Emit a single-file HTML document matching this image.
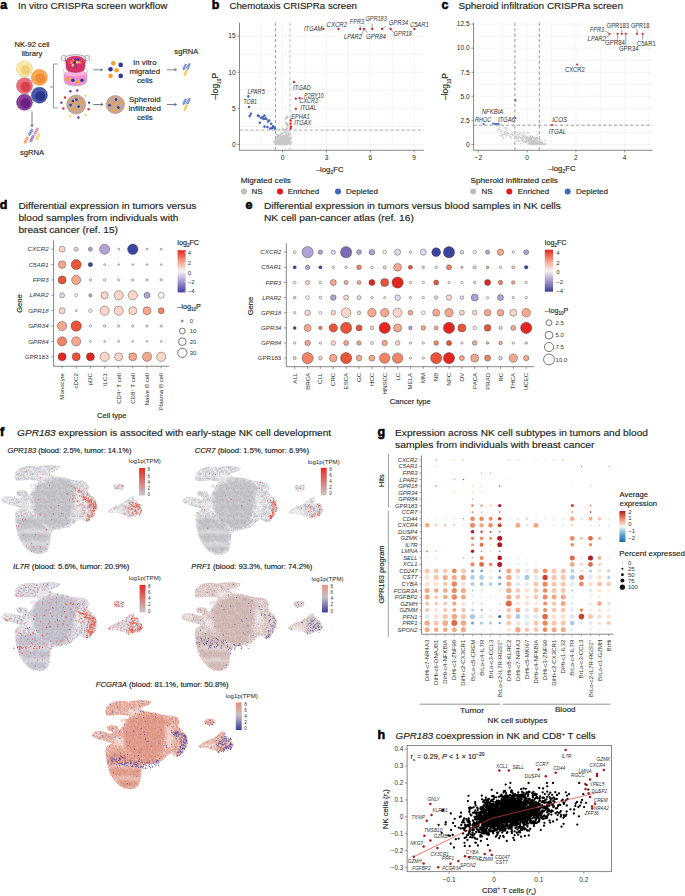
<!DOCTYPE html>
<html><head><meta charset="utf-8"><title>Figure</title>
<style>html,body{margin:0;padding:0;background:#fff;}svg{display:block;}</style>
</head><body>
<svg width="685" height="896" viewBox="0 0 685 896" font-family='"Liberation Sans", sans-serif' fill="#231f20"><text x="0.3" y="9.4" font-size="12.5" font-weight="bold" fill="#000" stroke="#000" stroke-width="0.55">a</text>
<text x="18.1" y="9.4" font-size="9" stroke="#231f20" stroke-width="0.15" textLength="149.4" lengthAdjust="spacingAndGlyphs">In vitro CRISPRa screen workflow</text>
<text x="32" y="46.6" font-size="7.6" text-anchor="middle" stroke="#231f20" stroke-width="0.15">NK-92 cell</text>
<text x="32" y="56.3" font-size="7.6" text-anchor="middle" stroke="#231f20" stroke-width="0.15">library</text>
<circle cx="24.5" cy="68.9" r="8" fill="#fbeaa6" stroke="#d8c070" stroke-width="0.5"/>
<circle cx="25.4" cy="69.9" r="4.96" fill="#f3d07e"/>
<circle cx="39.4" cy="77.4" r="8" fill="#f8a850" stroke="#d88a40" stroke-width="0.5"/>
<circle cx="40.3" cy="78.4" r="4.96" fill="#f08a34"/>
<circle cx="24.5" cy="85.8" r="8" fill="#ee6f78" stroke="#c05060" stroke-width="0.5"/>
<circle cx="25.4" cy="86.8" r="4.96" fill="#d8404e"/>
<circle cx="39.4" cy="95.2" r="8" fill="#4a58a8" stroke="#303a80" stroke-width="0.5"/>
<circle cx="40.3" cy="96.2" r="4.96" fill="#2c3688"/>
<circle cx="24.5" cy="102.3" r="8" fill="#8e3e9c" stroke="#6a3080" stroke-width="0.5"/>
<circle cx="25.4" cy="103.3" r="4.96" fill="#6a2180"/>
<line x1="32" y1="111.5" x2="32" y2="126.6" stroke="#4a5a70" stroke-width="0.8"/>
<path d="M30.8 124.5L32 126.6L33.2 124.5" stroke="#4a5a70" stroke-width="0.8" fill="none"/>
<path d="M29.1 135.2L29.9 135.1L30.6 134.8L31 134.4L30.9 133.7L30.6 132.9L30.2 132.1L30 131.3L30 130.7L30.4 130.3L31.1 130.1L32 129.9L32.8 129.7" stroke="#5a7cc8" stroke-width="0.9" fill="none" stroke-linecap="round"/>
<path d="M29.1 135.2L28.7 134.4L28.5 133.7L28.7 133.2L29.2 132.8L30 132.6L31 132.5L31.8 132.3L32.3 131.9L32.4 131.4L32.2 130.7L31.8 129.8L31.5 129" stroke="#5a7cc8" stroke-width="0.9" fill="none" stroke-linecap="round"/>
<path d="M30.6 134.8L28.5 133.7M30.9 133.7L29.2 132.8M30 130.7L32.3 131.9M31.1 130.1L32.2 130.7" stroke="#5a7cc8" stroke-width="0.7"/>
<path d="M34.6 134.1L35.4 134L36.1 133.7L36.5 133.3L36.4 132.6L36.1 131.8L35.7 131L35.5 130.2L35.5 129.6L35.9 129.2L36.6 129L37.5 128.8L38.3 128.6" stroke="#e070a0" stroke-width="0.9" fill="none" stroke-linecap="round"/>
<path d="M34.6 134.1L34.2 133.3L34 132.6L34.2 132.1L34.7 131.7L35.5 131.5L36.5 131.4L37.3 131.2L37.8 130.8L37.9 130.3L37.7 129.6L37.3 128.7L37 127.9" stroke="#e070a0" stroke-width="0.9" fill="none" stroke-linecap="round"/>
<path d="M36.1 133.7L34 132.6M36.4 132.6L34.7 131.7M35.5 129.6L37.8 130.8M36.6 129L37.7 129.6" stroke="#e070a0" stroke-width="0.7"/>
<path d="M30.5 141.4L31.3 141.3L32 141L32.4 140.6L32.3 139.9L32 139.1L31.6 138.3L31.4 137.5L31.4 136.9L31.8 136.5L32.5 136.3L33.4 136.1L34.2 135.9" stroke="#9a5cc0" stroke-width="0.9" fill="none" stroke-linecap="round"/>
<path d="M30.5 141.4L30.1 140.6L29.9 139.9L30.1 139.4L30.6 139L31.4 138.8L32.4 138.7L33.2 138.5L33.7 138.1L33.8 137.6L33.6 136.9L33.2 136L32.9 135.2" stroke="#9a5cc0" stroke-width="0.9" fill="none" stroke-linecap="round"/>
<path d="M32 141L29.9 139.9M32.3 139.9L30.6 139M31.4 136.9L33.7 138.1M32.5 136.3L33.6 136.9" stroke="#9a5cc0" stroke-width="0.7"/>
<path d="M24.7 142.9L25.5 142.8L26.2 142.5L26.6 142.1L26.5 141.4L26.2 140.6L25.8 139.8L25.6 139L25.6 138.4L26 138L26.7 137.8L27.6 137.6L28.4 137.4" stroke="#f09040" stroke-width="0.9" fill="none" stroke-linecap="round"/>
<path d="M24.7 142.9L24.3 142.1L24.1 141.4L24.3 140.9L24.8 140.5L25.6 140.3L26.6 140.2L27.4 140L27.9 139.6L28 139.1L27.8 138.4L27.4 137.5L27.1 136.7" stroke="#f09040" stroke-width="0.9" fill="none" stroke-linecap="round"/>
<path d="M26.2 142.5L24.1 141.4M26.5 141.4L24.8 140.5M25.6 138.4L27.9 139.6M26.7 137.8L27.8 138.4" stroke="#f09040" stroke-width="0.7"/>
<path d="M36.4 139.6L37.2 139.5L37.9 139.2L38.3 138.8L38.2 138.1L37.9 137.3L37.5 136.5L37.3 135.7L37.3 135.1L37.7 134.7L38.4 134.5L39.3 134.3L40.1 134.1" stroke="#f5cc50" stroke-width="0.9" fill="none" stroke-linecap="round"/>
<path d="M36.4 139.6L36 138.8L35.8 138.1L36 137.6L36.5 137.2L37.3 137L38.3 136.9L39.1 136.7L39.6 136.3L39.7 135.8L39.5 135.1L39.1 134.2L38.8 133.4" stroke="#f5cc50" stroke-width="0.9" fill="none" stroke-linecap="round"/>
<path d="M37.9 139.2L35.8 138.1M38.2 138.1L36.5 137.2M37.3 135.1L39.6 136.3M38.4 134.5L39.5 135.1" stroke="#f5cc50" stroke-width="0.7"/>
<text x="32" y="155" font-size="7.6" text-anchor="middle" stroke="#231f20" stroke-width="0.15">sgRNA</text>
<path d="M57.8 64H53.4V108H57.8M50 87H53.4" stroke="#6a6a6a" stroke-width="0.7" fill="none"/>
<path d="M64.0 73.2V80.6Q64.3 86.0 75.5 86.1Q86.7 86.0 87.0 80.6V73.2Z" fill="#f590cc" stroke="#8fbcbc" stroke-width="0.5"/>
<ellipse cx="75.5" cy="73.4" rx="11.5" ry="2.6" fill="#f8b4de"/>
<circle cx="67.6" cy="79.3" r="1.8" fill="#f5a030"/>
<circle cx="72.9" cy="80.2" r="1.8" fill="#2c3a98"/>
<circle cx="77.6" cy="81.8" r="1.8" fill="#f5a030"/>
<circle cx="82" cy="80.2" r="1.8" fill="#2c3a98"/>
<path d="M63.4 73.0V69.6Q63.6 66.4 75.5 66.2Q87.4 66.4 87.6 69.6V73.0" fill="none" stroke="#9cc8c8" stroke-width="0.55"/>
<path d="M65.8 55.6Q62.0 55.0 61.2 56.6Q61.0 57.6 62.4 58.0Q60.8 58.6 61.4 60.0Q62.4 61.2 65.8 61.0Z" fill="#f4f4f4" stroke="#6a6a6a" stroke-width="0.45"/>
<path d="M85.2 55.6Q89.0 55.0 89.8 56.6Q90.0 57.6 88.6 58.0Q90.2 58.6 89.6 60.0Q88.6 61.2 85.2 61.0Z" fill="#f4f4f4" stroke="#6a6a6a" stroke-width="0.45"/>
<path d="M65.2 58.4L66.4 68.6Q67.0 72.4 75.5 72.5Q84.0 72.4 84.6 68.6L85.8 58.4Z" fill="#d43268" stroke="#a82a50" stroke-width="0.4"/>
<ellipse cx="75.5" cy="58.3" rx="10.6" ry="3.7" fill="#e8e8e8" stroke="#6a6a6a" stroke-width="0.5"/>
<ellipse cx="75.5" cy="60.6" rx="9.2" ry="4.6" fill="#dc3a70"/>
<path d="M66.4 66.4Q75.5 69.6 84.6 66.4" stroke="#b82a58" stroke-width="0.5" fill="none"/>
<circle cx="75.5" cy="59.3" r="1.25" fill="#7a2a98"/>
<circle cx="78.1" cy="59.6" r="1.25" fill="#2c3a98"/>
<circle cx="71.4" cy="62.6" r="1.25" fill="#f5a030"/>
<circle cx="74.6" cy="62.3" r="1.25" fill="#2c3a98"/>
<circle cx="77.3" cy="62.2" r="1.25" fill="#fbe080"/>
<circle cx="79.6" cy="62.6" r="1.25" fill="#f5a030"/>
<circle cx="72.9" cy="65.2" r="1.25" fill="#fbe080"/>
<circle cx="75.5" cy="65.5" r="1.25" fill="#7a2a98"/>
<circle cx="73" cy="60.3" r="1.25" fill="#f07040"/>
<circle cx="76.2" cy="104.5" r="9.5" fill="#c8a690" stroke="#a08070" stroke-width="0.5"/>
<circle cx="76.5" cy="99.6" r="1.3" fill="#2c3a98"/>
<circle cx="81.3" cy="102" r="1.3" fill="#f5a030"/>
<circle cx="74.7" cy="103.1" r="1.3" fill="#f5a030"/>
<circle cx="70.6" cy="105.1" r="1.3" fill="#2c3a98"/>
<circle cx="78.7" cy="106.5" r="1.3" fill="#2c3a98"/>
<circle cx="74.9" cy="109.4" r="1.3" fill="#f5a030"/>
<circle cx="72.9" cy="101" r="1.3" fill="#2c3a98"/>
<circle cx="70.4" cy="91.3" r="1.2" fill="#7a2a98"/>
<circle cx="77.3" cy="90.5" r="1.2" fill="#7a2a98"/>
<circle cx="65" cy="97.5" r="1.2" fill="#e83040"/>
<circle cx="61.4" cy="102.6" r="1.2" fill="#7a2a98"/>
<circle cx="85.5" cy="95.6" r="1.2" fill="#f8d070"/>
<circle cx="89.1" cy="102.6" r="1.2" fill="#2c3a98"/>
<circle cx="63.4" cy="108.5" r="1.2" fill="#e83040"/>
<circle cx="88.6" cy="109.3" r="1.2" fill="#e83040"/>
<circle cx="70.1" cy="116.2" r="1.2" fill="#f8d070"/>
<circle cx="78.4" cy="117.5" r="1.2" fill="#7a2a98"/>
<circle cx="85.5" cy="115" r="1.2" fill="#f8d070"/>
<line x1="93.2" y1="69.8" x2="102.6" y2="69.8" stroke="#5a6b80" stroke-width="0.8"/>
<path d="M100.5 71L102.6 69.8L100.5 68.6" stroke="#5a6b80" stroke-width="0.8" fill="none"/>
<line x1="93.2" y1="104.5" x2="103" y2="104.5" stroke="#4a5a70" stroke-width="0.8"/>
<path d="M100.9 105.7L103 104.5L100.9 103.3" stroke="#4a5a70" stroke-width="0.8" fill="none"/>
<circle cx="113.3" cy="63.3" r="2.3" fill="#f5a030"/>
<circle cx="120.7" cy="64.9" r="2.3" fill="#2c3a98"/>
<circle cx="110.5" cy="69.3" r="2.3" fill="#2c3a98"/>
<circle cx="116.6" cy="70.3" r="2.3" fill="#f5a030"/>
<circle cx="110.5" cy="75.9" r="2.3" fill="#f5a030"/>
<circle cx="120.7" cy="75.9" r="2.3" fill="#2c3a98"/>
<circle cx="115.4" cy="104.5" r="9.1" fill="#c8a690" stroke="#a08070" stroke-width="0.5"/>
<circle cx="116" cy="99.6" r="1.3" fill="#2c3a98"/>
<circle cx="120.6" cy="102.4" r="1.3" fill="#f5a030"/>
<circle cx="113.9" cy="104" r="1.3" fill="#f5a030"/>
<circle cx="109.6" cy="105.3" r="1.3" fill="#2c3a98"/>
<circle cx="118.4" cy="107.6" r="1.3" fill="#2c3a98"/>
<circle cx="113.8" cy="110.2" r="1.3" fill="#f5a030"/>
<text x="144.8" y="64.5" font-size="7.9" text-anchor="middle" stroke="#231f20" stroke-width="0.15">In vitro</text>
<text x="144.8" y="73.8" font-size="7.9" text-anchor="middle" stroke="#231f20" stroke-width="0.15">migrated</text>
<text x="144.8" y="83" font-size="7.9" text-anchor="middle" stroke="#231f20" stroke-width="0.15">cells</text>
<text x="144.8" y="101.7" font-size="7.9" text-anchor="middle" stroke="#231f20" stroke-width="0.15">Spheroid</text>
<text x="144.8" y="110.8" font-size="7.9" text-anchor="middle" stroke="#231f20" stroke-width="0.15">infiltrated</text>
<text x="144.8" y="119.9" font-size="7.9" text-anchor="middle" stroke="#231f20" stroke-width="0.15">cells</text>
<line x1="167" y1="69.8" x2="176.4" y2="69.8" stroke="#5a6b80" stroke-width="0.8"/>
<path d="M174.3 71L176.4 69.8L174.3 68.6" stroke="#5a6b80" stroke-width="0.8" fill="none"/>
<line x1="167" y1="104.5" x2="176.4" y2="104.5" stroke="#4a5a70" stroke-width="0.8"/>
<path d="M174.3 105.7L176.4 104.5L174.3 103.3" stroke="#4a5a70" stroke-width="0.8" fill="none"/>
<text x="186.4" y="54" font-size="7.6" text-anchor="middle" stroke="#231f20" stroke-width="0.15">sgRNA</text>
<path d="M183.4 69.6L184.1 69.4L184.7 69.2L185 68.8L184.9 68.2L184.7 67.6L184.3 66.9L184 66.2L184 65.7L184.3 65.3L184.9 65L185.7 64.8L186.4 64.6" stroke="#5a7cc8" stroke-width="0.9" fill="none" stroke-linecap="round"/>
<path d="M183.4 69.6L183 68.9L182.9 68.3L183 67.9L183.5 67.5L184.1 67.3L184.9 67.1L185.6 66.9L186 66.6L186.1 66.1L185.9 65.5L185.6 64.8L185.2 64.1" stroke="#5a7cc8" stroke-width="0.9" fill="none" stroke-linecap="round"/>
<path d="M184.7 69.2L182.9 68.3M184.9 68.2L183.5 67.5M184 65.7L186 66.6M184.9 65L185.9 65.5" stroke="#5a7cc8" stroke-width="0.7"/>
<path d="M187.2 69L187.9 68.8L188.5 68.6L188.8 68.2L188.7 67.6L188.5 67L188.1 66.3L187.8 65.6L187.8 65.1L188.1 64.7L188.7 64.4L189.5 64.2L190.2 64" stroke="#5a7cc8" stroke-width="0.9" fill="none" stroke-linecap="round"/>
<path d="M187.2 69L186.8 68.3L186.7 67.7L186.8 67.3L187.3 66.9L187.9 66.7L188.7 66.5L189.4 66.3L189.8 66L189.9 65.5L189.7 64.9L189.4 64.2L189 63.5" stroke="#5a7cc8" stroke-width="0.9" fill="none" stroke-linecap="round"/>
<path d="M188.5 68.6L186.7 67.7M188.7 67.6L187.3 66.9M187.8 65.1L189.8 66M188.7 64.4L189.7 64.9" stroke="#5a7cc8" stroke-width="0.7"/>
<path d="M184.4 75.4L185.1 75.2L185.7 75L186 74.6L185.9 74L185.7 73.4L185.3 72.7L185 72L185 71.5L185.3 71.1L185.9 70.8L186.7 70.6L187.4 70.4" stroke="#f5c040" stroke-width="0.9" fill="none" stroke-linecap="round"/>
<path d="M184.4 75.4L184 74.7L183.9 74.1L184 73.7L184.5 73.3L185.1 73.1L185.9 72.9L186.6 72.7L187 72.4L187.1 71.9L186.9 71.3L186.6 70.6L186.2 69.9" stroke="#f5c040" stroke-width="0.9" fill="none" stroke-linecap="round"/>
<path d="M185.7 75L183.9 74.1M185.9 74L184.5 73.3M185 71.5L187 72.4M185.9 70.8L186.9 71.3" stroke="#f5c040" stroke-width="0.7"/>
<path d="M183.4 104.3L184.1 104.1L184.7 103.9L185 103.5L184.9 102.9L184.7 102.3L184.3 101.6L184 100.9L184 100.4L184.3 100L184.9 99.7L185.7 99.5L186.4 99.3" stroke="#5a7cc8" stroke-width="0.9" fill="none" stroke-linecap="round"/>
<path d="M183.4 104.3L183 103.6L182.9 103L183 102.6L183.5 102.2L184.1 102L184.9 101.8L185.6 101.6L186 101.3L186.1 100.8L185.9 100.2L185.6 99.5L185.2 98.8" stroke="#5a7cc8" stroke-width="0.9" fill="none" stroke-linecap="round"/>
<path d="M184.7 103.9L182.9 103M184.9 102.9L183.5 102.2M184 100.4L186 101.3M184.9 99.7L185.9 100.2" stroke="#5a7cc8" stroke-width="0.7"/>
<path d="M187.2 103.7L187.9 103.5L188.5 103.3L188.8 102.9L188.7 102.3L188.5 101.7L188.1 101L187.8 100.3L187.8 99.8L188.1 99.4L188.7 99.1L189.5 98.9L190.2 98.7" stroke="#5a7cc8" stroke-width="0.9" fill="none" stroke-linecap="round"/>
<path d="M187.2 103.7L186.8 103L186.7 102.4L186.8 102L187.3 101.6L187.9 101.4L188.7 101.2L189.4 101L189.8 100.7L189.9 100.2L189.7 99.6L189.4 98.9L189 98.2" stroke="#5a7cc8" stroke-width="0.9" fill="none" stroke-linecap="round"/>
<path d="M188.5 103.3L186.7 102.4M188.7 102.3L187.3 101.6M187.8 99.8L189.8 100.7M188.7 99.1L189.7 99.6" stroke="#5a7cc8" stroke-width="0.7"/>
<path d="M184.4 110.1L185.1 109.9L185.7 109.7L186 109.3L185.9 108.7L185.7 108.1L185.3 107.4L185 106.7L185 106.2L185.3 105.8L185.9 105.5L186.7 105.3L187.4 105.1" stroke="#f5c040" stroke-width="0.9" fill="none" stroke-linecap="round"/>
<path d="M184.4 110.1L184 109.4L183.9 108.8L184 108.4L184.5 108L185.1 107.8L185.9 107.6L186.6 107.4L187 107.1L187.1 106.6L186.9 106L186.6 105.3L186.2 104.6" stroke="#f5c040" stroke-width="0.9" fill="none" stroke-linecap="round"/>
<path d="M185.7 109.7L183.9 108.8M185.9 108.7L184.5 108M185 106.2L187 107.1M185.9 105.5L186.9 106" stroke="#f5c040" stroke-width="0.7"/>
<text x="211.8" y="9.4" font-size="12.5" font-weight="bold" fill="#000" stroke="#000" stroke-width="0.55">b</text>
<text x="229.4" y="9.4" font-size="9" stroke="#231f20" stroke-width="0.15" textLength="127.6" lengthAdjust="spacingAndGlyphs">Chemotaxis CRISPRa screen</text>
<line x1="260.8" y1="22.8" x2="260.8" y2="150.3" stroke="#ebebeb" stroke-width="0.5"/>
<line x1="282.7" y1="22.8" x2="282.7" y2="150.3" stroke="#ebebeb" stroke-width="0.5"/>
<line x1="304.6" y1="22.8" x2="304.6" y2="150.3" stroke="#ebebeb" stroke-width="0.5"/>
<line x1="326.5" y1="22.8" x2="326.5" y2="150.3" stroke="#ebebeb" stroke-width="0.5"/>
<line x1="348.4" y1="22.8" x2="348.4" y2="150.3" stroke="#ebebeb" stroke-width="0.5"/>
<line x1="370.3" y1="22.8" x2="370.3" y2="150.3" stroke="#ebebeb" stroke-width="0.5"/>
<line x1="392.2" y1="22.8" x2="392.2" y2="150.3" stroke="#ebebeb" stroke-width="0.5"/>
<line x1="414.1" y1="22.8" x2="414.1" y2="150.3" stroke="#ebebeb" stroke-width="0.5"/>
<line x1="239.5" y1="144.5" x2="424" y2="144.5" stroke="#ebebeb" stroke-width="0.5"/>
<line x1="239.5" y1="126.5" x2="424" y2="126.5" stroke="#ebebeb" stroke-width="0.5"/>
<line x1="239.5" y1="108.4" x2="424" y2="108.4" stroke="#ebebeb" stroke-width="0.5"/>
<line x1="239.5" y1="90.3" x2="424" y2="90.3" stroke="#ebebeb" stroke-width="0.5"/>
<line x1="239.5" y1="72.3" x2="424" y2="72.3" stroke="#ebebeb" stroke-width="0.5"/>
<line x1="239.5" y1="54.2" x2="424" y2="54.2" stroke="#ebebeb" stroke-width="0.5"/>
<line x1="239.5" y1="36.2" x2="424" y2="36.2" stroke="#ebebeb" stroke-width="0.5"/>
<line x1="239.5" y1="22.8" x2="239.5" y2="150.3" stroke="#555" stroke-width="0.7"/>
<line x1="239.5" y1="150.3" x2="424" y2="150.3" stroke="#555" stroke-width="0.7"/>
<line x1="237.3" y1="144.5" x2="239.5" y2="144.5" stroke="#555" stroke-width="0.6"/>
<text x="235.6" y="146.7" font-size="6.6" text-anchor="end">0</text>
<line x1="237.3" y1="108.4" x2="239.5" y2="108.4" stroke="#555" stroke-width="0.6"/>
<text x="235.6" y="110.6" font-size="6.6" text-anchor="end">5</text>
<line x1="237.3" y1="72.3" x2="239.5" y2="72.3" stroke="#555" stroke-width="0.6"/>
<text x="235.6" y="74.5" font-size="6.6" text-anchor="end">10</text>
<line x1="237.3" y1="36.2" x2="239.5" y2="36.2" stroke="#555" stroke-width="0.6"/>
<text x="235.6" y="38.4" font-size="6.6" text-anchor="end">15</text>
<line x1="282.7" y1="150.3" x2="282.7" y2="152.5" stroke="#555" stroke-width="0.6"/>
<text x="282.7" y="159.8" font-size="6.6" text-anchor="middle">0</text>
<line x1="326.5" y1="150.3" x2="326.5" y2="152.5" stroke="#555" stroke-width="0.6"/>
<text x="326.5" y="159.8" font-size="6.6" text-anchor="middle">3</text>
<line x1="370.3" y1="150.3" x2="370.3" y2="152.5" stroke="#555" stroke-width="0.6"/>
<text x="370.3" y="159.8" font-size="6.6" text-anchor="middle">6</text>
<line x1="414.1" y1="150.3" x2="414.1" y2="152.5" stroke="#555" stroke-width="0.6"/>
<text x="414.1" y="159.8" font-size="6.6" text-anchor="middle">9</text>
<line x1="275.4" y1="22.8" x2="275.4" y2="150.3" stroke="#555" stroke-width="0.6" stroke-dasharray="3.2,2.2"/>
<line x1="290" y1="22.8" x2="290" y2="150.3" stroke="#999" stroke-width="0.6" stroke-dasharray="3.2,2.2"/>
<line x1="239.5" y1="130.1" x2="424" y2="130.1" stroke="#777" stroke-width="0.6" stroke-dasharray="3.2,2.2"/>
<path d="M282.5 141.5h0M282.6 142.7h0M280 143.3h0M287.5 142.1h0M287.2 143.1h0M284.9 143.4h0M277.3 139.6h0M285.3 141.6h0M277.3 134.4h0M280.2 141.8h0M284.5 144.2h0M285.3 140.8h0M284.6 142.2h0M281 134.6h0M285.5 137.6h0M281.2 140.2h0M282.2 143.9h0M285.7 143.1h0M281.8 139h0M281.5 137.4h0M280.5 143.1h0M285 135.9h0M283.6 137h0M276.1 142.6h0M283 139.8h0M285.2 144.1h0M278.1 139.7h0M285.9 139h0M288.7 142.4h0M283.9 137h0M285.7 141h0M281.8 137.2h0M279.9 141.4h0M288.1 132.8h0M278.1 143.1h0M288.7 141.2h0M276.5 130h0M284.7 140.2h0M279.3 138.9h0M287.5 143.6h0M284.3 142h0M289.2 140.9h0M285.3 141.3h0M277.7 137.1h0M286.9 141.4h0M276.2 140.8h0M286.5 134h0M282.8 138.6h0M278.6 135.2h0M285.4 143.6h0M284.6 140.7h0M283.9 137.9h0M281 142.1h0M287.2 144.3h0M280.2 139h0M288.8 141.9h0M278.4 143.7h0M282.9 142.8h0M288.6 138.6h0M288 137.2h0M280.6 140.9h0M287.5 139.5h0M284.7 143.7h0M284 141.2h0M282.8 142.9h0M285.5 144.5h0M286.2 141.2h0M290.8 142.6h0M281.9 142.3h0M283.4 139.2h0M282.2 142.3h0M290.1 129.7h0M279.3 143.1h0M284.9 143.1h0M281.9 140.7h0M284.5 141.5h0M291.2 142.4h0M281.4 143.9h0M282.6 144.1h0M273.9 141.7h0M287.1 137.8h0M283.2 139h0M286.6 135.9h0M277.2 142.5h0M282.2 140.9h0M287.4 129h0M287.4 136.1h0M285.9 135.9h0M284.1 137.6h0M282.9 143.4h0M286.3 143.7h0M283.1 135.6h0M287.3 142.8h0M291.2 137.9h0M286.8 143h0M283.9 140.4h0M284.2 140.8h0M277.9 135.8h0M285.7 138.9h0M279.7 136h0M288.1 140.2h0M288.8 139.1h0M283.4 137.9h0M286.2 135.3h0M280.2 135.5h0M287 143.5h0M276.2 136.4h0M283.1 141h0M284.9 142.1h0M288.9 138.6h0M287.6 135.9h0M288.7 143.5h0M280.7 138.6h0M283.9 143.8h0M288.6 143h0M275 142.3h0M276.7 139.8h0M284.6 141h0M283.4 139.7h0M283.7 136.8h0M283.2 138.5h0M288.9 135.2h0M281 139.4h0M276.6 138.2h0M276.3 138.3h0M278.9 144.4h0M282.7 144.3h0M281.3 143.2h0M290 144.2h0M285.4 138.7h0M282.7 137.2h0M281.4 138.3h0M277.4 141h0M287.1 139.9h0M283.5 139.8h0M284 137.7h0M277.7 140.8h0M286.8 141.2h0M280.1 140h0M277.8 143.8h0M279.1 142.4h0M274.8 142.6h0M281.1 133.3h0M286.1 142.9h0M275.3 139.4h0M284.5 141.9h0M286.3 140.2h0M285.9 142.6h0M288.3 140.7h0M285.1 132.5h0M286.7 136.9h0M282.3 141.8h0M290.5 134.3h0M285.1 130.5h0M280 140.5h0M290.3 143.8h0M285.5 139.3h0M280.1 144h0M284.5 139.7h0M283.3 143.4h0M279.7 142.4h0M286.7 143.9h0M280.3 139.6h0M291.2 137.9h0M285.8 129.5h0M285.7 141.7h0M289.6 142h0M283.2 141.5h0M276.3 138.5h0M284.6 140.4h0M288.3 134h0M278.3 140.7h0M284.5 143.4h0M282 138.9h0M291.2 138.5h0M279.1 136.7h0M289.6 138.8h0M290.1 139.8h0M280.2 143h0M275.5 140.2h0M283.2 141.5h0M280.8 143.8h0M285.1 142.3h0M285.8 143.3h0M282.2 139.9h0M283.6 139.7h0M281.1 144.5h0M283 143.6h0M283.4 143.5h0M282.9 137.2h0M285 138.4h0M285 143.4h0M285.1 138.9h0M276.5 144.2h0M280 140.2h0M279.5 129.3h0M279.6 135.4h0M282 136.6h0M280.6 141.5h0M285.2 143.5h0M288.8 140.4h0M283.4 141.1h0M289.5 138.9h0M287.2 138.2h0M282.9 140.3h0M282.3 138.3h0M285.6 139.3h0M282.7 129.8h0M288 143.3h0M283.8 129.5h0M282.2 139.5h0M287 144.5h0M279.2 143.4h0M284.7 138h0M286.3 144.4h0M286.5 141.4h0M284.2 144.2h0M282.5 140.5h0M279.6 140.9h0M283.4 136h0M281.8 132.9h0M280.9 141.2h0M285.5 144.2h0M282.6 136.3h0M290.1 141.5h0M287.4 139.4h0M282.8 134h0M286.3 139.1h0M276.5 144.2h0M285.7 134.3h0M276.8 138.3h0M281.1 136.4h0M283.5 143.1h0M285.7 140.4h0M288.9 137.8h0M278.6 141.6h0M279.6 138.3h0M283.1 144.5h0M285.2 135.3h0M278.9 144.4h0M282.7 142.7h0M283.2 140.1h0M286 142.5h0M283.1 140.6h0M282.8 128.8h0M279.8 144.3h0M277.9 143.3h0M284 136.5h0M282.5 142.7h0M285.1 141h0M283.3 139.6h0M282.9 144.1h0M286.1 142.8h0M280.8 136.7h0M282.1 140.2h0M279.4 143.8h0M281.6 143.9h0M285.3 142.1h0M291.2 142.6h0M287.5 143.8h0M287.5 130.8h0M280.7 143.1h0M285.6 131h0M284.6 137.1h0M286.2 139h0M285.3 143.6h0M285.3 138.3h0M287.7 138.6h0M284.3 132.3h0M282.6 144.4h0M285.6 122.2h0M287.9 124.7h0M286.3 124.1h0M287.2 117.7h0M285.6 118.9h0M289.9 127.1h0M290.4 119.3h0M290.2 124.8h0M287.5 123.5h0M290.7 121h0M287.5 123.1h0M287 128h0M286.1 117.8h0M287.1 116.5h0M286.9 125.2h0M288.2 126.1h0M287.5 116.2h0M290.1 118.1h0" stroke="#c8c8c8" stroke-width="1.9" stroke-linecap="round" fill="none"/>
<path d="M248.4 96.4h0M249 107h0M250.9 113.7h0M249.7 116.1h0M257.9 115.6h0M258.8 116.1h0M259.8 122.8h0M262.6 117.1h0M264.5 115.6h0M265.5 118.4h0M263.6 119h0M266.4 119h0M269.3 120.5h0M271.2 123.7h0M264.5 126.6h0M267.4 127.1h0M270.2 128.5h0M272.1 128.1h0M274 127.5h0M275 128.5h0M268 121.5h0M273 126.2h0M261 118h0" stroke="#4466bb" stroke-width="2.6" stroke-linecap="round" fill="none"/>
<path d="M294 82h0M299.6 98.1h0M295.8 98.7h0M295.8 108.9h0M290.7 120.5h0M290.7 123.7h0M291.1 126.6h0M290.7 128.5h0M323.4 29h0M338.4 29h0M360.2 29h0M364 29h0M372.2 29h0M382 29h0M390.6 29h0M414.3 29h0" stroke="#e31a1c" stroke-width="2.3" stroke-linecap="round" fill="none"/>
<path d="M360.4 28.2L360 25.4M364.2 29.6L361 35.4M365 29.6L367.4 32.6M372.2 28L372.2 23.6M382.4 28.6L386 26.2M390.8 29.6L394.8 33.2" stroke="#333" stroke-width="0.45" fill="none"/>
<text x="304" y="31.3" font-size="6.4" font-style="italic" fill="#333" textLength="18.4" lengthAdjust="spacingAndGlyphs">ITGAM</text>
<text x="326.6" y="26.6" font-size="6.4" font-style="italic" fill="#333" textLength="20.4" lengthAdjust="spacingAndGlyphs">CXCR2</text>
<text x="349.8" y="23.7" font-size="6.4" font-style="italic" fill="#333" textLength="14.2" lengthAdjust="spacingAndGlyphs">FPR3</text>
<text x="365.5" y="21.4" font-size="6.4" font-style="italic" fill="#333" textLength="21.3" lengthAdjust="spacingAndGlyphs">GPR183</text>
<text x="388.7" y="24.9" font-size="6.4" font-style="italic" fill="#333" textLength="19.5" lengthAdjust="spacingAndGlyphs">GPR34</text>
<text x="410" y="27.1" font-size="6.4" font-style="italic" fill="#333" textLength="18.6" lengthAdjust="spacingAndGlyphs">C5AR1</text>
<text x="344" y="38.5" font-size="6.4" font-style="italic" fill="#333" textLength="18" lengthAdjust="spacingAndGlyphs">LPAR2</text>
<text x="366" y="38.5" font-size="6.4" font-style="italic" fill="#333" textLength="20" lengthAdjust="spacingAndGlyphs">GPR84</text>
<text x="393.6" y="36.4" font-size="6.4" font-style="italic" fill="#333" textLength="18.4" lengthAdjust="spacingAndGlyphs">GPR18</text>
<text x="293" y="90.3" font-size="6.4" font-style="italic" fill="#333" textLength="17.8" lengthAdjust="spacingAndGlyphs">ITGAD</text>
<text x="304.2" y="98.3" font-size="6.4" font-style="italic" fill="#333" textLength="19.5" lengthAdjust="spacingAndGlyphs">P2RY10</text>
<text x="299.5" y="103.3" font-size="6.4" font-style="italic" fill="#333" textLength="18.5" lengthAdjust="spacingAndGlyphs">CXCR3</text>
<text x="300.2" y="109.8" font-size="6.4" font-style="italic" fill="#333" textLength="16.5" lengthAdjust="spacingAndGlyphs">ITGAL</text>
<text x="291.2" y="118.8" font-size="6.4" font-style="italic" fill="#333" textLength="18.5" lengthAdjust="spacingAndGlyphs">EPHA1</text>
<text x="294.3" y="125.2" font-size="6.4" font-style="italic" fill="#333" textLength="17" lengthAdjust="spacingAndGlyphs">ITGAX</text>
<text x="247.4" y="93.6" font-size="6.4" font-style="italic" fill="#333" textLength="17.4" lengthAdjust="spacingAndGlyphs">LPAR5</text>
<text x="243.5" y="104" font-size="6.4" font-style="italic" fill="#333" textLength="13.5" lengthAdjust="spacingAndGlyphs">TOB1</text>
<text x="218.4" y="86.4" font-size="8.4" text-anchor="middle" stroke="#231f20" stroke-width="0.15" transform="rotate(-90 218.4 86.4)">–log<tspan font-size="4.8" dy="3">10</tspan><tspan dy="-3">P</tspan></text>
<text x="329.6" y="172" font-size="7.8" text-anchor="middle" stroke="#231f20" stroke-width="0.15">–log<tspan font-size="5" dy="1.8">2</tspan><tspan dy="-1.8">FC</tspan></text>
<text x="240.8" y="182.5" font-size="8" stroke="#231f20" stroke-width="0.15" textLength="50" lengthAdjust="spacingAndGlyphs">Migrated cells</text>
<circle cx="244" cy="191.5" r="3" fill="#bdbdbd"/>
<text x="251.6" y="194.3" font-size="8" stroke="#231f20" stroke-width="0.15">NS</text>
<circle cx="280" cy="191.5" r="3" fill="#e31a1c"/>
<text x="287.7" y="194.3" font-size="8" stroke="#231f20" stroke-width="0.15" textLength="31.4" lengthAdjust="spacingAndGlyphs">Enriched</text>
<circle cx="338" cy="191.5" r="3" fill="#4466bb"/>
<text x="346" y="194.3" font-size="8" stroke="#231f20" stroke-width="0.15" textLength="32" lengthAdjust="spacingAndGlyphs">Depleted</text>
<text x="441.5" y="9.4" font-size="12.5" font-weight="bold" fill="#000" stroke="#000" stroke-width="0.55">c</text>
<text x="458.6" y="9.4" font-size="9" stroke="#231f20" stroke-width="0.15" textLength="164.4" lengthAdjust="spacingAndGlyphs">Spheroid infiltration CRISPRa screen</text>
<line x1="478.3" y1="22.8" x2="478.3" y2="150.3" stroke="#ebebeb" stroke-width="0.5"/>
<line x1="502.7" y1="22.8" x2="502.7" y2="150.3" stroke="#ebebeb" stroke-width="0.5"/>
<line x1="527.1" y1="22.8" x2="527.1" y2="150.3" stroke="#ebebeb" stroke-width="0.5"/>
<line x1="551.5" y1="22.8" x2="551.5" y2="150.3" stroke="#ebebeb" stroke-width="0.5"/>
<line x1="575.9" y1="22.8" x2="575.9" y2="150.3" stroke="#ebebeb" stroke-width="0.5"/>
<line x1="600.3" y1="22.8" x2="600.3" y2="150.3" stroke="#ebebeb" stroke-width="0.5"/>
<line x1="624.7" y1="22.8" x2="624.7" y2="150.3" stroke="#ebebeb" stroke-width="0.5"/>
<line x1="649.1" y1="22.8" x2="649.1" y2="150.3" stroke="#ebebeb" stroke-width="0.5"/>
<line x1="473.6" y1="144.5" x2="652.5" y2="144.5" stroke="#ebebeb" stroke-width="0.5"/>
<line x1="473.6" y1="132.5" x2="652.5" y2="132.5" stroke="#ebebeb" stroke-width="0.5"/>
<line x1="473.6" y1="120.4" x2="652.5" y2="120.4" stroke="#ebebeb" stroke-width="0.5"/>
<line x1="473.6" y1="108.4" x2="652.5" y2="108.4" stroke="#ebebeb" stroke-width="0.5"/>
<line x1="473.6" y1="96.3" x2="652.5" y2="96.3" stroke="#ebebeb" stroke-width="0.5"/>
<line x1="473.6" y1="84.3" x2="652.5" y2="84.3" stroke="#ebebeb" stroke-width="0.5"/>
<line x1="473.6" y1="72.3" x2="652.5" y2="72.3" stroke="#ebebeb" stroke-width="0.5"/>
<line x1="473.6" y1="60.2" x2="652.5" y2="60.2" stroke="#ebebeb" stroke-width="0.5"/>
<line x1="473.6" y1="48.2" x2="652.5" y2="48.2" stroke="#ebebeb" stroke-width="0.5"/>
<line x1="473.6" y1="36.2" x2="652.5" y2="36.2" stroke="#ebebeb" stroke-width="0.5"/>
<line x1="473.6" y1="24.1" x2="652.5" y2="24.1" stroke="#ebebeb" stroke-width="0.5"/>
<line x1="473.6" y1="22.8" x2="473.6" y2="150.3" stroke="#555" stroke-width="0.7"/>
<line x1="473.6" y1="150.3" x2="652.5" y2="150.3" stroke="#555" stroke-width="0.7"/>
<line x1="471.4" y1="144.5" x2="473.6" y2="144.5" stroke="#555" stroke-width="0.6"/>
<text x="469.6" y="146.7" font-size="6.6" text-anchor="end">0</text>
<line x1="471.4" y1="120.4" x2="473.6" y2="120.4" stroke="#555" stroke-width="0.6"/>
<text x="469.6" y="122.6" font-size="6.6" text-anchor="end">2.5</text>
<line x1="471.4" y1="96.3" x2="473.6" y2="96.3" stroke="#555" stroke-width="0.6"/>
<text x="469.6" y="98.5" font-size="6.6" text-anchor="end">5.0</text>
<line x1="471.4" y1="72.3" x2="473.6" y2="72.3" stroke="#555" stroke-width="0.6"/>
<text x="469.6" y="74.5" font-size="6.6" text-anchor="end">7.5</text>
<line x1="471.4" y1="48.2" x2="473.6" y2="48.2" stroke="#555" stroke-width="0.6"/>
<text x="469.6" y="50.4" font-size="6.6" text-anchor="end">10.0</text>
<line x1="471.4" y1="24.1" x2="473.6" y2="24.1" stroke="#555" stroke-width="0.6"/>
<text x="469.6" y="26.3" font-size="6.6" text-anchor="end">12.5</text>
<line x1="478.3" y1="150.3" x2="478.3" y2="152.5" stroke="#555" stroke-width="0.6"/>
<text x="478.3" y="159.8" font-size="6.6" text-anchor="middle">−2</text>
<line x1="527.1" y1="150.3" x2="527.1" y2="152.5" stroke="#555" stroke-width="0.6"/>
<text x="527.1" y="159.8" font-size="6.6" text-anchor="middle">0</text>
<line x1="575.9" y1="150.3" x2="575.9" y2="152.5" stroke="#555" stroke-width="0.6"/>
<text x="575.9" y="159.8" font-size="6.6" text-anchor="middle">2</text>
<line x1="624.7" y1="150.3" x2="624.7" y2="152.5" stroke="#555" stroke-width="0.6"/>
<text x="624.7" y="159.8" font-size="6.6" text-anchor="middle">4</text>
<line x1="514.9" y1="22.8" x2="514.9" y2="150.3" stroke="#555" stroke-width="0.6" stroke-dasharray="3.2,2.2"/>
<line x1="539.3" y1="22.8" x2="539.3" y2="150.3" stroke="#555" stroke-width="0.6" stroke-dasharray="3.2,2.2"/>
<line x1="473.6" y1="125.2" x2="652.5" y2="125.2" stroke="#555" stroke-width="0.6" stroke-dasharray="3.2,2.2"/>
<path d="M545.4 143.8h0M528.7 140.7h0M528.1 140.4h0M502.8 134.6h0M530.7 144.5h0M541.9 144.3h0M534.4 140.6h0M527.5 132.5h0M534.8 141h0M535.4 142.3h0M540.6 144.1h0M535.7 144.2h0M528.9 133.5h0M537.7 142h0M532 138.7h0M539.2 141.5h0M540.3 143.9h0M533.5 143.8h0M538.3 141.4h0M536.7 140.2h0M528.2 144.5h0M524.5 134.5h0M540.6 144.4h0M535.4 143.9h0M539.5 142.4h0M528.6 140.7h0M515.2 134.5h0M520.8 137.7h0M531 141.3h0M528.7 142.9h0M507.7 129.7h0M533.3 142.6h0M532.7 143.5h0M511.8 134.2h0M532.4 143.8h0M529.6 140.2h0M542.9 143.2h0M535.7 142.8h0M532.7 137.2h0M545.3 143.4h0M542.4 143.8h0M534 143.8h0M537.5 143.1h0M545.4 143.9h0M537.5 144.4h0M532.9 143.7h0M522.4 134.1h0M534 141.5h0M532.4 139.7h0M540.4 144.2h0M526.7 140.1h0M531.9 141.2h0M516.8 136.1h0M515.1 135h0M530.1 143.7h0M505.5 131.6h0M534.3 144h0M524.3 135.4h0M508.7 133.2h0M532.7 143.3h0M544.8 144.3h0M521.2 138h0M533.6 144h0M537.9 144h0M510.9 137.2h0M506.3 133.3h0M538.7 144.3h0M521.4 135.7h0M545 140.6h0M537.6 141.4h0M531 139.8h0M525.1 136.9h0M518.5 137.5h0M501.8 135h0M529.4 139.5h0M537 144.1h0M527.2 136.3h0M537.4 142.2h0M537.5 141.5h0M529 138.3h0M530.8 138.8h0M530.3 142.6h0M545.2 144.3h0M506.5 127.6h0M535 144.1h0M526.9 136.4h0M534.5 142.8h0M527.4 138.6h0M534.9 142.9h0M506.2 133h0M520.2 133.1h0M537.1 139.9h0M504.4 132.3h0M539.3 144.4h0M536.4 144.4h0M532.2 137.2h0M530.8 141h0M502.3 134.8h0M529.5 138h0M518.4 138.5h0M532.5 143.6h0M534.7 143.9h0M534.8 141.4h0M533.2 142.6h0M541.6 142.3h0M523.9 141.5h0M503.2 126.7h0M536.4 140.2h0M545.4 144.1h0M499.8 127.2h0M541.2 142.6h0M503.6 138.5h0M531.3 138h0M533.7 138.6h0M540.3 141.7h0M522.4 139.1h0M542.7 144h0M541.6 143.8h0M539.5 140.3h0M532.7 144.1h0M542.1 143.7h0M541 144.3h0M526.9 138.3h0M524.5 137.7h0M529.8 141h0M530 139.8h0M535.8 144.2h0M528.3 140h0M530 137.6h0M534.8 144h0M526.6 142.5h0M539.9 139.9h0M533.7 142.4h0M530.6 136.6h0M516.6 138.6h0M535.5 144.5h0M505.1 133.8h0M541.2 144.5h0M533 142h0M534.4 142h0M538 142.7h0M531.3 144.4h0M540.6 143.4h0M520.9 143.3h0M545.4 144.1h0M542.7 144.1h0M512.6 134.9h0M528.4 144h0M530.6 141.4h0M524.4 141.3h0M536.4 137.6h0M535.2 142.2h0M529.3 139.8h0M527.5 141.5h0M526.5 141.1h0M499.8 135.8h0M501.8 136.3h0M535.2 139.6h0M536.4 144.4h0M535 142.3h0M530.7 140.8h0M514.6 133.7h0M545.4 143.4h0M525.7 137.9h0M522.8 141h0M545.3 144.2h0M535.4 138.1h0M531.9 144.5h0M525.7 139.3h0M510.4 136.4h0M542.3 141.7h0M534.5 144.3h0M522.6 140.7h0M500.8 131.1h0M530.8 135.3h0M508 133.9h0M533.3 141h0M527 136.9h0M532.8 140.3h0M524.9 137.1h0M508.2 133.1h0M537.8 142.4h0M528.1 137.3h0M537.1 138.7h0M535.1 142.7h0M532.4 136.4h0M533.8 140.5h0M538.7 143h0M521.8 140.2h0M526.4 141.3h0M517.1 140.7h0M533.4 137.6h0M538.2 144.2h0M523.1 140.1h0M521.5 135.8h0M522.6 141.1h0M523.4 136.5h0M534.6 143h0M498.5 128.8h0M542.5 144.3h0M531.6 144.3h0M523.7 142.7h0M506.9 133.9h0M502.6 134.6h0M531.4 141.6h0M525.8 138.1h0M525.9 138.8h0M522.3 137.4h0M532.8 140.3h0M519.7 140.9h0M538.2 143.9h0M519.4 141.3h0M540.3 142.8h0M509.7 135.8h0M532.2 141.3h0M526.5 140.7h0M525.5 142.4h0M499.4 126.7h0M503.5 137.6h0M523.5 132.1h0M508.8 132.9h0M533 143.9h0M504.8 128.1h0M529.2 142.9h0M506.2 136.2h0M518 140.1h0M526.1 139.4h0M539.1 142.6h0M538.2 144.3h0M536.1 143.8h0M514.9 137.6h0M540.5 144h0M524 141.5h0M521.5 139.1h0M533.4 142.6h0M536.2 143.9h0M506.9 133h0M534.8 141.3h0M516.3 138.6h0M541.8 144.4h0M526.1 140.6h0M532.4 142.3h0M518 134.8h0M537.7 137.6h0M541 144h0M525.9 140.7h0M507 135h0M501.5 131.5h0M541.2 144.1h0M535 144.3h0M526.7 138.6h0M499.3 129.5h0M531.2 139.9h0M518.4 134.5h0M545.4 144h0M533.1 142.9h0M532.6 141.6h0M500.9 132.9h0M529.4 141h0M505.7 128.7h0M538.3 143.6h0M530.1 143.7h0M531.6 142.1h0M536.5 142.8h0M504.7 131.7h0M525.9 141.9h0M530.3 142.2h0M525.8 141.4h0M535.7 144.4h0M523.4 131.9h0M537 143.9h0M537.2 144.3h0M537 144.2h0M536 144.5h0M532.4 144.2h0M539.9 139h0M538.9 144.3h0M536 143.5h0M539.4 142h0M542.1 144.4h0M519.3 133.8h0M535.2 140.5h0M534.3 141.9h0M539.8 140.4h0M530.9 140.4h0M530 143.2h0M529.2 140.1h0M514.9 133h0M504.2 134.7h0M533.8 141.9h0M531.2 143.1h0M517.4 132.5h0M543.6 144.4h0M533.2 140.8h0M519 136.2h0M527.1 142.1h0M537.1 143.6h0M529.3 142.1h0M536.6 134.7h0M537.1 142.5h0M537.5 138.5h0M528.2 138.8h0M531.8 141.2h0M511.2 138.7h0M529.6 138.8h0M537.5 143h0M497.2 130.8h0M536.3 143.6h0M503.4 134.6h0M537.7 142.8h0M526.6 138.3h0M535 140.9h0M535.8 139.3h0M528.6 139.5h0M544.9 144h0M534.7 143h0M529.2 140.7h0M539.5 143.9h0M545.4 144.3h0M530.6 140.2h0M510.9 134.3h0M513.2 135.4h0M522.3 137.2h0M507.3 134.9h0M533.4 144.4h0M534.6 144.1h0M534.5 138.7h0M519.9 137.3h0M516.5 136.7h0M513 132.5h0" stroke="#c8c8c8" stroke-width="1.5" stroke-linecap="round" fill="none"/>
<path d="M515.5 100.4h0M515.5 118h0M483.6 124.1h0M493.1 123.5h0M495 124h0M498.8 124.1h0M496.8 123.8h0" stroke="#4466bb" stroke-width="2.2" stroke-linecap="round" fill="none"/>
<path d="M552 125h0M577.2 64.5h0M609.5 33.8h0M617.6 33.8h0M621.8 33.8h0M625.8 33.8h0M637 33.8h0M642.7 33.8h0" stroke="#e31a1c" stroke-width="2.2" stroke-linecap="round" fill="none"/>
<path d="M604.6 30.8L608.6 32.8M605.6 38.6L608.8 35M617.6 35V42M621.8 32.6V29.4M625.8 35V45.6M637 32.6V29M642.7 35V39.8" stroke="#333" stroke-width="0.45" fill="none"/>
<text x="590" y="32.3" font-size="6.4" font-style="italic" fill="#333" textLength="14" lengthAdjust="spacingAndGlyphs">FPR3</text>
<text x="587.6" y="40.8" font-size="6.4" font-style="italic" fill="#333" textLength="18.3" lengthAdjust="spacingAndGlyphs">LPAR2</text>
<text x="606.6" y="28" font-size="6.4" fill="#333" textLength="22.4" lengthAdjust="spacingAndGlyphs">GPR183</text>
<text x="631" y="27.5" font-size="6.4" fill="#333" textLength="18.3" lengthAdjust="spacingAndGlyphs">GPR18</text>
<text x="605" y="45" font-size="6.4" fill="#333" textLength="20" lengthAdjust="spacingAndGlyphs">GPR84</text>
<text x="619" y="51.2" font-size="6.4" fill="#333" textLength="19.5" lengthAdjust="spacingAndGlyphs">GPR34</text>
<text x="637" y="45.5" font-size="6.4" fill="#333" textLength="18.6" lengthAdjust="spacingAndGlyphs">C5AR1</text>
<text x="481.8" y="114.4" font-size="6.4" font-style="italic" fill="#333" textLength="21.5" lengthAdjust="spacingAndGlyphs">NFKBIA</text>
<text x="475.1" y="121.6" font-size="6.4" font-style="italic" fill="#333" textLength="16" lengthAdjust="spacingAndGlyphs">RHOC</text>
<text x="497.9" y="121.6" font-size="6.4" font-style="italic" fill="#333" textLength="17" lengthAdjust="spacingAndGlyphs">ITGA6</text>
<text x="552.2" y="121.8" font-size="6.4" font-style="italic" fill="#333" textLength="14.8" lengthAdjust="spacingAndGlyphs">ICOS</text>
<text x="548.7" y="133.6" font-size="6.4" font-style="italic" fill="#333" textLength="17.4" lengthAdjust="spacingAndGlyphs">ITGAL</text>
<text x="564.9" y="71.5" font-size="6.4" fill="#333" textLength="20" lengthAdjust="spacingAndGlyphs">CXCR2</text>
<text x="448.4" y="86.5" font-size="8.4" text-anchor="middle" stroke="#231f20" stroke-width="0.15" transform="rotate(-90 448.4 86.5)">–log<tspan font-size="4.8" dy="3">10</tspan><tspan dy="-3">P</tspan></text>
<text x="561.6" y="171" font-size="7.8" text-anchor="middle" stroke="#231f20" stroke-width="0.15">–log<tspan font-size="5" dy="1.8">2</tspan><tspan dy="-1.8">FC</tspan></text>
<text x="470.4" y="182.5" font-size="8" stroke="#231f20" stroke-width="0.15" textLength="87.6" lengthAdjust="spacingAndGlyphs">Spheroid infiltrated cells</text>
<circle cx="473.2" cy="191.5" r="3" fill="#bdbdbd"/>
<text x="481.6" y="194.3" font-size="8" stroke="#231f20" stroke-width="0.15">NS</text>
<circle cx="509.3" cy="191.5" r="3" fill="#e31a1c"/>
<text x="517.8" y="194.3" font-size="8" stroke="#231f20" stroke-width="0.15" textLength="31.4" lengthAdjust="spacingAndGlyphs">Enriched</text>
<circle cx="567.7" cy="191.5" r="3" fill="#4466bb"/>
<text x="576" y="194.3" font-size="8" stroke="#231f20" stroke-width="0.15" textLength="32" lengthAdjust="spacingAndGlyphs">Depleted</text>
<defs><linearGradient id="gfc" x1="0" y1="0" x2="0" y2="1"><stop offset="0" stop-color="#e3261f"/><stop offset="0.25" stop-color="#f39a80"/><stop offset="0.5" stop-color="#f8f4f4"/><stop offset="0.75" stop-color="#a396cf"/><stop offset="1" stop-color="#3f3f9c"/></linearGradient><linearGradient id="gg" x1="0" y1="0" x2="0" y2="1"><stop offset="0" stop-color="#b2182b"/><stop offset="0.25" stop-color="#ef8a62"/><stop offset="0.5" stop-color="#f7f7f7"/><stop offset="0.75" stop-color="#67a9cf"/><stop offset="1" stop-color="#2166ac"/></linearGradient><linearGradient id="gred" x1="0" y1="0" x2="0" y2="1"><stop offset="0" stop-color="#e8281e"/><stop offset="1" stop-color="#c8c8cc"/></linearGradient><linearGradient id="gblu" x1="0" y1="0" x2="0" y2="1"><stop offset="0" stop-color="#e8907a"/><stop offset="0.45" stop-color="#c8c0c8"/><stop offset="1" stop-color="#3a3c9c"/></linearGradient></defs>
<text x="-0.3" y="209.4" font-size="12.5" font-weight="bold" fill="#000" stroke="#000" stroke-width="0.55">d</text>
<text x="18.4" y="209.4" font-size="9" stroke="#231f20" stroke-width="0.15" textLength="178" lengthAdjust="spacingAndGlyphs">Differential expression in tumors versus</text>
<text x="18.4" y="221.1" font-size="9" stroke="#231f20" stroke-width="0.15" textLength="160" lengthAdjust="spacingAndGlyphs">blood samples from individuals with</text>
<text x="18.4" y="232.7" font-size="9" stroke="#231f20" stroke-width="0.15" textLength="99.5" lengthAdjust="spacingAndGlyphs">breast cancer (ref. 15)</text>
<line x1="53.6" y1="240.2" x2="53.6" y2="366.3" stroke="#555" stroke-width="0.7"/>
<line x1="53.6" y1="366.3" x2="169" y2="366.3" stroke="#555" stroke-width="0.7"/>
<line x1="51.4" y1="249.2" x2="53.6" y2="249.2" stroke="#555" stroke-width="0.6"/>
<text x="48.6" y="251.3" font-size="6.2" text-anchor="end" font-style="italic" fill="#333">CXCR2</text>
<circle cx="62.1" cy="249.2" r="3" fill="#fbd6c9" stroke="#333" stroke-width="0.4"/>
<circle cx="76.2" cy="249.2" r="2" fill="#e2daef" stroke="#333" stroke-width="0.4"/>
<circle cx="90.4" cy="249.2" r="2" fill="#b2a3d7" stroke="#333" stroke-width="0.4"/>
<circle cx="104.6" cy="249.2" r="5" fill="#b2a3d7" stroke="#333" stroke-width="0.4"/>
<circle cx="118.7" cy="249.2" r="1" fill="#f9f6f6" stroke="#333" stroke-width="0.4"/>
<circle cx="132.8" cy="249.2" r="5.2" fill="#3b449e" stroke="#333" stroke-width="0.4"/>
<circle cx="147" cy="249.2" r="1" fill="#f9f6f6" stroke="#333" stroke-width="0.4"/>
<circle cx="161.2" cy="249.2" r="1" fill="#f9f6f6" stroke="#333" stroke-width="0.4"/>
<line x1="51.4" y1="264.6" x2="53.6" y2="264.6" stroke="#555" stroke-width="0.6"/>
<text x="48.6" y="266.7" font-size="6.2" text-anchor="end" font-style="italic" fill="#333">C5AR1</text>
<circle cx="62.1" cy="264.6" r="3.8" fill="#f6a88e" stroke="#333" stroke-width="0.4"/>
<circle cx="76.2" cy="264.6" r="5" fill="#e8553a" stroke="#333" stroke-width="0.4"/>
<circle cx="90.4" cy="264.6" r="2.2" fill="#3b449e" stroke="#333" stroke-width="0.4"/>
<circle cx="104.6" cy="264.6" r="0.9" fill="#f9f6f6" stroke="#333" stroke-width="0.4"/>
<circle cx="118.7" cy="264.6" r="0.9" fill="#f9f6f6" stroke="#333" stroke-width="0.4"/>
<circle cx="132.8" cy="264.6" r="0.9" fill="#f9f6f6" stroke="#333" stroke-width="0.4"/>
<circle cx="147" cy="264.6" r="0.9" fill="#f9f6f6" stroke="#333" stroke-width="0.4"/>
<circle cx="161.2" cy="264.6" r="0.9" fill="#f9f6f6" stroke="#333" stroke-width="0.4"/>
<line x1="51.4" y1="279.9" x2="53.6" y2="279.9" stroke="#555" stroke-width="0.6"/>
<text x="48.6" y="282" font-size="6.2" text-anchor="end" font-style="italic" fill="#333">FPR3</text>
<circle cx="62.1" cy="279.9" r="4" fill="#e8553a" stroke="#333" stroke-width="0.4"/>
<circle cx="76.2" cy="279.9" r="4.6" fill="#f6a88e" stroke="#333" stroke-width="0.4"/>
<circle cx="90.4" cy="279.9" r="1.2" fill="#f9f6f6" stroke="#333" stroke-width="0.4"/>
<circle cx="104.6" cy="279.9" r="1.2" fill="#f9f6f6" stroke="#333" stroke-width="0.4"/>
<circle cx="118.7" cy="279.9" r="1.2" fill="#f9f6f6" stroke="#333" stroke-width="0.4"/>
<circle cx="132.8" cy="279.9" r="1.2" fill="#f9f6f6" stroke="#333" stroke-width="0.4"/>
<circle cx="147" cy="279.9" r="1.2" fill="#f9f6f6" stroke="#333" stroke-width="0.4"/>
<circle cx="161.2" cy="279.9" r="1.2" fill="#f9f6f6" stroke="#333" stroke-width="0.4"/>
<line x1="51.4" y1="295.3" x2="53.6" y2="295.3" stroke="#555" stroke-width="0.6"/>
<text x="48.6" y="297.4" font-size="6.2" text-anchor="end" font-style="italic" fill="#333">LPAR2</text>
<circle cx="62.1" cy="295.3" r="2.5" fill="#e2daef" stroke="#333" stroke-width="0.4"/>
<circle cx="76.2" cy="295.3" r="1.5" fill="#f9f6f6" stroke="#333" stroke-width="0.4"/>
<circle cx="90.4" cy="295.3" r="1.6" fill="#b2a3d7" stroke="#333" stroke-width="0.4"/>
<circle cx="104.6" cy="295.3" r="3.6" fill="#fbd6c9" stroke="#333" stroke-width="0.4"/>
<circle cx="118.7" cy="295.3" r="4.6" fill="#fbd6c9" stroke="#333" stroke-width="0.4"/>
<circle cx="132.8" cy="295.3" r="4.6" fill="#fbd6c9" stroke="#333" stroke-width="0.4"/>
<circle cx="147" cy="295.3" r="3" fill="#b2a3d7" stroke="#333" stroke-width="0.4"/>
<circle cx="161.2" cy="295.3" r="3" fill="#f9f6f6" stroke="#333" stroke-width="0.4"/>
<line x1="51.4" y1="310.7" x2="53.6" y2="310.7" stroke="#555" stroke-width="0.6"/>
<text x="48.6" y="312.8" font-size="6.2" text-anchor="end" font-style="italic" fill="#333">GPR18</text>
<circle cx="62.1" cy="310.7" r="3" fill="#fbd6c9" stroke="#333" stroke-width="0.4"/>
<circle cx="76.2" cy="310.7" r="1" fill="#f9f6f6" stroke="#333" stroke-width="0.4"/>
<circle cx="90.4" cy="310.7" r="1.8" fill="#f9f6f6" stroke="#333" stroke-width="0.4"/>
<circle cx="104.6" cy="310.7" r="4.6" fill="#fbd6c9" stroke="#333" stroke-width="0.4"/>
<circle cx="118.7" cy="310.7" r="4.6" fill="#fbd6c9" stroke="#333" stroke-width="0.4"/>
<circle cx="132.8" cy="310.7" r="4" fill="#fbd6c9" stroke="#333" stroke-width="0.4"/>
<circle cx="147" cy="310.7" r="4" fill="#f6a88e" stroke="#333" stroke-width="0.4"/>
<circle cx="161.2" cy="310.7" r="3" fill="#f08466" stroke="#333" stroke-width="0.4"/>
<line x1="51.4" y1="326" x2="53.6" y2="326" stroke="#555" stroke-width="0.6"/>
<text x="48.6" y="328.1" font-size="6.2" text-anchor="end" font-style="italic" fill="#333">GPR34</text>
<circle cx="62.1" cy="326" r="4.6" fill="#f6a88e" stroke="#333" stroke-width="0.4"/>
<circle cx="76.2" cy="326" r="5.2" fill="#e8553a" stroke="#333" stroke-width="0.4"/>
<circle cx="90.4" cy="326" r="1.2" fill="#f9f6f6" stroke="#333" stroke-width="0.4"/>
<circle cx="104.6" cy="326" r="1.2" fill="#f9f6f6" stroke="#333" stroke-width="0.4"/>
<circle cx="118.7" cy="326" r="1.2" fill="#f9f6f6" stroke="#333" stroke-width="0.4"/>
<circle cx="132.8" cy="326" r="1.2" fill="#f9f6f6" stroke="#333" stroke-width="0.4"/>
<circle cx="147" cy="326" r="1.2" fill="#f9f6f6" stroke="#333" stroke-width="0.4"/>
<circle cx="161.2" cy="326" r="1.2" fill="#f9f6f6" stroke="#333" stroke-width="0.4"/>
<line x1="51.4" y1="341.4" x2="53.6" y2="341.4" stroke="#555" stroke-width="0.6"/>
<text x="48.6" y="343.5" font-size="6.2" text-anchor="end" font-style="italic" fill="#333">GPR84</text>
<circle cx="62.1" cy="341.4" r="4.6" fill="#f08466" stroke="#333" stroke-width="0.4"/>
<circle cx="76.2" cy="341.4" r="4.6" fill="#f6a88e" stroke="#333" stroke-width="0.4"/>
<circle cx="90.4" cy="341.4" r="0.9" fill="#f9f6f6" stroke="#333" stroke-width="0.4"/>
<circle cx="104.6" cy="341.4" r="0.9" fill="#f9f6f6" stroke="#333" stroke-width="0.4"/>
<circle cx="118.7" cy="341.4" r="0.9" fill="#f9f6f6" stroke="#333" stroke-width="0.4"/>
<circle cx="132.8" cy="341.4" r="0.9" fill="#f9f6f6" stroke="#333" stroke-width="0.4"/>
<circle cx="147" cy="341.4" r="0.9" fill="#f9f6f6" stroke="#333" stroke-width="0.4"/>
<circle cx="161.2" cy="341.4" r="0.9" fill="#f9f6f6" stroke="#333" stroke-width="0.4"/>
<line x1="51.4" y1="356.8" x2="53.6" y2="356.8" stroke="#555" stroke-width="0.6"/>
<text x="48.6" y="358.9" font-size="6.2" text-anchor="end" fill="#333">GPR183</text>
<circle cx="62.1" cy="356.8" r="4" fill="#e3261f" stroke="#333" stroke-width="0.4"/>
<circle cx="76.2" cy="356.8" r="4" fill="#e8553a" stroke="#333" stroke-width="0.4"/>
<circle cx="90.4" cy="356.8" r="4" fill="#e3261f" stroke="#333" stroke-width="0.4"/>
<circle cx="104.6" cy="356.8" r="4.6" fill="#fbd6c9" stroke="#333" stroke-width="0.4"/>
<circle cx="118.7" cy="356.8" r="4" fill="#fbd6c9" stroke="#333" stroke-width="0.4"/>
<circle cx="132.8" cy="356.8" r="4" fill="#f6a88e" stroke="#333" stroke-width="0.4"/>
<circle cx="147" cy="356.8" r="4.6" fill="#f6a88e" stroke="#333" stroke-width="0.4"/>
<circle cx="161.2" cy="356.8" r="4.6" fill="#fbd6c9" stroke="#333" stroke-width="0.4"/>
<line x1="62.1" y1="366.3" x2="62.1" y2="368.5" stroke="#555" stroke-width="0.6"/>
<text x="64.2" y="373.2" font-size="6.1" text-anchor="end" fill="#333" transform="rotate(-90 64.2 373.2)">Monocyte</text>
<line x1="76.2" y1="366.3" x2="76.2" y2="368.5" stroke="#555" stroke-width="0.6"/>
<text x="78.3" y="373.2" font-size="6.1" text-anchor="end" fill="#333" transform="rotate(-90 78.3 373.2)">cDC2</text>
<line x1="90.4" y1="366.3" x2="90.4" y2="368.5" stroke="#555" stroke-width="0.6"/>
<text x="92.5" y="373.2" font-size="6.1" text-anchor="end" fill="#333" transform="rotate(-90 92.5 373.2)">pDC</text>
<line x1="104.6" y1="366.3" x2="104.6" y2="368.5" stroke="#555" stroke-width="0.6"/>
<text x="106.7" y="373.2" font-size="6.1" text-anchor="end" fill="#333" transform="rotate(-90 106.7 373.2)">ILC1</text>
<line x1="118.7" y1="366.3" x2="118.7" y2="368.5" stroke="#555" stroke-width="0.6"/>
<text x="120.8" y="373.2" font-size="6.1" text-anchor="end" fill="#333" transform="rotate(-90 120.8 373.2)">CD4<tspan font-size="4" dy="-2">+</tspan><tspan dy="2"> T cell</tspan></text>
<line x1="132.8" y1="366.3" x2="132.8" y2="368.5" stroke="#555" stroke-width="0.6"/>
<text x="134.9" y="373.2" font-size="6.1" text-anchor="end" fill="#333" transform="rotate(-90 134.9 373.2)">CD8<tspan font-size="4" dy="-2">+</tspan><tspan dy="2"> T cell</tspan></text>
<line x1="147" y1="366.3" x2="147" y2="368.5" stroke="#555" stroke-width="0.6"/>
<text x="149.1" y="373.2" font-size="6.1" text-anchor="end" fill="#333" transform="rotate(-90 149.1 373.2)">Naive B cell</text>
<line x1="161.2" y1="366.3" x2="161.2" y2="368.5" stroke="#555" stroke-width="0.6"/>
<text x="163.2" y="373.2" font-size="6.1" text-anchor="end" fill="#333" transform="rotate(-90 163.2 373.2)">Plasma B cell</text>
<text x="21.5" y="303.5" font-size="7.6" text-anchor="middle" stroke="#231f20" stroke-width="0.15" transform="rotate(-90 21.5 303.5)">Gene</text>
<text x="111.8" y="418" font-size="7.6" text-anchor="middle" stroke="#231f20" stroke-width="0.15">Cell type</text>
<text x="177.3" y="245.4" font-size="7.2" stroke="#231f20" stroke-width="0.15">log<tspan font-size="4.6" dy="1.6">2</tspan><tspan dy="-1.6">FC</tspan></text>
<rect x="177.6" y="250.2" width="8" height="42.2" fill="url(#gfc)"/>
<line x1="184.1" y1="252.8" x2="185.6" y2="252.8" stroke="#fff" stroke-width="0.5"/>
<text x="187.8" y="254.8" font-size="6.0" fill="#333">4</text>
<line x1="184.1" y1="263.2" x2="185.6" y2="263.2" stroke="#fff" stroke-width="0.5"/>
<text x="187.8" y="265.2" font-size="6.0" fill="#333">2</text>
<line x1="184.1" y1="272.6" x2="185.6" y2="272.6" stroke="#fff" stroke-width="0.5"/>
<text x="187.8" y="274.6" font-size="6.0" fill="#333">0</text>
<line x1="184.1" y1="281.7" x2="185.6" y2="281.7" stroke="#fff" stroke-width="0.5"/>
<text x="187.8" y="283.7" font-size="6.0" fill="#333">−2</text>
<line x1="184.1" y1="290.8" x2="185.6" y2="290.8" stroke="#fff" stroke-width="0.5"/>
<text x="187.8" y="292.8" font-size="6.0" fill="#333">−4</text>
<text x="177.3" y="309.2" font-size="7.2" stroke="#231f20" stroke-width="0.15">–log<tspan font-size="4.6" dy="1.6">10</tspan><tspan dy="-1.6">P</tspan></text>
<circle cx="182.3" cy="321" r="0.9" fill="#fff" stroke="#231f20" stroke-width="0.6"/>
<text x="189.7" y="323.1" font-size="6.0" fill="#333">0</text>
<circle cx="182.3" cy="331" r="2.9" fill="#fff" stroke="#231f20" stroke-width="0.6"/>
<text x="189.7" y="333.1" font-size="6.0" fill="#333">10</text>
<circle cx="182.3" cy="341.7" r="3.8" fill="#fff" stroke="#231f20" stroke-width="0.6"/>
<text x="189.7" y="343.8" font-size="6.0" fill="#333">20</text>
<circle cx="182.3" cy="352.8" r="4.6" fill="#fff" stroke="#231f20" stroke-width="0.6"/>
<text x="189.7" y="354.9" font-size="6.0" fill="#333">30</text>
<text x="245.6" y="209.4" font-size="12.5" font-weight="bold" fill="#000" stroke="#000" stroke-width="0.55">e</text>
<text x="263.9" y="209.4" font-size="9" stroke="#231f20" stroke-width="0.15" textLength="297" lengthAdjust="spacingAndGlyphs">Differential expression in tumors versus blood samples in NK cells</text>
<text x="263.9" y="221.3" font-size="9" stroke="#231f20" stroke-width="0.15" textLength="150" lengthAdjust="spacingAndGlyphs">NK cell pan-cancer atlas (ref. 16)</text>
<line x1="286.3" y1="243.2" x2="286.3" y2="366.7" stroke="#555" stroke-width="0.7"/>
<line x1="286.3" y1="366.7" x2="534" y2="366.7" stroke="#555" stroke-width="0.7"/>
<line x1="284.1" y1="252.2" x2="286.3" y2="252.2" stroke="#555" stroke-width="0.6"/>
<text x="281.3" y="254.3" font-size="6.2" text-anchor="end" font-style="italic" fill="#333">CXCR2</text>
<circle cx="294.7" cy="252.2" r="1.5" fill="#f9f6f6" stroke="#333" stroke-width="0.4"/>
<circle cx="307.6" cy="252.2" r="5.6" fill="#b2a3d7" stroke="#333" stroke-width="0.4"/>
<circle cx="320.4" cy="252.2" r="2.2" fill="#b2a3d7" stroke="#333" stroke-width="0.4"/>
<circle cx="333.3" cy="252.2" r="2.2" fill="#e2daef" stroke="#333" stroke-width="0.4"/>
<circle cx="346.1" cy="252.2" r="5.6" fill="#7e6bb6" stroke="#333" stroke-width="0.4"/>
<circle cx="359" cy="252.2" r="2.4" fill="#b2a3d7" stroke="#333" stroke-width="0.4"/>
<circle cx="371.9" cy="252.2" r="2.8" fill="#b2a3d7" stroke="#333" stroke-width="0.4"/>
<circle cx="384.7" cy="252.2" r="1.8" fill="#f9f6f6" stroke="#333" stroke-width="0.4"/>
<circle cx="397.6" cy="252.2" r="3" fill="#e2daef" stroke="#333" stroke-width="0.4"/>
<circle cx="410.4" cy="252.2" r="1.2" fill="#f9f6f6" stroke="#333" stroke-width="0.4"/>
<circle cx="423.3" cy="252.2" r="3" fill="#e2daef" stroke="#333" stroke-width="0.4"/>
<circle cx="436.2" cy="252.2" r="4.4" fill="#3b449e" stroke="#333" stroke-width="0.4"/>
<circle cx="449" cy="252.2" r="5.6" fill="#3b449e" stroke="#333" stroke-width="0.4"/>
<circle cx="461.9" cy="252.2" r="1.8" fill="#e2daef" stroke="#333" stroke-width="0.4"/>
<circle cx="474.7" cy="252.2" r="1.8" fill="#f9f6f6" stroke="#333" stroke-width="0.4"/>
<circle cx="487.6" cy="252.2" r="2" fill="#b2a3d7" stroke="#333" stroke-width="0.4"/>
<circle cx="500.5" cy="252.2" r="3.2" fill="#f6a88e" stroke="#333" stroke-width="0.4"/>
<circle cx="513.3" cy="252.2" r="1.2" fill="#f9f6f6" stroke="#333" stroke-width="0.4"/>
<circle cx="526.2" cy="252.2" r="2.5" fill="#b2a3d7" stroke="#333" stroke-width="0.4"/>
<line x1="284.1" y1="267.3" x2="286.3" y2="267.3" stroke="#555" stroke-width="0.6"/>
<text x="281.3" y="269.4" font-size="6.2" text-anchor="end" font-style="italic" fill="#333">C5AR1</text>
<circle cx="294.7" cy="267.3" r="1.6" fill="#3b449e" stroke="#333" stroke-width="0.4"/>
<circle cx="307.6" cy="267.3" r="2.2" fill="#b2a3d7" stroke="#333" stroke-width="0.4"/>
<circle cx="320.4" cy="267.3" r="1.6" fill="#3b449e" stroke="#333" stroke-width="0.4"/>
<circle cx="333.3" cy="267.3" r="1.3" fill="#f9f6f6" stroke="#333" stroke-width="0.4"/>
<circle cx="346.1" cy="267.3" r="1.3" fill="#f9f6f6" stroke="#333" stroke-width="0.4"/>
<circle cx="359" cy="267.3" r="2.3" fill="#f08466" stroke="#333" stroke-width="0.4"/>
<circle cx="371.9" cy="267.3" r="1.3" fill="#f9f6f6" stroke="#333" stroke-width="0.4"/>
<circle cx="384.7" cy="267.3" r="1.6" fill="#fbd6c9" stroke="#333" stroke-width="0.4"/>
<circle cx="397.6" cy="267.3" r="3.9" fill="#f6a88e" stroke="#333" stroke-width="0.4"/>
<circle cx="410.4" cy="267.3" r="2" fill="#e8553a" stroke="#333" stroke-width="0.4"/>
<circle cx="423.3" cy="267.3" r="1.2" fill="#fbd6c9" stroke="#333" stroke-width="0.4"/>
<circle cx="436.2" cy="267.3" r="1.3" fill="#f9f6f6" stroke="#333" stroke-width="0.4"/>
<circle cx="449" cy="267.3" r="2.5" fill="#f08466" stroke="#333" stroke-width="0.4"/>
<circle cx="461.9" cy="267.3" r="1.2" fill="#e2daef" stroke="#333" stroke-width="0.4"/>
<circle cx="474.7" cy="267.3" r="1.6" fill="#e2daef" stroke="#333" stroke-width="0.4"/>
<circle cx="487.6" cy="267.3" r="1.3" fill="#f6a88e" stroke="#333" stroke-width="0.4"/>
<circle cx="500.5" cy="267.3" r="1.2" fill="#f9f6f6" stroke="#333" stroke-width="0.4"/>
<circle cx="513.3" cy="267.3" r="1.5" fill="#fbd6c9" stroke="#333" stroke-width="0.4"/>
<circle cx="526.2" cy="267.3" r="1.8" fill="#3b449e" stroke="#333" stroke-width="0.4"/>
<line x1="284.1" y1="282.5" x2="286.3" y2="282.5" stroke="#555" stroke-width="0.6"/>
<text x="281.3" y="284.6" font-size="6.2" text-anchor="end" font-style="italic" fill="#333">FPR3</text>
<circle cx="294.7" cy="282.5" r="1.3" fill="#f9f6f6" stroke="#333" stroke-width="0.4"/>
<circle cx="307.6" cy="282.5" r="2.1" fill="#fbd6c9" stroke="#333" stroke-width="0.4"/>
<circle cx="320.4" cy="282.5" r="1.3" fill="#f9f6f6" stroke="#333" stroke-width="0.4"/>
<circle cx="333.3" cy="282.5" r="3" fill="#f6a88e" stroke="#333" stroke-width="0.4"/>
<circle cx="346.1" cy="282.5" r="2.1" fill="#f6a88e" stroke="#333" stroke-width="0.4"/>
<circle cx="359" cy="282.5" r="2" fill="#f6a88e" stroke="#333" stroke-width="0.4"/>
<circle cx="371.9" cy="282.5" r="3" fill="#e3261f" stroke="#333" stroke-width="0.4"/>
<circle cx="384.7" cy="282.5" r="4" fill="#e8553a" stroke="#333" stroke-width="0.4"/>
<circle cx="397.6" cy="282.5" r="5.6" fill="#e3261f" stroke="#333" stroke-width="0.4"/>
<circle cx="410.4" cy="282.5" r="1.2" fill="#f9f6f6" stroke="#333" stroke-width="0.4"/>
<circle cx="423.3" cy="282.5" r="1.2" fill="#f9f6f6" stroke="#333" stroke-width="0.4"/>
<circle cx="436.2" cy="282.5" r="2.5" fill="#e8553a" stroke="#333" stroke-width="0.4"/>
<circle cx="449" cy="282.5" r="1.2" fill="#f9f6f6" stroke="#333" stroke-width="0.4"/>
<circle cx="461.9" cy="282.5" r="1.2" fill="#f9f6f6" stroke="#333" stroke-width="0.4"/>
<circle cx="474.7" cy="282.5" r="1.2" fill="#f9f6f6" stroke="#333" stroke-width="0.4"/>
<circle cx="487.6" cy="282.5" r="3" fill="#e3261f" stroke="#333" stroke-width="0.4"/>
<circle cx="500.5" cy="282.5" r="2.2" fill="#f08466" stroke="#333" stroke-width="0.4"/>
<circle cx="513.3" cy="282.5" r="1.8" fill="#f6a88e" stroke="#333" stroke-width="0.4"/>
<circle cx="526.2" cy="282.5" r="1.2" fill="#f9f6f6" stroke="#333" stroke-width="0.4"/>
<line x1="284.1" y1="297.6" x2="286.3" y2="297.6" stroke="#555" stroke-width="0.6"/>
<text x="281.3" y="299.7" font-size="6.2" text-anchor="end" font-style="italic" fill="#333">LPAR2</text>
<circle cx="294.7" cy="297.6" r="1.3" fill="#e2daef" stroke="#333" stroke-width="0.4"/>
<circle cx="307.6" cy="297.6" r="1.9" fill="#f9f6f6" stroke="#333" stroke-width="0.4"/>
<circle cx="320.4" cy="297.6" r="1.3" fill="#f9f6f6" stroke="#333" stroke-width="0.4"/>
<circle cx="333.3" cy="297.6" r="2.8" fill="#b2a3d7" stroke="#333" stroke-width="0.4"/>
<circle cx="346.1" cy="297.6" r="2.5" fill="#fbd6c9" stroke="#333" stroke-width="0.4"/>
<circle cx="359" cy="297.6" r="2" fill="#e2daef" stroke="#333" stroke-width="0.4"/>
<circle cx="371.9" cy="297.6" r="1.2" fill="#f9f6f6" stroke="#333" stroke-width="0.4"/>
<circle cx="384.7" cy="297.6" r="1.1" fill="#f9f6f6" stroke="#333" stroke-width="0.4"/>
<circle cx="397.6" cy="297.6" r="2.8" fill="#e2daef" stroke="#333" stroke-width="0.4"/>
<circle cx="410.4" cy="297.6" r="1.2" fill="#f9f6f6" stroke="#333" stroke-width="0.4"/>
<circle cx="423.3" cy="297.6" r="1.2" fill="#f9f6f6" stroke="#333" stroke-width="0.4"/>
<circle cx="436.2" cy="297.6" r="1.8" fill="#e2daef" stroke="#333" stroke-width="0.4"/>
<circle cx="449" cy="297.6" r="2.7" fill="#fbd6c9" stroke="#333" stroke-width="0.4"/>
<circle cx="461.9" cy="297.6" r="1.8" fill="#e2daef" stroke="#333" stroke-width="0.4"/>
<circle cx="474.7" cy="297.6" r="3.5" fill="#b2a3d7" stroke="#333" stroke-width="0.4"/>
<circle cx="487.6" cy="297.6" r="1.2" fill="#f9f6f6" stroke="#333" stroke-width="0.4"/>
<circle cx="500.5" cy="297.6" r="3" fill="#b2a3d7" stroke="#333" stroke-width="0.4"/>
<circle cx="513.3" cy="297.6" r="1.2" fill="#f9f6f6" stroke="#333" stroke-width="0.4"/>
<circle cx="526.2" cy="297.6" r="1.2" fill="#f9f6f6" stroke="#333" stroke-width="0.4"/>
<line x1="284.1" y1="312.7" x2="286.3" y2="312.7" stroke="#555" stroke-width="0.6"/>
<text x="281.3" y="314.8" font-size="6.2" text-anchor="end" font-style="italic" fill="#333">GPR18</text>
<circle cx="294.7" cy="312.7" r="1.2" fill="#f9f6f6" stroke="#333" stroke-width="0.4"/>
<circle cx="307.6" cy="312.7" r="2.8" fill="#fbd6c9" stroke="#333" stroke-width="0.4"/>
<circle cx="320.4" cy="312.7" r="1.3" fill="#f9f6f6" stroke="#333" stroke-width="0.4"/>
<circle cx="333.3" cy="312.7" r="2.3" fill="#fbd6c9" stroke="#333" stroke-width="0.4"/>
<circle cx="346.1" cy="312.7" r="4.8" fill="#fbd6c9" stroke="#333" stroke-width="0.4"/>
<circle cx="359" cy="312.7" r="1.8" fill="#fbd6c9" stroke="#333" stroke-width="0.4"/>
<circle cx="371.9" cy="312.7" r="4.2" fill="#f6a88e" stroke="#333" stroke-width="0.4"/>
<circle cx="384.7" cy="312.7" r="4.2" fill="#f6a88e" stroke="#333" stroke-width="0.4"/>
<circle cx="397.6" cy="312.7" r="4.5" fill="#fbd6c9" stroke="#333" stroke-width="0.4"/>
<circle cx="410.4" cy="312.7" r="2.4" fill="#f6a88e" stroke="#333" stroke-width="0.4"/>
<circle cx="423.3" cy="312.7" r="1.8" fill="#f9f6f6" stroke="#333" stroke-width="0.4"/>
<circle cx="436.2" cy="312.7" r="3.5" fill="#f6a88e" stroke="#333" stroke-width="0.4"/>
<circle cx="449" cy="312.7" r="4.2" fill="#f6a88e" stroke="#333" stroke-width="0.4"/>
<circle cx="461.9" cy="312.7" r="2.5" fill="#fbd6c9" stroke="#333" stroke-width="0.4"/>
<circle cx="474.7" cy="312.7" r="2.3" fill="#fbd6c9" stroke="#333" stroke-width="0.4"/>
<circle cx="487.6" cy="312.7" r="3.3" fill="#f6a88e" stroke="#333" stroke-width="0.4"/>
<circle cx="500.5" cy="312.7" r="3.3" fill="#f6a88e" stroke="#333" stroke-width="0.4"/>
<circle cx="513.3" cy="312.7" r="3.5" fill="#fbd6c9" stroke="#333" stroke-width="0.4"/>
<circle cx="526.2" cy="312.7" r="4.3" fill="#f6a88e" stroke="#333" stroke-width="0.4"/>
<line x1="284.1" y1="327.9" x2="286.3" y2="327.9" stroke="#555" stroke-width="0.6"/>
<text x="281.3" y="330" font-size="6.2" text-anchor="end" font-style="italic" fill="#333">GPR34</text>
<circle cx="294.7" cy="327.9" r="1.5" fill="#3b449e" stroke="#333" stroke-width="0.4"/>
<circle cx="307.6" cy="327.9" r="3.5" fill="#f6a88e" stroke="#333" stroke-width="0.4"/>
<circle cx="320.4" cy="327.9" r="1.8" fill="#f08466" stroke="#333" stroke-width="0.4"/>
<circle cx="333.3" cy="327.9" r="4.2" fill="#e8553a" stroke="#333" stroke-width="0.4"/>
<circle cx="346.1" cy="327.9" r="5.6" fill="#e8553a" stroke="#333" stroke-width="0.4"/>
<circle cx="359" cy="327.9" r="3" fill="#e8553a" stroke="#333" stroke-width="0.4"/>
<circle cx="371.9" cy="327.9" r="1.8" fill="#fbd6c9" stroke="#333" stroke-width="0.4"/>
<circle cx="384.7" cy="327.9" r="5.6" fill="#e3261f" stroke="#333" stroke-width="0.4"/>
<circle cx="397.6" cy="327.9" r="4" fill="#f6a88e" stroke="#333" stroke-width="0.4"/>
<circle cx="410.4" cy="327.9" r="1.8" fill="#b2a3d7" stroke="#333" stroke-width="0.4"/>
<circle cx="423.3" cy="327.9" r="2.3" fill="#f6a88e" stroke="#333" stroke-width="0.4"/>
<circle cx="436.2" cy="327.9" r="2" fill="#f6a88e" stroke="#333" stroke-width="0.4"/>
<circle cx="449" cy="327.9" r="5.6" fill="#e3261f" stroke="#333" stroke-width="0.4"/>
<circle cx="461.9" cy="327.9" r="4" fill="#e8553a" stroke="#333" stroke-width="0.4"/>
<circle cx="474.7" cy="327.9" r="1.8" fill="#f9f6f6" stroke="#333" stroke-width="0.4"/>
<circle cx="487.6" cy="327.9" r="3.3" fill="#e8553a" stroke="#333" stroke-width="0.4"/>
<circle cx="500.5" cy="327.9" r="1.7" fill="#fbd6c9" stroke="#333" stroke-width="0.4"/>
<circle cx="513.3" cy="327.9" r="2.5" fill="#f6a88e" stroke="#333" stroke-width="0.4"/>
<circle cx="526.2" cy="327.9" r="5.6" fill="#e3261f" stroke="#333" stroke-width="0.4"/>
<line x1="284.1" y1="343" x2="286.3" y2="343" stroke="#555" stroke-width="0.6"/>
<text x="281.3" y="345.1" font-size="6.2" text-anchor="end" font-style="italic" fill="#333">GPR84</text>
<circle cx="294.7" cy="343" r="1.2" fill="#f9f6f6" stroke="#333" stroke-width="0.4"/>
<circle cx="307.6" cy="343" r="2.7" fill="#f6a88e" stroke="#333" stroke-width="0.4"/>
<circle cx="320.4" cy="343" r="1.2" fill="#f9f6f6" stroke="#333" stroke-width="0.4"/>
<circle cx="333.3" cy="343" r="2.3" fill="#fbd6c9" stroke="#333" stroke-width="0.4"/>
<circle cx="346.1" cy="343" r="2.5" fill="#f6a88e" stroke="#333" stroke-width="0.4"/>
<circle cx="359" cy="343" r="2.2" fill="#f6a88e" stroke="#333" stroke-width="0.4"/>
<circle cx="371.9" cy="343" r="1.5" fill="#f9f6f6" stroke="#333" stroke-width="0.4"/>
<circle cx="384.7" cy="343" r="2.7" fill="#f6a88e" stroke="#333" stroke-width="0.4"/>
<circle cx="397.6" cy="343" r="2.3" fill="#fbd6c9" stroke="#333" stroke-width="0.4"/>
<circle cx="410.4" cy="343" r="1.2" fill="#f9f6f6" stroke="#333" stroke-width="0.4"/>
<circle cx="423.3" cy="343" r="1.2" fill="#f9f6f6" stroke="#333" stroke-width="0.4"/>
<circle cx="436.2" cy="343" r="2.3" fill="#f08466" stroke="#333" stroke-width="0.4"/>
<circle cx="449" cy="343" r="2.5" fill="#e8553a" stroke="#333" stroke-width="0.4"/>
<circle cx="461.9" cy="343" r="1.2" fill="#f9f6f6" stroke="#333" stroke-width="0.4"/>
<circle cx="474.7" cy="343" r="2.3" fill="#f6a88e" stroke="#333" stroke-width="0.4"/>
<circle cx="487.6" cy="343" r="1.3" fill="#f6a88e" stroke="#333" stroke-width="0.4"/>
<circle cx="500.5" cy="343" r="1.8" fill="#f6a88e" stroke="#333" stroke-width="0.4"/>
<circle cx="513.3" cy="343" r="1.2" fill="#f9f6f6" stroke="#333" stroke-width="0.4"/>
<circle cx="526.2" cy="343" r="1.3" fill="#fbd6c9" stroke="#333" stroke-width="0.4"/>
<line x1="284.1" y1="358.1" x2="286.3" y2="358.1" stroke="#555" stroke-width="0.6"/>
<text x="281.3" y="360.2" font-size="6.2" text-anchor="end" fill="#333">GPR183</text>
<circle cx="294.7" cy="358.1" r="1.5" fill="#fbd6c9" stroke="#333" stroke-width="0.4"/>
<circle cx="307.6" cy="358.1" r="5.6" fill="#f08466" stroke="#333" stroke-width="0.4"/>
<circle cx="320.4" cy="358.1" r="1.8" fill="#fbd6c9" stroke="#333" stroke-width="0.4"/>
<circle cx="333.3" cy="358.1" r="3.8" fill="#f6a88e" stroke="#333" stroke-width="0.4"/>
<circle cx="346.1" cy="358.1" r="5.6" fill="#e8553a" stroke="#333" stroke-width="0.4"/>
<circle cx="359" cy="358.1" r="2.8" fill="#f6a88e" stroke="#333" stroke-width="0.4"/>
<circle cx="371.9" cy="358.1" r="3" fill="#f6a88e" stroke="#333" stroke-width="0.4"/>
<circle cx="384.7" cy="358.1" r="5.2" fill="#f08466" stroke="#333" stroke-width="0.4"/>
<circle cx="397.6" cy="358.1" r="5.2" fill="#f08466" stroke="#333" stroke-width="0.4"/>
<circle cx="410.4" cy="358.1" r="1.2" fill="#f9f6f6" stroke="#333" stroke-width="0.4"/>
<circle cx="423.3" cy="358.1" r="1.2" fill="#f9f6f6" stroke="#333" stroke-width="0.4"/>
<circle cx="436.2" cy="358.1" r="5.6" fill="#e8553a" stroke="#333" stroke-width="0.4"/>
<circle cx="449" cy="358.1" r="5.6" fill="#e3261f" stroke="#333" stroke-width="0.4"/>
<circle cx="461.9" cy="358.1" r="2.5" fill="#f6a88e" stroke="#333" stroke-width="0.4"/>
<circle cx="474.7" cy="358.1" r="4" fill="#f6a88e" stroke="#333" stroke-width="0.4"/>
<circle cx="487.6" cy="358.1" r="3" fill="#f08466" stroke="#333" stroke-width="0.4"/>
<circle cx="500.5" cy="358.1" r="1.8" fill="#e2daef" stroke="#333" stroke-width="0.4"/>
<circle cx="513.3" cy="358.1" r="4.2" fill="#f6a88e" stroke="#333" stroke-width="0.4"/>
<circle cx="526.2" cy="358.1" r="2.7" fill="#f6a88e" stroke="#333" stroke-width="0.4"/>
<line x1="294.7" y1="366.7" x2="294.7" y2="368.9" stroke="#555" stroke-width="0.6"/>
<text x="296.8" y="372.8" font-size="6.1" text-anchor="end" fill="#333" transform="rotate(-90 296.8 372.8)">ALL</text>
<line x1="307.6" y1="366.7" x2="307.6" y2="368.9" stroke="#555" stroke-width="0.6"/>
<text x="309.7" y="372.8" font-size="6.1" text-anchor="end" fill="#333" transform="rotate(-90 309.7 372.8)">BRCA</text>
<line x1="320.4" y1="366.7" x2="320.4" y2="368.9" stroke="#555" stroke-width="0.6"/>
<text x="322.5" y="372.8" font-size="6.1" text-anchor="end" fill="#333" transform="rotate(-90 322.5 372.8)">CLL</text>
<line x1="333.3" y1="366.7" x2="333.3" y2="368.9" stroke="#555" stroke-width="0.6"/>
<text x="335.4" y="372.8" font-size="6.1" text-anchor="end" fill="#333" transform="rotate(-90 335.4 372.8)">CRC</text>
<line x1="346.1" y1="366.7" x2="346.1" y2="368.9" stroke="#555" stroke-width="0.6"/>
<text x="348.2" y="372.8" font-size="6.1" text-anchor="end" fill="#333" transform="rotate(-90 348.2 372.8)">ESCA</text>
<line x1="359" y1="366.7" x2="359" y2="368.9" stroke="#555" stroke-width="0.6"/>
<text x="361.1" y="372.8" font-size="6.1" text-anchor="end" fill="#333" transform="rotate(-90 361.1 372.8)">GC</text>
<line x1="371.9" y1="366.7" x2="371.9" y2="368.9" stroke="#555" stroke-width="0.6"/>
<text x="374" y="372.8" font-size="6.1" text-anchor="end" fill="#333" transform="rotate(-90 374 372.8)">HCC</text>
<line x1="384.7" y1="366.7" x2="384.7" y2="368.9" stroke="#555" stroke-width="0.6"/>
<text x="386.8" y="372.8" font-size="6.1" text-anchor="end" fill="#333" transform="rotate(-90 386.8 372.8)">HNSCC</text>
<line x1="397.6" y1="366.7" x2="397.6" y2="368.9" stroke="#555" stroke-width="0.6"/>
<text x="399.7" y="372.8" font-size="6.1" text-anchor="end" fill="#333" transform="rotate(-90 399.7 372.8)">LC</text>
<line x1="410.4" y1="366.7" x2="410.4" y2="368.9" stroke="#555" stroke-width="0.6"/>
<text x="412.5" y="372.8" font-size="6.1" text-anchor="end" fill="#333" transform="rotate(-90 412.5 372.8)">MELA</text>
<line x1="423.3" y1="366.7" x2="423.3" y2="368.9" stroke="#555" stroke-width="0.6"/>
<text x="425.4" y="372.8" font-size="6.1" text-anchor="end" fill="#333" transform="rotate(-90 425.4 372.8)">MM</text>
<line x1="436.2" y1="366.7" x2="436.2" y2="368.9" stroke="#555" stroke-width="0.6"/>
<text x="438.3" y="372.8" font-size="6.1" text-anchor="end" fill="#333" transform="rotate(-90 438.3 372.8)">NB</text>
<line x1="449" y1="366.7" x2="449" y2="368.9" stroke="#555" stroke-width="0.6"/>
<text x="451.1" y="372.8" font-size="6.1" text-anchor="end" fill="#333" transform="rotate(-90 451.1 372.8)">NPC</text>
<line x1="461.9" y1="366.7" x2="461.9" y2="368.9" stroke="#555" stroke-width="0.6"/>
<text x="464" y="372.8" font-size="6.1" text-anchor="end" fill="#333" transform="rotate(-90 464 372.8)">OV</text>
<line x1="474.7" y1="366.7" x2="474.7" y2="368.9" stroke="#555" stroke-width="0.6"/>
<text x="476.8" y="372.8" font-size="6.1" text-anchor="end" fill="#333" transform="rotate(-90 476.8 372.8)">PACA</text>
<line x1="487.6" y1="366.7" x2="487.6" y2="368.9" stroke="#555" stroke-width="0.6"/>
<text x="489.7" y="372.8" font-size="6.1" text-anchor="end" fill="#333" transform="rotate(-90 489.7 372.8)">PRAD</text>
<line x1="500.5" y1="366.7" x2="500.5" y2="368.9" stroke="#555" stroke-width="0.6"/>
<text x="502.6" y="372.8" font-size="6.1" text-anchor="end" fill="#333" transform="rotate(-90 502.6 372.8)">RC</text>
<line x1="513.3" y1="366.7" x2="513.3" y2="368.9" stroke="#555" stroke-width="0.6"/>
<text x="515.4" y="372.8" font-size="6.1" text-anchor="end" fill="#333" transform="rotate(-90 515.4 372.8)">THCA</text>
<line x1="526.2" y1="366.7" x2="526.2" y2="368.9" stroke="#555" stroke-width="0.6"/>
<text x="528.3" y="372.8" font-size="6.1" text-anchor="end" fill="#333" transform="rotate(-90 528.3 372.8)">UCEC</text>
<text x="253" y="306" font-size="7.6" text-anchor="middle" stroke="#231f20" stroke-width="0.15" transform="rotate(-90 253 306)">Gene</text>
<text x="410.3" y="404.2" font-size="7.6" text-anchor="middle" stroke="#231f20" stroke-width="0.15">Cancer type</text>
<text x="544.8" y="245" font-size="7.2" stroke="#231f20" stroke-width="0.15">log<tspan font-size="4.6" dy="1.6">2</tspan><tspan dy="-1.6">FC</tspan></text>
<rect x="544.8" y="249.7" width="8.2" height="42" fill="url(#gfc)"/>
<line x1="553" y1="253.3" x2="554.5" y2="253.3" stroke="#fff" stroke-width="0.5"/>
<text x="556.2" y="255.3" font-size="6.0" fill="#333">4</text>
<line x1="553" y1="263" x2="554.5" y2="263" stroke="#fff" stroke-width="0.5"/>
<text x="556.2" y="265" font-size="6.0" fill="#333">2</text>
<line x1="553" y1="272.3" x2="554.5" y2="272.3" stroke="#fff" stroke-width="0.5"/>
<text x="556.2" y="274.3" font-size="6.0" fill="#333">0</text>
<line x1="553" y1="281.9" x2="554.5" y2="281.9" stroke="#fff" stroke-width="0.5"/>
<text x="556.2" y="283.9" font-size="6.0" fill="#333">−2</text>
<line x1="553" y1="290.9" x2="554.5" y2="290.9" stroke="#fff" stroke-width="0.5"/>
<text x="556.2" y="292.9" font-size="6.0" fill="#333">−4</text>
<text x="544.8" y="313" font-size="7.2" stroke="#231f20" stroke-width="0.15">–log<tspan font-size="4.6" dy="1.6">10</tspan><tspan dy="-1.6">P</tspan></text>
<circle cx="549" cy="322.7" r="2.9" fill="#fff" stroke="#231f20" stroke-width="0.6"/>
<text x="555.6" y="324.8" font-size="6.0" fill="#333">2.5</text>
<circle cx="549" cy="335.2" r="3.9" fill="#fff" stroke="#231f20" stroke-width="0.6"/>
<text x="555.6" y="337.3" font-size="6.0" fill="#333">5.0</text>
<circle cx="549" cy="347" r="4.6" fill="#fff" stroke="#231f20" stroke-width="0.6"/>
<text x="555.6" y="349.1" font-size="6.0" fill="#333">7.5</text>
<circle cx="549" cy="359.5" r="5.4" fill="#fff" stroke="#231f20" stroke-width="0.6"/>
<text x="555.6" y="361.6" font-size="6.0" fill="#333">10.0</text>
<defs><filter id="bl2" x="-20%" y="-20%" width="140%" height="140%"><feGaussianBlur stdDeviation="1.6"/></filter></defs>
<text x="0" y="435.5" font-size="12.5" font-weight="bold" fill="#000" stroke="#000" stroke-width="0.55">f</text>
<text x="17.1" y="435.5" font-size="9" stroke="#231f20" stroke-width="0.15" textLength="314" lengthAdjust="spacingAndGlyphs"><tspan font-style="italic">GPR183</tspan> expression is associted with early-stage NK cell development</text>
<defs><pattern id="pbcbcc4" width="14" height="14" patternUnits="userSpaceOnUse"><rect width="14" height="14" fill="#e0e0e4"/><path d="M9.1 9.2h0M0.5 2.1h0M13.6 2.7h0M9.6 6.2h0M13.5 9.7h0M4.7 2.2h0M4.5 12h0M13.9 10.7h0M2.3 10.1h0M3.5 11.2h0M3.9 2.9h0M2.5 12.8h0M3.3 1.7h0M1.9 4.3h0M6.2 2.7h0M8.9 13.9h0M11.6 9.7h0M2.3 9h0M8.4 2.7h0M11.9 2.8h0M10.3 9.7h0M9.5 12.8h0M3 4.3h0M9.9 10.7h0M7.1 8.7h0M5 11.7h0M10.9 0h0M12.9 12.5h0M1.1 10.6h0M13 4.2h0M4.7 12.8h0M9.5 12.6h0M10.6 4h0M9.9 13.2h0M1.3 4.4h0M2.8 2.8h0M11.5 2.2h0M12.3 5.9h0M10.8 1.9h0M8 6.2h0M0.6 8h0M13.6 3.6h0M12.2 10.3h0M3.8 12.4h0M3 3.9h0M8.8 7.4h0M7.3 8h0M7.4 12.4h0M9.1 13.2h0M4 3.3h0M7.2 2.9h0M13.8 4.7h0M11.6 4.7h0M9.7 6.7h0M6.2 4.9h0M13.1 2.1h0M5 5h0M10.3 6.8h0M12.6 5.5h0M3.7 5.7h0M9.6 0.4h0M13.9 12.4h0M0.2 1.8h0M11.2 10.1h0M4 4.5h0M6.4 5.2h0M11 5.2h0M8.3 8.6h0M5.7 3.9h0M0.4 8h0M7.5 4.7h0M6.7 6.2h0M4.4 2.7h0M4.9 11.7h0M9.6 12.1h0M12.5 8.5h0M12.3 3.3h0M2.7 12.6h0M8.6 8.6h0M10.5 1.8h0M11.9 9.6h0M6.8 5.3h0M5.9 10.3h0M5.1 7.6h0M3.8 9.5h0M5.5 12.2h0M10.5 3h0M6.3 2.7h0M8 11.2h0M5.5 5.8h0M12.3 2.5h0M14 10.9h0M10.8 7.2h0M10.8 4.3h0M7.2 9.4h0" stroke="#bcbcc4" stroke-width="0.95" stroke-linecap="round"/><path d="M5.7 9.8h0M5.9 1.1h0M7.8 13.6h0M8.5 8.9h0M3.1 7h0M8.7 12.7h0M5.5 9.6h0M4.9 9.7h0M1 12.3h0M2.3 0.3h0M10.4 4h0M7.2 5.2h0M3.6 6.2h0M9.6 8.2h0M4.4 6.3h0M1.7 5h0M0.4 13.1h0M0.2 9.8h0M1.2 5.3h0M0.5 10.4h0M13.3 13.2h0M12.2 13.4h0M13.3 7.7h0M5.6 13.7h0M13.5 13.6h0M4.1 8.3h0M8.3 11.2h0M6.8 13.7h0" stroke="#fff" stroke-width="0.9" stroke-linecap="round"/></pattern></defs>
<path d="M14.6 478.2L15.3 472.4L19 468.8L23.4 466.6L29.2 465.8L38 466.6L43.8 465.5L52.6 465.1L60.6 466.6L59.9 468.8L55.5 470.9L49.6 473.1L52.6 476.1L58.4 476.8L64.2 477.5L71.5 479.7L75.9 480.4L81.8 480.4L86.9 482.6L89.1 487L87.6 491.4L90.5 495L94.9 498.7L97.1 503.8L96.4 509.6L93.4 515.5L90.5 519.9L86.1 522L82.5 519.9L79.6 518.4L75.9 521.3L73 524.2L68.6 527.2L61.3 528.6L54 530.1L51.1 533L50.4 538.8L49.6 546.1L46.7 552L40.9 554.2L33.6 553.4L28.5 550.5L23.4 545.4L19.7 539.6L17.5 533L16.1 527.2L15.3 521.3L14.6 515.5L16.1 511.1L21.9 508.2L17.5 506.7L8.8 504.5L2.9 502.3L1.2 499.4L4.4 496.2L11.7 496.5L17.5 498L20.4 498.7L23.4 496.5L17.5 495.8L16.1 492.1L19 489.9L26.3 490.7L28.5 495L30.7 493.6L32.8 489.2L35 486.3L30.7 487.7L29.2 484.8L32.1 483.4L36.5 484.1L38.7 482.6L36.5 480.4L29.2 479.7L21.9 480.4L16.1 480.4ZM107.7 511.5L110.6 508.6L116 505.8L121.5 503.6L125.9 501L130.3 497L133.6 496.2L134.7 498.8L132.5 502.1L137.9 502.7L141.2 506.5L142.8 510.8L140.1 514.1L134.7 514.6L130.9 516.7L127.4 518.1L124.8 515.2L120.4 514.1L113.9 513L109.5 513ZM113.2 486.5L115.5 484.2L119.5 483.6L123.6 484.6L124.6 487.5L122.5 490.2L117.5 490.6L114.2 489.2Z" fill="url(#pbcbcc4)"/>
<path d="M36.5 484.8L48.2 480.4L61.3 479L73 481.9L78.8 489.2L75.9 498L73 506.7L70.1 518.4L65.7 525.7L58.4 528.6L51.1 527.2L43.8 522.8L38 516.9L33.6 509.6L32.1 500.9L33.6 492.1ZM17.5 518.4L29.2 515.5L36.5 518.4L43.8 524.2L48.9 533L47.4 547.6L41.6 552L32.8 552L25.5 545.4L20.4 537.4L17.5 527.2Z" fill="#b4b4bc" fill-opacity="0.62" filter="url(#bl2)"/>
<path d="M20.4 481.9L29.2 480.4L36.5 483.4L34.3 489.2L29.2 489.9L21.9 487.7ZM37.2 473.9L48.2 473.4L50.4 476.1L43.8 480.4L38.2 481.6ZM73.7 489.2L79.6 491.4L82.5 498.7L81.8 508.2L79.6 514L75.9 510.4L75.2 500.9ZM19 529.8L36.5 528.6L48.2 531.5L48.2 533.7L35 533L19.7 532.6ZM21.9 541.8L38 541L48.9 542.5L48.2 545.4L36.5 544.7L23.4 544.7ZM23.4 501.6L32.8 502.3L34.3 510.4L29.2 511.4L24.1 508.2ZM2.9 498.2L10.2 497.7L14.6 499.4L8.8 501.2L3.6 500.6ZM79.6 519.1L83.9 519.1L85.4 521.3L81.8 521.6ZM110.6 509.7L122.6 507.6L125.9 512.4L118.2 514.1L110.6 513.2Z" fill="#fff" fill-opacity="0.45" filter="url(#bl2)"/>
<path d="M95 507.6h0M94.4 502h0M85.4 499.3h0M95.8 508h0M82.1 497.7h0M91.3 500.2h0M94.3 513.9h0M83.8 498.2h0M86.1 498.6h0M89.4 517.7h0M92.1 499.4h0M93.8 508.8h0M92.7 503.9h0M86.6 520.8h0M90.1 504.6h0M90.3 502h0M90.9 502.2h0M88.5 519.3h0M89.9 501.6h0M95.8 502.6h0M95.9 508.5h0M88.3 498.9h0M93.8 511.1h0M89 512.1h0M89.7 507.4h0M94.2 501.3h0M81.7 496.8h0M94.3 506.6h0M89.8 517.4h0M93.5 508.6h0M92 514.6h0M92.4 507.5h0M92.8 513.7h0M92.5 510.4h0M87.7 520.3h0M89 506h0M89.6 505h0M91.7 502.7h0M95.2 503.5h0M91 505.3h0M90.9 508.8h0M89.1 518.2h0M96 507.8h0M88.3 516.5h0M88 497.9h0M94.8 513.2h0M94.7 506.1h0M90.1 510.9h0M93.8 510.4h0M90.7 500.2h0M89.1 505.8h0M88.1 516.7h0M89.7 516.2h0M79.9 495.4h0M92.6 503.5h0M91.6 504.3h0M89.2 504.2h0M89.2 520.3h0M83.3 496.2h0M93.4 503h0M87.7 520h0M91.6 500.9h0M83.2 499.6h0M85.2 499.9h0M88.8 498.1h0M86 496.8h0M83.1 496h0M90.7 504h0M87.8 501h0M86.9 498.5h0M91.4 501.9h0M94.9 510.5h0M89.7 500.6h0M88.9 503.2h0M85.8 497.3h0M84.1 496.8h0M90.7 504.3h0M91.3 501.6h0M93.9 504.3h0M90 499.8h0M91.9 513.8h0M79.6 496.1h0M90.2 499.8h0M93.8 510h0M91.6 501.7h0M93.7 515.4h0M83.9 496.2h0M94 511h0M91.2 505.4h0M92.1 516.8h0M83.8 497.4h0M95.7 506.2h0M92 516.8h0M90 506.9h0M91.3 516.2h0M88.5 501.6h0M86.2 500.3h0M84.4 498.6h0M91.4 512.7h0M95.5 504.3h0M84.2 512.6h0M85.7 501.6h0M90.4 515.2h0M78.9 492.4h0M77.8 501.9h0M78.9 491h0M96.5 505.4h0M81 491.7h0M94.8 508.3h0M86.5 519h0M87.2 494h0M75.6 489.9h0M92.3 511.9h0M77.9 491.6h0M92.1 496.5h0M79.1 504.9h0M84.8 507.7h0M91.9 510.6h0M82.7 503h0M73.1 495.8h0M71.2 486.3h0M81.1 491.8h0M92.5 516h0M91 500.3h0M83.3 500.2h0M78.3 500.8h0M87.6 515h0M77 501h0M84.7 497.5h0M74.2 487.9h0M77.8 501.6h0M96 507.4h0M87.9 507h0M77.1 505.7h0M95.7 502.4h0M87 495.7h0M87.9 501.1h0M79.2 506h0M80.5 504.2h0M84.7 499.3h0M71.9 491.4h0M93.9 504.8h0M75.8 488.3h0M83.7 494h0M82.5 505h0M81.1 516.3h0M84.3 510.9h0M79.8 491.1h0M95.9 505.4h0M75.4 498.4h0M74.7 495.8h0M88.8 500.4h0M93.9 507.5h0M93.4 505.4h0M88 515h0M89.6 519.4h0M84.2 514.1h0M87.8 494.1h0M74.1 501.1h0M92.5 506h0M79.5 490.1h0M93.5 504.5h0M88.2 514.3h0M78.4 490.3h0M82.9 516.7h0M88 499.1h0M82.2 490.6h0M92.7 499.2h0M93.5 507.1h0M73.4 498h0M134.3 510.1h0M133.1 506.4h0M137.4 505.1h0M131.4 508.9h0M131.2 510h0M135.7 513.4h0M140.5 513.4h0M136.8 511.1h0M132.7 505.2h0M139.3 515.1h0M141.5 511.9h0M131.8 513.2h0M138.4 509h0M136.9 506.4h0M135.6 507.3h0M134.5 506.6h0M130.9 504.4h0M132.5 502.8h0M134.1 507.9h0M135.8 505.6h0M131.8 505.7h0M138.2 509.7h0M141.2 510.2h0M132.6 513.4h0M133.7 515h0M128.2 508.6h0M140.9 505.1h0M129.7 505h0M137.9 504.1h0M133.3 503.8h0M136.4 514.9h0M137.1 503.8h0M136.3 501.8h0M139.5 515.1h0M132.4 502.8h0M130.1 509.5h0M140.5 511.2h0M132.2 513h0M137.1 507.3h0M137.5 506.1h0M128.1 507.4h0M127.9 511h0M132.3 508.8h0M136.3 504.8h0M134.2 500.7h0M141.3 509.9h0M136.5 512.6h0M132.2 502.1h0M129.6 502.9h0M139.6 507.6h0M135.4 510.3h0M135.6 511.5h0M136.3 506h0M138.5 504.8h0M138 513.2h0M139 505.7h0M134.1 505.1h0M135.2 516.2h0M134.4 511.4h0M139 506.6h0M128.1 508.9h0M135.6 503.5h0M129.5 503.5h0M139 504.6h0M136.9 506.2h0M139.4 508.2h0M132.1 515.6h0M128.8 512.7h0M128.2 511.3h0M133.3 514.9h0M83 510.5h0M22.6 519.7h0M33.7 546.9h0M135.9 507.6h0M46.6 529.4h0M67.2 523.3h0M23.7 535.6h0M21.9 515.8h0M132.1 506h0M131.6 504.2h0M26.6 471.2h0M89.3 496.2h0M35.1 509.3h0M135.5 509.7h0M118.2 486.2h0M29.7 467.3h0M51.6 519.7h0M49.2 475.1h0M63.1 514h0M126 501.4h0M58.5 505.5h0M123.9 510.2h0M40.5 547h0M18.3 526.1h0M126.1 507.7h0M14.2 503.3h0M130 515h0M31.5 543.3h0M74 522.3h0M51.2 507.6h0M114.8 508.7h0M20.2 475.5h0M61.5 513.5h0M40.5 477.8h0M23.7 521.2h0M37.3 486.5h0M72.5 498.8h0M16.7 525.9h0M26.3 503.7h0M67.7 494h0M38.3 499.4h0M31.4 551.6h0M41.4 551.8h0M122.4 486.1h0M25.6 519.5h0M47.7 544.5h0M124.5 513.6h0M40.3 514.7h0M42.5 474.4h0M26.6 546h0M84.5 488.9h0M53.3 514h0M121.3 485.7h0M140.2 507.7h0M117.9 488.1h0M49.6 485.7h0M66.1 493.8h0M35.7 534.6h0M69.5 500.2h0M132.9 502.2h0" stroke="#e8462e" stroke-width="0.95" stroke-linecap="round" fill="none"/>
<text x="7.4" y="452.6" font-size="7.2" fill="#222" stroke="#222" stroke-width="0.15" textLength="124" lengthAdjust="spacingAndGlyphs"><tspan font-style="italic">GPR183</tspan> (blood: 2.5%, tumor: 14.1%)</text>
<text x="128.8" y="463.4" font-size="6.2" fill="#222" textLength="32" lengthAdjust="spacingAndGlyphs">log1p(TPM)</text>
<rect x="139.1" y="468" width="5.9" height="27.5" fill="url(#gred)"/>
<text x="147.5" y="471.4" font-size="4.6" fill="#333">8</text>
<text x="147.5" y="477.5" font-size="4.6" fill="#333">6</text>
<text x="147.5" y="483.5" font-size="4.6" fill="#333">4</text>
<text x="147.5" y="489.6" font-size="4.6" fill="#333">2</text>
<text x="147.5" y="495.6" font-size="4.6" fill="#333">0</text>
<path d="M195.1 479L195.8 473.2L199.5 469.6L203.9 467.4L209.7 466.6L218.5 467.4L224.3 466.3L233.1 465.9L241.1 467.4L240.4 469.6L236 471.7L230.1 473.9L233.1 476.9L238.9 477.6L244.7 478.3L252 480.5L256.4 481.2L262.3 481.2L267.4 483.4L269.6 487.8L268.1 492.2L271 495.8L275.4 499.5L277.6 504.6L276.9 510.4L273.9 516.3L271 520.7L266.6 522.8L263 520.7L260.1 519.2L256.4 522.1L253.5 525L249.1 528L241.8 529.4L234.5 530.9L231.6 533.8L230.9 539.6L230.1 546.9L227.2 552.8L221.4 555L214.1 554.2L209 551.3L203.9 546.2L200.2 540.4L198 533.8L196.6 528L195.8 522.1L195.1 516.3L196.6 511.9L202.4 509L198 507.5L189.3 505.3L183.4 503.1L181.7 500.2L184.9 497L192.2 497.3L198 498.8L200.9 499.5L203.9 497.3L198 496.6L196.6 492.9L199.5 490.7L206.8 491.5L209 495.8L211.2 494.4L213.3 490L215.5 487.1L211.2 488.5L209.7 485.6L212.6 484.2L217 484.9L219.2 483.4L217 481.2L209.7 480.5L202.4 481.2L196.6 481.2ZM288.2 512.3L291.1 509.4L296.5 506.6L302 504.4L306.4 501.8L310.8 497.8L314.1 497L315.2 499.6L313 502.9L318.4 503.5L321.7 507.3L323.3 511.6L320.6 514.9L315.2 515.4L311.4 517.5L307.9 518.9L305.3 516L300.9 514.9L294.4 513.8L290 513.8ZM293.7 487.3L296 485L300 484.4L304.1 485.4L305.1 488.3L303 491L298 491.4L294.7 490Z" fill="url(#pbcbcc4)"/>
<path d="M217 485.6L228.7 481.2L241.8 479.8L253.5 482.7L259.3 490L256.4 498.8L253.5 507.5L250.6 519.2L246.2 526.5L238.9 529.4L231.6 528L224.3 523.6L218.5 517.7L214.1 510.4L212.6 501.7L214.1 492.9ZM198 519.2L209.7 516.3L217 519.2L224.3 525L229.4 533.8L227.9 548.4L222.1 552.8L213.3 552.8L206 546.2L200.9 538.2L198 528Z" fill="#b4b4bc" fill-opacity="0.62" filter="url(#bl2)"/>
<path d="M200.9 482.7L209.7 481.2L217 484.2L214.8 490L209.7 490.7L202.4 488.5ZM217.7 474.7L228.7 474.2L230.9 476.9L224.3 481.2L218.7 482.4ZM254.2 490L260.1 492.2L263 499.5L262.3 509L260.1 514.8L256.4 511.2L255.7 501.7ZM199.5 530.6L217 529.4L228.7 532.3L228.7 534.5L215.5 533.8L200.2 533.4ZM202.4 542.6L218.5 541.8L229.4 543.3L228.7 546.2L217 545.5L203.9 545.5ZM203.9 502.4L213.3 503.1L214.8 511.2L209.7 512.2L204.6 509ZM183.4 499L190.7 498.5L195.1 500.2L189.3 502L184.1 501.4ZM260.1 519.9L264.4 519.9L265.9 522.1L262.3 522.4ZM291.1 510.5L303.1 508.4L306.4 513.2L298.7 514.9L291.1 514Z" fill="#fff" fill-opacity="0.45" filter="url(#bl2)"/>
<path d="M274.7 513.8h0M274.8 507.6h0M271.5 505.4h0M271.5 516.9h0M273.8 509.6h0M271.9 517.1h0M271.5 503h0M272.4 508.6h0M273.3 511.1h0M272.3 515.7h0M271.1 518.2h0M271.9 510h0M272.7 510.7h0M272 504.5h0M275.6 504.9h0M274 508.4h0M276.6 508.2h0M272.8 512.3h0M269.9 517h0M270.9 518.3h0M273.8 515.7h0M273.3 513h0M274.7 505h0M271.2 516.5h0M270.7 518.2h0M271.1 500.9h0M270.3 515.4h0M276.8 507.5h0M274.6 504.2h0M270.7 500h0M275.9 505h0M272 510.6h0M270.7 518.1h0M272 516.6h0M270.7 515.7h0M274.4 503.5h0M273.1 514.2h0M272.8 513.1h0M270.4 516.3h0M270.5 518.3h0M273.5 504.9h0M272.2 514.6h0M276.1 511.4h0M271.3 518.3h0M273 504h0M275.2 502.5h0M275.5 505.1h0M275.5 511.4h0M273.4 500.8h0M274.5 501.5h0M273.9 506.2h0M272.4 512.8h0M273.2 501.9h0M270.3 517.4h0M273.6 501.2h0M273.1 502.2h0M273.6 509.5h0M272.3 502.9h0M272.6 503.1h0M276.2 509.4h0M322 509.5h0M319.7 510.8h0M318.2 505.1h0M319.1 503.9h0M313.7 510h0M312.1 516.2h0M309 511h0M311.3 511.2h0M319.6 513.2h0M308.3 511.6h0M318.2 514.9h0M312.9 514.8h0M314.7 516.7h0M314 508.1h0M309 505.4h0M318.9 512.6h0M310 507.1h0M309.8 504.6h0M311 506.8h0M319.7 509.3h0M315.3 514.3h0M317.4 504.6h0M317.2 515.4h0M318.6 507.1h0M317.9 513.8h0M309.8 515.1h0M319 515.2h0M319.9 511.2h0M314.3 515.1h0M319.6 515.8h0M312.2 517.3h0M315.8 517.1h0M319.7 505.5h0M320.4 505.2h0M310.7 508.9h0M197.2 512.9h0M216.4 485.9h0M272.3 506.4h0M317.5 511.9h0M261.9 496.2h0M307.8 506.8h0M300.4 488.4h0M301.4 508.4h0M228.6 467.4h0M313.8 513.4h0M245.1 522.2h0M225.5 495.8h0M259.3 488.2h0M260.6 482.3h0M303.9 485.4h0M260.9 502.1h0M241.5 505.5h0M267.4 501h0M204.4 509.8h0M215.5 474.9h0M224.1 524.8h0M209.7 473.7h0M305.7 504.9h0M207.7 528.4h0M273.5 498.1h0M231 499.5h0M311.9 516.8h0M221.8 519.8h0M267 520.3h0M249.8 500.8h0" stroke="#e8462e" stroke-width="0.95" stroke-linecap="round" fill="none"/>
<text x="194.7" y="453.1" font-size="7.2" fill="#222" stroke="#222" stroke-width="0.15" textLength="114.3" lengthAdjust="spacingAndGlyphs"><tspan font-style="italic">CCR7</tspan> (blood: 1.5%, tumor: 6.9%)</text>
<text x="307.7" y="463.9" font-size="6.2" fill="#222" textLength="32" lengthAdjust="spacingAndGlyphs">log1p(TPM)</text>
<rect x="320.8" y="467.8" width="5.9" height="27.5" fill="url(#gred)"/>
<text x="329.2" y="471.2" font-size="4.6" fill="#333">8</text>
<text x="329.2" y="477.3" font-size="4.6" fill="#333">6</text>
<text x="329.2" y="483.3" font-size="4.6" fill="#333">4</text>
<text x="329.2" y="489.4" font-size="4.6" fill="#333">2</text>
<text x="329.2" y="495.4" font-size="4.6" fill="#333">0</text>
<defs><pattern id="pbab8c6" width="14" height="14" patternUnits="userSpaceOnUse"><rect width="14" height="14" fill="#dedce4"/><path d="M9.4 13.3h0M0.7 6.3h0M7.2 4.4h0M0.5 3h0M3 13.2h0M7.5 11.6h0M4.8 2.4h0M4.2 13.6h0M0.6 2.3h0M7.9 10.3h0M1.4 0h0M7.2 10h0M3.2 8.5h0M1 7.7h0M7.3 8.3h0M6 10.8h0M9.2 4h0M0 8.1h0M6.7 8.6h0M12 6.1h0M5.8 2h0M7.2 7.2h0M5.5 9.4h0M6.1 8h0M13.6 5.5h0M7.2 6.7h0M10.5 8.8h0M12.8 5h0M7.1 12.3h0M0.5 13.6h0M6.3 7.7h0M13.4 5.3h0M11 2.3h0M7 4.1h0M6.8 3.5h0M1.6 11.2h0M3.9 5.2h0M3.2 5.7h0M0.3 4.4h0M10.8 0.9h0M7.4 4.4h0M6.4 5.9h0M13.5 0h0M1.8 11.3h0M13 6.7h0M3.9 5.4h0M11.9 13.6h0M7.8 7.8h0M6.3 9.7h0M6.3 10.7h0M5.8 3.2h0M11.3 10.1h0M5.9 12.7h0M11.2 2.8h0M0.5 2.6h0M8 5.1h0M13.4 8h0M11.6 13.1h0M2.1 5.8h0M4.8 9.4h0M12.9 8.9h0M0.6 12.6h0M7.8 11.2h0M9 0.2h0M8.3 3h0M9.9 4.5h0M9 10.4h0M0.7 13.9h0M0.8 1.5h0M9.6 2.4h0M6.6 5h0M5.7 10.2h0M9.5 1.3h0M4.3 10.1h0M10.2 3h0M6.4 0.9h0M0.8 1.3h0M6.4 10.8h0M11.8 10.1h0M5.9 2.3h0M8.9 11.7h0M0.5 13.8h0M4.6 9.7h0M2.5 9.3h0M12.6 10.8h0M5.4 13.8h0M9 2.1h0M6 10.5h0M0.2 8.5h0M9.5 10.8h0M4.3 4.6h0M10.2 0.6h0M11.1 12.3h0M5.5 1.2h0M3.5 12h0" stroke="#bab8c6" stroke-width="0.95" stroke-linecap="round"/><path d="M8.5 12.8h0M6.9 11.1h0M12 4.1h0M12 6.2h0M11.8 11h0M4.9 4.9h0M9.7 10.3h0M7.2 10.4h0M4.7 0.1h0M13.8 9.3h0M5 10.1h0M7.4 2.1h0M5.3 1.1h0M8.4 8.2h0M10.1 4.2h0M13.6 2.2h0M8.4 3h0M12.7 1.3h0M6.3 5.5h0M13.1 1.1h0M6.9 12.6h0M8.7 9.8h0M7.5 13.1h0M1.5 4.7h0M3.6 6.7h0M13.8 6.8h0M9.9 12.4h0M6.3 2.5h0" stroke="#fff" stroke-width="0.9" stroke-linecap="round"/></pattern></defs>
<path d="M14.6 595.2L15.3 589.4L19 585.8L23.4 583.6L29.2 582.8L38 583.6L43.8 582.5L52.6 582.1L60.6 583.6L59.9 585.8L55.5 587.9L49.6 590.1L52.6 593.1L58.4 593.8L64.2 594.5L71.5 596.7L75.9 597.4L81.8 597.4L86.9 599.6L89.1 604L87.6 608.4L90.5 612L94.9 615.7L97.1 620.8L96.4 626.6L93.4 632.5L90.5 636.9L86.1 639L82.5 636.9L79.6 635.4L75.9 638.3L73 641.2L68.6 644.2L61.3 645.6L54 647.1L51.1 650L50.4 655.8L49.6 663.1L46.7 669L40.9 671.2L33.6 670.4L28.5 667.5L23.4 662.4L19.7 656.6L17.5 650L16.1 644.2L15.3 638.3L14.6 632.5L16.1 628.1L21.9 625.2L17.5 623.7L8.8 621.5L2.9 619.3L1.2 616.4L4.4 613.2L11.7 613.5L17.5 615L20.4 615.7L23.4 613.5L17.5 612.8L16.1 609.1L19 606.9L26.3 607.7L28.5 612L30.7 610.6L32.8 606.2L35 603.3L30.7 604.7L29.2 601.8L32.1 600.4L36.5 601.1L38.7 599.6L36.5 597.4L29.2 596.7L21.9 597.4L16.1 597.4ZM107.7 628.5L110.6 625.6L116 622.8L121.5 620.6L125.9 618L130.3 614L133.6 613.2L134.7 615.8L132.5 619.1L137.9 619.7L141.2 623.5L142.8 627.8L140.1 631.1L134.7 631.6L130.9 633.7L127.4 635.1L124.8 632.2L120.4 631.1L113.9 630L109.5 630ZM113.2 603.5L115.5 601.2L119.5 600.6L123.6 601.6L124.6 604.5L122.5 607.2L117.5 607.6L114.2 606.2Z" fill="url(#pbab8c6)"/>
<path d="M36.5 601.8L48.2 597.4L61.3 596L73 598.9L78.8 606.2L75.9 615L73 623.7L70.1 635.4L65.7 642.7L58.4 645.6L51.1 644.2L43.8 639.8L38 633.9L33.6 626.6L32.1 617.9L33.6 609.1ZM17.5 635.4L29.2 632.5L36.5 635.4L43.8 641.2L48.9 650L47.4 664.6L41.6 669L32.8 669L25.5 662.4L20.4 654.4L17.5 644.2Z" fill="#b4b2c0" fill-opacity="0.62" filter="url(#bl2)"/>
<path d="M20.4 598.9L29.2 597.4L36.5 600.4L34.3 606.2L29.2 606.9L21.9 604.7ZM37.2 590.9L48.2 590.4L50.4 593.1L43.8 597.4L38.2 598.6ZM73.7 606.2L79.6 608.4L82.5 615.7L81.8 625.2L79.6 631L75.9 627.4L75.2 617.9ZM19 646.8L36.5 645.6L48.2 648.5L48.2 650.7L35 650L19.7 649.6ZM21.9 658.8L38 658L48.9 659.5L48.2 662.4L36.5 661.7L23.4 661.7ZM23.4 618.6L32.8 619.3L34.3 627.4L29.2 628.4L24.1 625.2ZM2.9 615.2L10.2 614.7L14.6 616.4L8.8 618.2L3.6 617.6ZM79.6 636.1L83.9 636.1L85.4 638.3L81.8 638.6ZM110.6 626.7L122.6 624.6L125.9 629.4L118.2 631.1L110.6 630.2Z" fill="#fff" fill-opacity="0.45" filter="url(#bl2)"/>
<path d="M92.7 621.5h0M91.2 619.2h0M94.7 624.5h0M89.9 636.4h0M93 624.5h0M89.9 625.2h0M86.1 616.2h0M90.6 634.3h0M86.2 614h0M88.3 630.4h0M91.7 631.5h0M93.8 632.8h0M93.8 622.5h0M94.2 630.8h0M89.1 618.2h0M86.5 617.7h0M91.8 632.7h0M90.9 634.5h0M94 618.3h0M95.4 622h0M94.4 622.1h0M92.6 627.9h0M94.9 620.2h0M92.4 623.8h0M87.8 637.7h0M89.3 627.7h0M96 626h0M93.4 619.4h0M91.5 617.9h0M90.5 618.7h0M90.3 627.2h0M86.5 637.5h0M94.5 628.3h0M92.7 632.8h0M92.1 632.4h0M93.8 619.8h0M92 628.1h0M90.3 631.7h0M90 626.9h0M91.1 623.1h0M92.6 621h0M94.1 621.6h0M94.6 624.8h0M88.2 618.6h0M93.3 625.7h0M92.6 631.1h0M86.6 615.7h0M89 630.9h0M90.4 634.7h0M87.2 635.2h0M89.6 615.1h0M91.3 633.1h0M88.9 631.6h0M90.4 618.4h0M89.1 622.9h0M87.4 637.2h0M95.9 622.1h0M89.7 632.8h0M88.4 630.6h0M90.6 628.2h0M88.8 617.5h0M93.7 617.5h0M91.4 631.4h0M84.8 617.1h0M80.2 613.2h0M91 632.2h0M89.1 617.6h0M92.3 631.8h0M80.3 612.6h0M90.8 615.6h0M85.6 616.3h0M90.5 624.5h0M89.9 631.8h0M92.2 620.6h0M88.4 621h0M88.5 621.4h0M92.6 618.3h0M84.9 614.1h0M81.7 613h0M94 623.2h0M84.8 613.7h0M82.6 613.4h0M90.6 618.5h0M88.1 632.4h0M90.1 629.1h0M94.6 630.8h0M86.5 615.1h0M89.8 616.4h0M95.7 619.5h0M94.3 628.9h0M89.8 629.3h0M80.1 613.8h0M85.8 614.1h0M91.8 626.1h0M80.1 614h0M88.8 631h0M90.4 625.4h0M86.8 635.7h0M91.2 616.6h0M94.2 624.1h0M84.6 617.5h0M90 634.3h0M92.8 629.4h0M83.4 614.4h0M92 621.8h0M90.4 635.3h0M87.5 636.3h0M95 623.2h0M87.5 617.7h0M95.4 621.9h0M83.1 613.4h0M91.6 624.8h0M88.6 619.2h0M75.9 620.4h0M86.5 631.4h0M94.3 625.3h0M87.1 630h0M79 616h0M87.3 625.6h0M81.7 628.2h0M81.4 632.8h0M77.6 609.1h0M70.5 602.7h0M73.3 615h0M89.7 626.4h0M73.7 616.9h0M88.8 622.6h0M91.7 624h0M82.1 621.8h0M79.6 611.3h0M84.6 611.8h0M84.8 610h0M72.6 604.5h0M79.3 612.8h0M87.5 627.6h0M85.2 618.1h0M82.8 621.2h0M88 615.3h0M83.5 622.2h0M81 623.4h0M75.8 615.8h0M86.9 616.9h0M92 627.4h0M74.7 613.8h0M94.8 618.1h0M81.9 613.7h0M84.1 616.5h0M79.2 627.7h0M79.4 619.9h0M86.8 633.9h0M93.8 624.3h0M87 619h0M81.5 613.9h0M84.1 614.4h0M90.2 613.3h0M91.7 627.1h0M87.9 630.3h0M79.8 606.1h0M86.5 612.5h0M84.3 609.3h0M90.5 615.3h0M92.8 625.5h0M73.3 604.2h0M81.6 626.1h0M94.2 623.6h0M80.3 622.3h0M75.7 608.2h0M71.1 609.1h0M78.5 612.5h0M89.9 633.7h0M76.1 611.5h0M70.4 603.7h0M91.5 629.2h0M92.5 617.2h0M77.5 604.5h0M81.5 618.9h0M91.8 624.5h0M92.1 619h0M92.5 618.5h0M90 620.1h0M135.1 623h0M130.4 629.5h0M134.1 620.7h0M134.2 623.2h0M137.9 628.9h0M137.9 630.9h0M133.2 626.2h0M131.9 630.4h0M132 622.4h0M132.1 621.4h0M129.9 628h0M132.1 630.6h0M138.1 632h0M137.6 625.5h0M131.9 618.8h0M137.2 627.9h0M133.8 618.6h0M139.4 626.1h0M134 631.7h0M141.5 624.5h0M137.9 626.4h0M139.1 629.6h0M132 618.4h0M135.7 618.6h0M137.2 631.7h0M137.2 623.2h0M135.1 619.9h0M137.8 629.5h0M141 628.7h0M135.3 629.2h0M132 631.2h0M136.4 624.3h0M130.8 624h0M139.5 629.3h0M132.7 632.4h0M134.2 626.7h0M133.1 621.3h0M130 631h0M138.7 624.1h0M130.3 630.6h0M134.7 632h0M135 630.9h0M139.6 629.1h0M142 627.8h0M132 629.7h0M140.1 628.9h0M137.2 618.4h0M132.4 630.7h0M130.7 622.8h0M131.8 627.8h0M133.2 622.2h0M137.5 630.1h0M138.9 627h0M137 618.4h0M129.5 622.6h0M134.9 622.9h0M133.8 622.6h0M130.8 629.4h0M137.4 618.4h0M132.1 630.4h0M140.5 626.6h0M141.6 625.4h0M134.2 630h0M139.9 629.7h0M132.7 618.6h0M132.8 627.8h0M134.8 618.4h0M140.3 628.2h0M131.9 625.5h0M132.9 628.2h0M140.7 627.1h0M132 623.3h0M140 629.8h0M132.6 632.8h0M134 617.7h0M130.4 626.6h0M141.3 628.5h0M140.3 628.4h0M135.8 625.2h0M135.9 617.9h0M130 622.4h0M135 629.9h0M128.7 630.8h0M136.4 618.5h0M132.8 633.2h0M138.4 620.1h0M136.9 618.8h0M133.5 623h0M140.4 627.6h0M132.9 631.4h0M39.7 646.8h0M13.7 648.5h0M39.1 646.6h0M14.8 648h0M34.2 648.7h0M19.5 647.8h0M17.7 646.9h0M17.7 647.7h0M33.4 648.3h0M20 647h0M36 649h0M39.8 646.8h0M36.2 648.1h0M20 649.1h0M20 646.8h0M34.4 646.6h0M26.8 648.3h0M19.5 649.1h0M25.7 648h0M39.6 648.2h0M25.4 647.3h0M18.2 647h0M29.2 647.6h0M19.9 649.2h0M23.7 647.7h0M22.3 648.4h0M26.3 646.7h0M30.5 646.6h0M21.9 647.7h0M37.9 648.9h0M124.2 630.1h0M19.3 616h0M64 621.8h0M33.9 618.6h0M78.5 621.4h0M46.9 585.8h0M30.5 634.7h0M117.3 629.8h0M67.9 624.9h0M142.2 627.2h0M50 592h0M43.2 598.1h0M110.6 626.8h0M21.8 635.6h0M122.1 623.1h0M57.4 619.6h0M43.6 667.1h0M21.5 619.2h0M44.8 615h0M7 616.3h0M16.1 595.8h0M17.3 623.4h0M34.9 657.9h0M50.6 641.1h0M26.1 651h0M120.6 628.8h0M32.5 633h0M19.4 608.2h0M25.7 614.7h0M22.2 653.4h0M36.8 614.7h0M123.5 602.4h0M35.7 640.4h0M26 628.5h0M65.9 616.3h0M16.8 595.6h0M83.4 602h0M122.8 602.8h0M30.5 652.9h0M4.8 619.2h0M67 637.9h0M21.3 647.7h0M128.9 616h0M50.6 613.3h0M49.9 626.7h0M120.9 630.8h0M129.4 628.9h0M81.2 630.9h0M94.2 626.5h0M68.5 641h0M40.4 621.8h0M29.4 627.3h0M77.1 611.1h0M75.1 610.4h0M29.1 656.9h0M116.4 604.8h0M32 593.4h0M36.1 604.2h0M67.2 596.1h0M49.1 602.9h0M46.9 627.4h0M109.5 628.5h0M127.8 624.5h0M55.1 622h0M126.9 630.7h0M36.7 630.5h0M117.2 601.4h0M7.6 621.1h0M76.3 630.8h0M114.8 604.5h0M73.5 612.3h0M27.5 628.5h0M27.2 627.6h0M57.5 626.4h0M131.3 629.4h0M6.3 619.9h0M58.4 644.2h0M115 606h0M25.6 636.4h0M42.5 603.1h0M83.4 611.1h0M90.7 632.3h0M27.7 628.3h0M52.1 616.4h0M47.2 633.8h0M16.2 640.2h0M43.1 636.3h0M48.8 623.4h0M21.3 588.4h0M35.5 665.9h0M26.1 587.5h0M81.2 608.8h0M41.9 656h0M137.6 624h0M63.1 623.5h0M66.4 604.6h0M61.4 616.2h0M42.2 659.7h0M139.9 631h0M46.9 644.8h0M47.5 584.3h0M76.2 600.4h0M19.5 618.1h0M43.9 615.5h0M69.3 629.6h0M116 604.6h0M116.2 627h0M56.6 598h0M118.7 605h0M116.7 606.2h0M53.3 608.2h0M86.8 627.9h0M52 599.6h0M130.8 632.2h0M10.9 618.4h0M33.7 619.5h0M30.1 589.6h0M42.6 647.6h0M49.7 621.7h0M118.5 603h0M34 590.6h0M44.8 589.8h0M112.5 627.9h0M56.9 641.6h0M21 633.7h0M126.7 618h0M141.1 624.3h0M9.1 619h0M78.1 603.5h0M71.6 612h0M132.3 630h0M24.1 585.5h0M18.4 593.4h0M37.6 592.1h0M118.4 623.4h0M46.4 627.4h0M22.4 595.7h0M32.6 644h0M118 601.9h0M67.6 639.8h0M19 651.8h0M59.3 620.9h0M44 643.2h0M46.2 610h0M58 624.2h0M132.4 616.8h0M115 604.1h0M24.2 623.7h0M83.5 605.2h0M37.4 588.9h0M121.7 627.5h0M79 608.4h0M86.7 607.8h0M5.6 620.2h0M27.8 639.4h0M33.5 633.2h0M66.2 617.6h0M121.3 603.4h0M16.2 631.3h0M128.8 625.4h0M26.2 592.5h0M31.6 643h0M128.9 634.4h0M122.5 620.5h0M50.2 595.2h0M136.7 623.1h0M63.6 607.5h0M51.1 648.7h0M132.7 623.4h0M73.4 603.2h0M45.1 667.3h0M113.9 626.3h0M131.3 619.7h0M60.6 640.8h0M36.5 585.3h0M25.8 610.7h0M19 591.2h0M63.8 624.9h0M57.7 594h0M128.5 628.2h0M126.4 621.1h0M61.6 645.2h0M20.8 646.9h0M137.3 621.2h0M69.5 642.5h0M57.7 620.3h0M48.4 655.9h0M34.9 616.3h0M132.8 629.2h0M26 622.5h0M52.6 607.7h0M65.9 604h0M87 613.9h0M32.5 639.3h0M80.8 618.3h0M84.8 630.4h0M77 607.5h0M50.7 626.3h0M128.8 632.5h0M42.4 635.3h0M138.3 628.3h0M64.7 611.8h0M130.9 623.8h0M108.5 628.9h0M26.1 596.7h0M18.5 633.1h0M121.1 625.1h0M35 587.5h0M37.3 660.2h0M87.4 623.9h0M43.3 584.2h0M64.6 611.5h0M35.9 644.9h0M6.4 620.2h0M61.9 640.9h0M71.2 619.7h0M64.9 636.8h0M118.2 606.1h0M123.9 626.3h0M122.4 606.7h0M133.5 615.1h0M121.9 606.2h0M17.7 620.6h0M118.7 627.1h0M23.8 594.6h0M82.6 603.5h0M117.9 624.9h0M22.2 621h0M114.7 602.7h0M56.1 602.7h0" stroke="#e8462e" stroke-width="0.95" stroke-linecap="round" fill="none"/>
<text x="13.1" y="568.7" font-size="7.2" fill="#222" stroke="#222" stroke-width="0.15" textLength="116.2" lengthAdjust="spacingAndGlyphs"><tspan font-style="italic">IL7R</tspan> (blood: 5.6%, tumor: 20.9%)</text>
<text x="128.8" y="580.3" font-size="6.2" fill="#222" textLength="32" lengthAdjust="spacingAndGlyphs">log1p(TPM)</text>
<rect x="139.6" y="584.9" width="5.9" height="27.5" fill="url(#gred)"/>
<text x="148" y="588.3" font-size="4.6" fill="#333">8</text>
<text x="148" y="594.3" font-size="4.6" fill="#333">6</text>
<text x="148" y="600.4" font-size="4.6" fill="#333">4</text>
<text x="148" y="606.4" font-size="4.6" fill="#333">2</text>
<text x="148" y="612.5" font-size="4.6" fill="#333">0</text>
<defs><pattern id="pc8aca8" width="14" height="14" patternUnits="userSpaceOnUse"><rect width="14" height="14" fill="#e0d2d0"/><path d="M13.7 3h0M9.9 3h0M13.5 12.2h0M13.2 12.7h0M8.5 11.5h0M7.3 7.6h0M8.9 10.3h0M9.8 4h0M2.2 4.7h0M2.4 7.6h0M10.7 5.3h0M4.4 8.5h0M9.2 4.8h0M12.3 0.3h0M2 9.3h0M11.5 12.1h0M10.7 11.8h0M6.5 7.8h0M9.3 6.6h0M8.6 7.9h0M1.7 11h0M0.4 7.2h0M12.8 1.2h0M5 11h0M5.5 0.1h0M12.8 1.8h0M10.1 6.6h0M0.9 5.7h0M12.1 10.2h0M13.2 4.1h0M7.6 11.8h0M2.8 3.8h0M4 12.7h0M2 3.6h0M9.5 5.1h0M5.8 6.9h0M3.8 0.8h0M11 1.5h0M7.1 1.3h0M3.1 3.4h0M9.4 6.3h0M5.9 9.7h0M3 7.2h0M10.6 10.2h0M11 11.5h0M13.4 7.2h0M6.3 2.4h0M6.7 12.2h0M1.8 2.1h0M13.3 7h0M10 3.6h0M1.8 7.6h0M4.6 3.8h0M13.2 4.7h0M13 13.3h0M8.2 3.2h0M0.9 9.4h0M0.4 1.7h0M2 11h0M11.7 13h0M12.9 4.9h0M12.2 9.5h0M0.8 3.9h0M13 7h0M10.3 10h0M4.5 8.3h0M5.8 6.8h0M3.8 11.1h0M0.7 4.4h0M8.9 8.8h0M10.1 4.9h0M4 3.3h0M11.6 2.8h0M3.7 9.5h0M2 3.3h0M12.8 13.6h0M3 13.5h0M0.6 0.8h0M6.2 6.4h0M6.6 4.4h0M13.6 8.9h0M2.2 9.6h0M12.8 4.5h0M4.6 6.2h0M9.2 3.4h0M5 10.5h0M7.5 5.1h0M3.3 7.1h0M8.6 10h0M2.7 6.9h0M2.1 9.5h0M0.5 4.5h0M4.1 9.7h0M1.5 5.8h0M6.6 11.1h0" stroke="#c8aca8" stroke-width="0.95" stroke-linecap="round"/><path d="M7 7.4h0M2.4 10.6h0M6.1 7.1h0M1 5.9h0M13.1 6.4h0M3.8 5.7h0M5.7 6.2h0M3.1 8.3h0M13.4 10.6h0M9.1 0.7h0M11.2 10.1h0M8.1 3.8h0M3.4 2.8h0M0.4 10.8h0M13.9 13.3h0M3.5 9.6h0M10.5 6.4h0M5.6 13.5h0M3.2 13.5h0M0.7 4.5h0M9.7 5.9h0M11.7 5h0M10.2 2.7h0M6 1.3h0M11.7 12.4h0M9.9 2.5h0M0.6 3.9h0M10 2.6h0" stroke="#fff" stroke-width="0.9" stroke-linecap="round"/></pattern></defs>
<path d="M194.6 595.2L195.3 589.4L199 585.8L203.4 583.6L209.2 582.8L218 583.6L223.8 582.5L232.6 582.1L240.6 583.6L239.9 585.8L235.5 587.9L229.6 590.1L232.6 593.1L238.4 593.8L244.2 594.5L251.5 596.7L255.9 597.4L261.8 597.4L266.9 599.6L269.1 604L267.6 608.4L270.5 612L274.9 615.7L277.1 620.8L276.4 626.6L273.4 632.5L270.5 636.9L266.1 639L262.5 636.9L259.6 635.4L255.9 638.3L253 641.2L248.6 644.2L241.3 645.6L234 647.1L231.1 650L230.4 655.8L229.6 663.1L226.7 669L220.9 671.2L213.6 670.4L208.5 667.5L203.4 662.4L199.7 656.6L197.5 650L196.1 644.2L195.3 638.3L194.6 632.5L196.1 628.1L201.9 625.2L197.5 623.7L188.8 621.5L182.9 619.3L181.2 616.4L184.4 613.2L191.7 613.5L197.5 615L200.4 615.7L203.4 613.5L197.5 612.8L196.1 609.1L199 606.9L206.3 607.7L208.5 612L210.7 610.6L212.8 606.2L215 603.3L210.7 604.7L209.2 601.8L212.1 600.4L216.5 601.1L218.7 599.6L216.5 597.4L209.2 596.7L201.9 597.4L196.1 597.4ZM287.7 628.5L290.6 625.6L296 622.8L301.5 620.6L305.9 618L310.3 614L313.6 613.2L314.7 615.8L312.5 619.1L317.9 619.7L321.2 623.5L322.8 627.8L320.1 631.1L314.7 631.6L310.9 633.7L307.4 635.1L304.8 632.2L300.4 631.1L293.9 630L289.5 630ZM293.2 603.5L295.5 601.2L299.5 600.6L303.6 601.6L304.6 604.5L302.5 607.2L297.5 607.6L294.2 606.2Z" fill="url(#pc8aca8)"/>
<path d="M216.5 601.8L228.2 597.4L241.3 596L253 598.9L258.8 606.2L255.9 615L253 623.7L250.1 635.4L245.7 642.7L238.4 645.6L231.1 644.2L223.8 639.8L218 633.9L213.6 626.6L212.1 617.9L213.6 609.1ZM197.5 635.4L209.2 632.5L216.5 635.4L223.8 641.2L228.9 650L227.4 664.6L221.6 669L212.8 669L205.5 662.4L200.4 654.4L197.5 644.2Z" fill="#c8aca8" fill-opacity="0.62" filter="url(#bl2)"/>
<path d="M200.4 598.9L209.2 597.4L216.5 600.4L214.3 606.2L209.2 606.9L201.9 604.7ZM217.2 590.9L228.2 590.4L230.4 593.1L223.8 597.4L218.2 598.6ZM253.7 606.2L259.6 608.4L262.5 615.7L261.8 625.2L259.6 631L255.9 627.4L255.2 617.9ZM199 646.8L216.5 645.6L228.2 648.5L228.2 650.7L215 650L199.7 649.6ZM201.9 658.8L218 658L228.9 659.5L228.2 662.4L216.5 661.7L203.4 661.7ZM203.4 618.6L212.8 619.3L214.3 627.4L209.2 628.4L204.1 625.2ZM182.9 615.2L190.2 614.7L194.6 616.4L188.8 618.2L183.6 617.6ZM259.6 636.1L263.9 636.1L265.4 638.3L261.8 638.6ZM290.6 626.7L302.6 624.6L305.9 629.4L298.2 631.1L290.6 630.2Z" fill="#fff" fill-opacity="0.45" filter="url(#bl2)"/>
<path d="M226.4 642.6h0M197.9 643h0M227.7 646.7h0M202 641h0M216.3 638.6h0M204.2 639.9h0M200.5 638.1h0M206.6 644h0M218.6 640.3h0M218.1 645.1h0M199.5 646.5h0M227.8 646.9h0M211.1 643.7h0M206.1 642.9h0M211.3 645h0M212.2 640.7h0M239.3 643.7h0M208.4 638.4h0M223.5 643.8h0M240 645.3h0M231 648.1h0M210.1 645.4h0M206.5 643.3h0M221.7 645.9h0M217.2 642.7h0M216.3 646.5h0M236.1 645.9h0M217.8 644.8h0M221.2 648.5h0M209.1 647.2h0M234.7 649.9h0M241.1 649h0M210.5 647.8h0M221.7 641.2h0M216 647.9h0M241.6 648.6h0M204.5 644.7h0M207.5 641.5h0M201.6 639h0M210.5 642.3h0M196.7 642.9h0M208.4 640.4h0M197.4 638.2h0M234.4 644.9h0M223.3 640.3h0M234.5 648.1h0M233.6 644.5h0M225.2 640.5h0M217.6 639.5h0M234.3 644.8h0M238.1 645.6h0M228.4 649.6h0M239.9 644.7h0M216.1 638.3h0M214.1 646.7h0M246.4 645.8h0M231.8 649.9h0M221 647.4h0M213.2 638.4h0M229.5 648.1h0M209.5 646.3h0M203.4 643.7h0M238.9 645.6h0M205.5 637.9h0M222 642.6h0M247.6 642.6h0M242 647.7h0M212.5 643.7h0M217.4 645.8h0M223.4 641.3h0M207 641.5h0M199.1 642.7h0M241.2 646.5h0M248.2 648.5h0M227.7 644.9h0M196.7 642.2h0M210.2 645.5h0M199.6 644.4h0M216.3 643.7h0M235.6 648h0M269.5 615.1h0M269.5 634.9h0M270.7 619.3h0M274.8 618.5h0M269.1 622h0M269.8 620.8h0M268.5 636.4h0M268.9 636h0M268.7 631.1h0M268.3 630.6h0M273.1 618.3h0M265.6 618h0M271.4 625.9h0M269.6 620.6h0M269.3 637.1h0M273.1 616.6h0M268.8 632.4h0M273.8 622.5h0M268.6 636.4h0M261.6 615.6h0M269.2 615.2h0M273.1 625.4h0M273.5 617.7h0M272.6 628.7h0M275.2 620.3h0M271 630h0M274 626.9h0M268.5 615.6h0M272.7 632.2h0M264.3 614.6h0M261.7 614.8h0M261.7 614h0M274.4 622.8h0M272.9 630.8h0M272.8 626h0M270.2 624.7h0M275.6 623.9h0M268.9 634.7h0M266.5 638.1h0M265.5 615.3h0M270.2 631.5h0M267.2 636h0M267.3 637.4h0M270.2 635h0M266.2 638.1h0M319.7 623.7h0M319.8 621.1h0M318.6 625.3h0M313.4 620.8h0M319.4 629.7h0M310.6 623.8h0M313.5 627.1h0M316.8 623.6h0M315.1 627.2h0M313.5 623.4h0M313.6 620.4h0M321.5 627.4h0M315.4 624.6h0M311 622.8h0M314.7 625h0M322.1 626.9h0M309.6 623.3h0M319.1 632.4h0M310.8 630.5h0M313.9 626.5h0M315.3 618.2h0M308.2 628.6h0M317.7 623.9h0M311.8 618.6h0M315.6 628.4h0M314.6 618.1h0M318.4 627.9h0M311.4 624.9h0M310.7 620.6h0M310 631.1h0M314.1 629.4h0M312.5 631h0M316.3 628.4h0M313.2 626.9h0M317.4 626.4h0M316.9 619.2h0M312.3 621.4h0M314 632h0M319.1 629.5h0M311.8 621.4h0M317.9 622.5h0M318.2 623.3h0M318.8 627.1h0M313.1 630.4h0M312 621h0M319.1 626.7h0M318.7 625.7h0M307.8 630.4h0M310.5 625.4h0M317.3 630.3h0M244.9 634h0M261.3 609.6h0M303.9 602.6h0M301.4 622.5h0M214.8 626.5h0M228.3 595h0M230.3 653.5h0M258.2 624.1h0M248.4 603.3h0M250.9 636.1h0M235 624.5h0M247.9 626h0M259.1 608.9h0M252.1 600.8h0M251.4 641.7h0M228.1 589.2h0M202 650.2h0M312.2 629.1h0M308.4 624h0M250.6 612.7h0M214.6 647.1h0M266.1 636.3h0M297.4 602.3h0M200.9 629.8h0M193.7 618.9h0M223.2 635.1h0M259.3 606.6h0M212.8 610.7h0M302.5 622.6h0M246.8 618.7h0M212.8 594.1h0M266.5 627.7h0M307.4 621.1h0M224 609.3h0M233.5 584.4h0M226.3 665.1h0M242.2 621.6h0M236.6 597.5h0M208.3 648.9h0M297.4 607.4h0M314.2 625.7h0M200.4 630.7h0M214.1 590.7h0M192.4 614.8h0M213.6 617.6h0M200.1 609.8h0M247.9 632.1h0M253 635.6h0M221.4 605.8h0M221.4 587.2h0M221.9 668.9h0M245 599.2h0M310.4 627.5h0M241.3 620h0M314.3 619.8h0M204.1 623.1h0M313.3 617.7h0M313.8 627.4h0M243.3 632.9h0M200.2 620.4h0M205.2 633.6h0M298.3 604.7h0M207.5 592.6h0M307.2 626.2h0M307.4 633.3h0M270.7 616.3h0M291.5 629h0M301.4 603.4h0M250.5 610.4h0M230.6 606.2h0" stroke="#5252a8" stroke-width="0.95" stroke-linecap="round" fill="none"/>
<text x="191.3" y="568.7" font-size="7.2" fill="#222" stroke="#222" stroke-width="0.15" textLength="121" lengthAdjust="spacingAndGlyphs"><tspan font-style="italic">PRF1</tspan> (blood: 93.3%, tumor: 74.2%)</text>
<text x="311.6" y="580.8" font-size="6.2" fill="#222" textLength="32" lengthAdjust="spacingAndGlyphs">log1p(TPM)</text>
<rect x="322" y="584.9" width="5.9" height="27.5" fill="url(#gblu)"/>
<text x="330.4" y="588.3" font-size="4.6" fill="#333">8</text>
<text x="330.4" y="594.3" font-size="4.6" fill="#333">6</text>
<text x="330.4" y="600.4" font-size="4.6" fill="#333">4</text>
<text x="330.4" y="606.4" font-size="4.6" fill="#333">2</text>
<text x="330.4" y="612.5" font-size="4.6" fill="#333">0</text>
<defs><pattern id="pd89080" width="14" height="14" patternUnits="userSpaceOnUse"><rect width="14" height="14" fill="#eab4a6"/><path d="M8.5 12.1h0M0 6.7h0M13.1 13.9h0M8.3 4.7h0M11.9 1.3h0M2.3 6.6h0M1.5 5.6h0M10.9 12.9h0M11.9 5.6h0M14 12h0M11.3 0.7h0M3.7 9h0M5.4 7.9h0M6.6 2.8h0M1.2 12.4h0M6.7 12.9h0M11.4 13.5h0M4.7 5.4h0M8.9 4h0M4.4 8.6h0M9.7 8.6h0M1.7 10.4h0M4.2 8.4h0M5.5 7.6h0M13.5 3.2h0M1.2 2.6h0M12.2 3.6h0M6 13.8h0M12.4 8.9h0M8.6 7.6h0M9.6 13.5h0M1.6 13.3h0M6.9 11.1h0M12.8 10.7h0M4.5 4.9h0M8.5 10.4h0M0.2 9.7h0M8.4 10.4h0M1.4 0.8h0M3.9 12.5h0M4 7.3h0M13.2 0h0M9 12.5h0M3.4 1.2h0M11.7 5.3h0M3.7 14h0M3.7 8.6h0M1.5 0.6h0M13.7 2.8h0M1.8 1.1h0M6.4 4.2h0M11.7 1.7h0M9 8.4h0M8.8 12.3h0M9.3 8.6h0M6.2 1h0M9 13h0M10 11.6h0M7.1 4.7h0M0.3 6.5h0M3.9 10.5h0M12.9 3.4h0M7.7 10.8h0M7.9 7.9h0M10.4 7.7h0M3.4 4.6h0M11.5 10.1h0M7.9 10.1h0M4.6 0.2h0M8.5 9.2h0M11.3 12.8h0M5.8 12.8h0M5.8 8.8h0M9.2 10.1h0M13.7 5.8h0M4.1 3.6h0M7.6 7.1h0M7.5 8.9h0M4.5 4.9h0M6.7 9.7h0M7.3 4.2h0M7.4 5.3h0M4.6 13.3h0M8.3 2.6h0M7.2 3.4h0M9.8 3h0M1.5 1.3h0M7.9 13.4h0M0.4 1.3h0M3.9 13.2h0M8 6.5h0M12.6 6.7h0M1.5 3.7h0M8.5 1.4h0M7.1 5.9h0" stroke="#d89080" stroke-width="0.95" stroke-linecap="round"/><path d="M2.8 13.8h0M7.1 13.6h0M11.6 12h0M3.3 6.4h0M3.7 0.5h0M2.1 2.8h0M11.5 7.3h0M13.2 13h0M4.8 1.9h0M13.6 3.9h0M8.9 8.7h0M3.8 10.4h0M7.5 12.3h0M5.8 5.5h0M9.7 2.8h0M10.4 3.3h0M6.7 10.9h0M10.2 12.5h0M4.5 11.2h0M0.9 12.6h0M6.2 3.7h0M11.6 5.8h0M8.6 8.8h0M2.9 2.3h0M4.1 9h0M1.1 1.9h0M10.2 10.5h0M10 10.7h0" stroke="#fff" stroke-width="0.9" stroke-linecap="round"/></pattern></defs>
<path d="M105.3 713.2L106 707.4L109.7 703.8L114.1 701.6L119.9 700.8L128.7 701.6L134.5 700.5L143.3 700.1L151.3 701.6L150.6 703.8L146.2 705.9L140.3 708.1L143.3 711.1L149.1 711.8L154.9 712.5L162.2 714.7L166.6 715.4L172.5 715.4L177.6 717.6L179.8 722L178.3 726.4L181.2 730L185.6 733.7L187.8 738.8L187.1 744.6L184.1 750.5L181.2 754.9L176.8 757L173.2 754.9L170.3 753.4L166.6 756.3L163.7 759.2L159.3 762.2L152 763.6L144.7 765.1L141.8 768L141.1 773.8L140.3 781.1L137.4 787L131.6 789.2L124.3 788.4L119.2 785.5L114.1 780.4L110.4 774.6L108.2 768L106.8 762.2L106 756.3L105.3 750.5L106.8 746.1L112.6 743.2L108.2 741.7L99.5 739.5L93.6 737.3L91.9 734.4L95.1 731.2L102.4 731.5L108.2 733L111.1 733.7L114.1 731.5L108.2 730.8L106.8 727.1L109.7 724.9L117 725.7L119.2 730L121.4 728.6L123.5 724.2L125.7 721.3L121.4 722.7L119.9 719.8L122.8 718.4L127.2 719.1L129.4 717.6L127.2 715.4L119.9 714.7L112.6 715.4L106.8 715.4ZM198.4 746.5L201.3 743.6L206.7 740.8L212.2 738.6L216.6 736L221 732L224.3 731.2L225.4 733.8L223.2 737.1L228.6 737.7L231.9 741.5L233.5 745.8L230.8 749.1L225.4 749.6L221.6 751.7L218.1 753.1L215.5 750.2L211.1 749.1L204.6 748L200.2 748ZM203.9 721.5L206.2 719.2L210.2 718.6L214.3 719.6L215.3 722.5L213.2 725.2L208.2 725.6L204.9 724.2Z" fill="url(#pd89080)"/>
<path d="M127.2 719.8L138.9 715.4L152 714L163.7 716.9L169.5 724.2L166.6 733L163.7 741.7L160.8 753.4L156.4 760.7L149.1 763.6L141.8 762.2L134.5 757.8L128.7 751.9L124.3 744.6L122.8 735.9L124.3 727.1ZM108.2 753.4L119.9 750.5L127.2 753.4L134.5 759.2L139.6 768L138.1 782.6L132.3 787L123.5 787L116.2 780.4L111.1 772.4L108.2 762.2Z" fill="#dc8c7a" fill-opacity="0.62" filter="url(#bl2)"/>
<path d="M111.1 716.9L119.9 715.4L127.2 718.4L125 724.2L119.9 724.9L112.6 722.7ZM127.9 708.9L138.9 708.4L141.1 711.1L134.5 715.4L128.9 716.6ZM164.4 724.2L170.3 726.4L173.2 733.7L172.5 743.2L170.3 749L166.6 745.4L165.9 735.9ZM109.7 764.8L127.2 763.6L138.9 766.5L138.9 768.7L125.7 768L110.4 767.6ZM112.6 776.8L128.7 776L139.6 777.5L138.9 780.4L127.2 779.7L114.1 779.7ZM114.1 736.6L123.5 737.3L125 745.4L119.9 746.4L114.8 743.2ZM93.6 733.2L100.9 732.7L105.3 734.4L99.5 736.2L94.3 735.6ZM170.3 754.1L174.6 754.1L176.1 756.3L172.5 756.6ZM201.3 744.7L213.3 742.6L216.6 747.4L208.9 749.1L201.3 748.2Z" fill="#fff" fill-opacity="0.45" filter="url(#bl2)"/>
<path d="M159.7 758.6h0M156 764.3h0M130.9 764.9h0M122.6 764.6h0M118.2 763.3h0M138.5 761h0M154.1 764.9h0M151.4 763.8h0M124.8 757.7h0M134.5 763.1h0M114.2 763.8h0M121.1 764.2h0M112.7 759h0M133.7 763.2h0M149.3 764.2h0M147 762.7h0M142.3 762.8h0M108 762.7h0M140.7 766.9h0M117.2 761.6h0M136.2 766h0M131.3 766.6h0M148.9 765.7h0M136.6 764.7h0M147.1 768.1h0M152.8 763.2h0M121.6 763.3h0M119.4 765.7h0M111.3 760.1h0M137.8 763.9h0M125.1 758.6h0M140.5 766.9h0M158.7 762h0M122.7 762.9h0M155.1 762.5h0M108.4 760h0M158.1 760.7h0M141.9 766.5h0M116.7 759.1h0M151 766.9h0M158.9 761.9h0M141.8 762.4h0M122.7 757.3h0M131 761h0M116.5 759.1h0M114.1 759.3h0M119.7 760h0M149.4 762.2h0M139.5 761.2h0M147.3 762.5h0M140.7 766.9h0M137.4 763.3h0M115 759.4h0M112 757.4h0M157.4 760.7h0M121.5 756.6h0M125.5 763.9h0M156.7 761.2h0M123.2 764.7h0M112.2 759.2h0M135.4 764.3h0M126 762.5h0M138.7 761.1h0M114.2 755.8h0M153.6 763.6h0M144.2 764h0M156.1 762.3h0M114 758.3h0M143.5 768.1h0M130.6 763.5h0M119.6 758h0M145.8 765.3h0M156.9 760.1h0M152.8 766.8h0M147.8 762.8h0M159.1 766.1h0M119.3 759.2h0M137 765.7h0M139.1 764h0M124.7 763.9h0M145.2 768.3h0M144.9 762.5h0M132.6 766.3h0M128.2 762.7h0M108.2 761.7h0M156.2 761.4h0M111.5 760.4h0M119.3 763.9h0M141.7 761h0M135.9 766.6h0M157.1 762.9h0M135.4 762.3h0M133 766.6h0M130 760.6h0M134.3 764.7h0M119.6 758.2h0M125.2 760.4h0M146.1 765.4h0M137.8 763.6h0M115.9 761.2h0M153 760.4h0M124.2 763.7h0M145.8 767.8h0M126.7 763.3h0M139.3 759.4h0M138.2 767.5h0M127.7 765.3h0M124.6 764.8h0M152.5 766.8h0M123.7 757.9h0M118.4 760.5h0M120.7 759.4h0M135.6 764.5h0M136.8 764.7h0M127.4 762.8h0M155.9 765.4h0M136.6 762.2h0M131.5 763.1h0M125 762.2h0M120.5 756.2h0M158.5 765.1h0M149.1 766.6h0M131 758.1h0M116.4 764.8h0M150.5 767.8h0M125.1 766.2h0M132.4 765.7h0M120.3 763.4h0M137.8 766.2h0M136.1 766.7h0M128.8 766.6h0M122.7 757.5h0M143.6 766.3h0M130.7 763.1h0M143.5 764.8h0M145.4 768.5h0M124 755.7h0M121 758.2h0M112.5 761.1h0M157.1 763.7h0M119.2 758h0M112.1 763h0M112.9 760.9h0M149.7 761.4h0M115.3 760.1h0M131 762.3h0M137.1 761.7h0M110.7 758.2h0M149.7 766.7h0M111.3 764.2h0M176.3 733.6h0M184.9 743.1h0M186.1 737.6h0M184 736.3h0M184.8 743.3h0M175.4 731.9h0M177.8 755.5h0M185.2 742.4h0M178.8 735h0M182.8 752.3h0M184.4 749.6h0M180.6 741.9h0M180 734.2h0M184.4 748.8h0M178.9 752.6h0M183.6 742.6h0M185.3 737.1h0M186.6 740.4h0M180.4 748.1h0M180.8 746.7h0M173.7 734.6h0M184.9 739.1h0M181.4 743.2h0M184.2 735.3h0M186.2 736.1h0M176.4 736.1h0M186.1 740.2h0M185.3 743.9h0M180.6 741.1h0M181 739h0M177.5 755.3h0M177.8 752.5h0M181.4 745.3h0M183.6 744.6h0M181.1 749.3h0M179.2 749.2h0M182.6 746.9h0M178.1 751.4h0M181.7 752.5h0M175.4 733.9h0M180.1 747.4h0M184.4 742.8h0M177.6 756h0M179.2 735h0M180.3 751.3h0M184.6 737.9h0M177.4 733.1h0M174.5 735.2h0M176.7 733.1h0M179 734.3h0M181.3 733.8h0M183.4 748.3h0M187.2 743h0M181.5 745.1h0M186.2 741.1h0M186.7 739.9h0M182.5 744.9h0M181.9 734.3h0M173.2 734.4h0M183.5 740.9h0M186.8 741.5h0M182.7 748.7h0M184.9 748.3h0M177.4 755.5h0M180.3 751.6h0M185.7 735.9h0M175.4 733.5h0M180.1 752h0M182.4 733.8h0M185.6 738.1h0M179.3 754.9h0M177.9 752.8h0M187.2 743.3h0M181.8 736.8h0M173.5 732.1h0M185.1 739.7h0M182 735.3h0M182.4 749.1h0M174.6 732.8h0M185.8 747h0M180.5 754.1h0M183.6 739.1h0M177.8 736.1h0M174.1 734.1h0M176.3 734.8h0M178.1 731.8h0M178.8 732.6h0M182 751.6h0M175.4 732.3h0M180.7 751.1h0M183.2 748.2h0M184.3 734.8h0M177.6 731.6h0M181.6 742.2h0M177.1 731.4h0M184.5 745.3h0M185 736.9h0M171.9 730.8h0M185 740.2h0M184 736.3h0M175.4 733.6h0M180 746.4h0M176.3 736.1h0M178.7 752.6h0M182 741.1h0M186.4 740.4h0M171.1 730.5h0M179.3 739.4h0M174 734.2h0M176.3 732.7h0M175.9 733.2h0M183.4 741.6h0M186.3 746h0M184.7 735.7h0M172.1 732.8h0M183.5 745.3h0M184.4 749.2h0M185.9 738.1h0M179.1 734.2h0M178.1 731.6h0M185.1 746.8h0M171.4 732.5h0M186.5 741.3h0M183.8 735.5h0M174.7 733.1h0M177.8 733.4h0M181.6 740.1h0M178.2 736.4h0M177.3 733h0M181.2 737.8h0M230.3 749.4h0M230.7 739.2h0M226.3 748.3h0M226.6 740h0M224.5 744h0M224.7 736.4h0M218.8 746.7h0M230.7 748.9h0M227.4 747.2h0M223.1 745.6h0M222.3 744.5h0M219.8 743.2h0M221.6 751.4h0M228.8 745.5h0M221.6 746.9h0M228.4 739.1h0M223.5 748.6h0M223.4 744.6h0M221.1 748.6h0M226.4 747.7h0M226.7 743.7h0M220.8 747.5h0M221.1 740.8h0M225.7 744.2h0M219.9 750h0M223.5 751h0M220 741.4h0M220.8 743.3h0M229.9 744.8h0M225.2 747.9h0M220.9 743.5h0M226.1 736.4h0M224.9 747.7h0M226.7 738.4h0M231.4 744.6h0M230.3 744.7h0M227.8 747h0M225.9 736.9h0M224.1 736.2h0M224.1 750.6h0M230.9 747.3h0M232.8 744.7h0M230.9 743.9h0M219.5 743.2h0M228.7 741h0M230.1 749.8h0M218.8 744.1h0M228.6 748.5h0M223.2 741.3h0M230.5 738.5h0M221.2 744.5h0M225.4 746.1h0M222.9 739.2h0M226.8 741.4h0M224.3 740.4h0M225.2 741.3h0M227.2 750.3h0M229.4 739.4h0M230.7 748.9h0M230.6 743.2h0M228.5 748h0M219 743.7h0M231.1 748.3h0M226.2 747.9h0M230.8 743.4h0M219 742.2h0M231.3 739.5h0M223.6 751.7h0M224.8 738.3h0M224.5 749.8h0M220.8 741.8h0M222.3 740h0M222.7 737.8h0M226.7 746.6h0M225.4 738.9h0M222.2 742.7h0M226.7 748.3h0M230.5 746.4h0M230.6 738.1h0M229.4 746.4h0M226.6 740.8h0M110.5 704.4h0M151.1 746.2h0M141.2 728.6h0M210.9 748h0M209.7 725.1h0M126.4 765.4h0M171.8 719.9h0M119.8 738.6h0M142.7 703.5h0M143.7 712.1h0M142.8 701.5h0M212.6 724.4h0M100.7 731.8h0M116.4 702.9h0M100.7 733.4h0M133.8 731.3h0M219.1 752.2h0M224.7 738.7h0M167.4 725.8h0M93.2 735.7h0M224.8 743.8h0M229.9 745.1h0M205.5 723.5h0M115 737.1h0M145.1 721.3h0M148.1 741.4h0M155.8 714.1h0M142.7 711.5h0M112.4 731.1h0M207.2 722.1h0M184 742h0M126.6 741.7h0M166.7 745.6h0M213.5 722.6h0M216.4 744.4h0M138.5 755.5h0M224.4 749.9h0M225 733.8h0M139.4 714.2h0M159 743.6h0M112.7 712.4h0M129.7 784.3h0M226.9 746.2h0M113.4 772.7h0M117.2 706.8h0M134.6 749.1h0M221.8 737h0M217 745.7h0M143.9 732h0M161 729.9h0M112.3 728.1h0M226 747.7h0M166.4 747.2h0M111.2 713h0M223.4 749.4h0M99.8 738.1h0M145.6 738.9h0M211.4 747h0M117.2 762.2h0M134.4 710h0M179.9 729h0M102.5 735.7h0M161.2 756.6h0M128 745.7h0M112.7 711.1h0M145.2 739.8h0M141.2 749.8h0M135.5 713.5h0M171.4 744.4h0M136.9 718.5h0M117.4 767.2h0M164.9 745.4h0M210.7 722.8h0M102.5 737.2h0M170 723.9h0M155.6 716.9h0M140.3 734.7h0M115 754h0M109.2 746.3h0M137.7 771.4h0M134.3 756h0M126.6 732.2h0M210 720.8h0M142.4 767.3h0M119.3 731.5h0M218 745.2h0M176 738.9h0M223.8 740.2h0M139.2 705.7h0M120.5 753.2h0M140.3 711.7h0M129.3 743h0M143.7 717.5h0M218.5 752.1h0M230 747.1h0M221.4 749.8h0M139.9 752.3h0M127.6 754.5h0M131.4 707.7h0M96.1 733h0M144.7 734.5h0M127.3 783.5h0M108.8 736.6h0M179.4 750h0M206.9 746.6h0M147 741.8h0M137 776.5h0M124.5 724.7h0M216.5 740.7h0" stroke="#4a4aa8" stroke-width="0.95" stroke-linecap="round" fill="none"/>
<text x="95.8" y="687.4" font-size="7.2" fill="#222" stroke="#222" stroke-width="0.15" textLength="132.7" lengthAdjust="spacingAndGlyphs"><tspan font-style="italic">FCGR3A</tspan> (blood: 81.1%, tumor: 50.8%)</text>
<text x="225.8" y="698.2" font-size="6.2" fill="#222" textLength="32" lengthAdjust="spacingAndGlyphs">log1p(TPM)</text>
<rect x="235.8" y="702.5" width="5.9" height="27.5" fill="url(#gblu)"/>
<text x="244.2" y="705.9" font-size="4.6" fill="#333">8</text>
<text x="244.2" y="711.9" font-size="4.6" fill="#333">6</text>
<text x="244.2" y="718" font-size="4.6" fill="#333">4</text>
<text x="244.2" y="724" font-size="4.6" fill="#333">2</text>
<text x="244.2" y="730.1" font-size="4.6" fill="#333">0</text>
<text x="377.4" y="436.3" font-size="12.5" font-weight="bold" fill="#000" stroke="#000" stroke-width="0.55">g</text>
<text x="395.1" y="436.3" font-size="9" stroke="#231f20" stroke-width="0.15" textLength="252.8" lengthAdjust="spacingAndGlyphs">Expression across NK cell subtypes in tumors and blood</text>
<text x="395.1" y="447.6" font-size="9" stroke="#231f20" stroke-width="0.15" textLength="199.4" lengthAdjust="spacingAndGlyphs">samples from individuals with breast cancer</text>
<line x1="421.4" y1="455.5" x2="421.4" y2="634.2" stroke="#555" stroke-width="0.7"/>
<line x1="421.4" y1="634.2" x2="613.5" y2="634.2" stroke="#555" stroke-width="0.7"/>
<line x1="419.4" y1="459.9" x2="421.4" y2="459.9" stroke="#555" stroke-width="0.5"/>
<text x="417.6" y="461.9" font-size="5.9" text-anchor="end" font-style="italic" fill="#333">CXCR2</text>
<circle cx="427.1" cy="459.9" r="0.35" fill="#fbe2d5"/>
<circle cx="436.2" cy="459.9" r="0.8" fill="#f5a886"/>
<circle cx="445.2" cy="459.9" r="0.35" fill="#fbe2d5"/>
<circle cx="454.3" cy="459.9" r="0.6" fill="#f9c6ad"/>
<circle cx="463.4" cy="459.9" r="0.7" fill="#f5a886"/>
<circle cx="472.5" cy="459.9" r="0.35" fill="#e2eaf1"/>
<circle cx="481.6" cy="459.9" r="0.35" fill="#e2eaf1"/>
<circle cx="490.6" cy="459.9" r="0.35" fill="#e2eaf1"/>
<circle cx="499.7" cy="459.9" r="0.35" fill="#e2eaf1"/>
<circle cx="508.8" cy="459.9" r="0.7" fill="#f5a886"/>
<circle cx="517.9" cy="459.9" r="0.7" fill="#f5a886"/>
<circle cx="526.9" cy="459.9" r="0.5" fill="#f9c6ad"/>
<circle cx="536" cy="459.9" r="0.5" fill="#f9c6ad"/>
<circle cx="545.1" cy="459.9" r="0.5" fill="#f9c6ad"/>
<circle cx="554.1" cy="459.9" r="0.7" fill="#f5a886"/>
<circle cx="563.2" cy="459.9" r="0.7" fill="#ec8a60"/>
<circle cx="572.3" cy="459.9" r="0.5" fill="#fbe2d5"/>
<circle cx="581.4" cy="459.9" r="0.35" fill="#fbe2d5"/>
<circle cx="590.5" cy="459.9" r="0.35" fill="#fbe2d5"/>
<circle cx="599.5" cy="459.9" r="0.35" fill="#fbe2d5"/>
<circle cx="608.6" cy="459.9" r="0.35" fill="#fbe2d5"/>
<line x1="419.4" y1="466.4" x2="421.4" y2="466.4" stroke="#555" stroke-width="0.5"/>
<text x="417.6" y="468.4" font-size="5.9" text-anchor="end" font-style="italic" fill="#333">C5AR1</text>
<circle cx="427.1" cy="466.4" r="0.3" fill="#f4efed"/>
<circle cx="436.2" cy="466.4" r="0.6" fill="#f5a886"/>
<circle cx="445.2" cy="466.4" r="0.3" fill="#f4efed"/>
<circle cx="454.3" cy="466.4" r="0.3" fill="#f4efed"/>
<circle cx="463.4" cy="466.4" r="0.3" fill="#f4efed"/>
<circle cx="472.5" cy="466.4" r="0.3" fill="#f4efed"/>
<circle cx="481.6" cy="466.4" r="0.3" fill="#f4efed"/>
<circle cx="490.6" cy="466.4" r="0.3" fill="#f4efed"/>
<circle cx="499.7" cy="466.4" r="0.3" fill="#f4efed"/>
<circle cx="508.8" cy="466.4" r="0.3" fill="#f4efed"/>
<circle cx="517.9" cy="466.4" r="0.3" fill="#f4efed"/>
<circle cx="526.9" cy="466.4" r="0.3" fill="#f4efed"/>
<circle cx="536" cy="466.4" r="0.3" fill="#f4efed"/>
<circle cx="545.1" cy="466.4" r="0.3" fill="#f4efed"/>
<circle cx="554.1" cy="466.4" r="0.3" fill="#f4efed"/>
<circle cx="563.2" cy="466.4" r="0.3" fill="#f4efed"/>
<circle cx="572.3" cy="466.4" r="0.3" fill="#f4efed"/>
<circle cx="581.4" cy="466.4" r="0.6" fill="#de6a48"/>
<circle cx="590.5" cy="466.4" r="0.3" fill="#f4efed"/>
<circle cx="599.5" cy="466.4" r="0.3" fill="#f4efed"/>
<circle cx="608.6" cy="466.4" r="0.5" fill="#de6a48"/>
<line x1="419.4" y1="473" x2="421.4" y2="473" stroke="#555" stroke-width="0.5"/>
<text x="417.6" y="475" font-size="5.9" text-anchor="end" font-style="italic" fill="#333">FPR3</text>
<circle cx="427.1" cy="473" r="0.3" fill="#f4efed"/>
<circle cx="436.2" cy="473" r="0.3" fill="#f4efed"/>
<circle cx="445.2" cy="473" r="0.3" fill="#f4efed"/>
<circle cx="454.3" cy="473" r="0.3" fill="#f4efed"/>
<circle cx="463.4" cy="473" r="0.3" fill="#f4efed"/>
<circle cx="472.5" cy="473" r="0.3" fill="#f4efed"/>
<circle cx="481.6" cy="473" r="0.6" fill="#de6a48"/>
<circle cx="490.6" cy="473" r="0.6" fill="#de6a48"/>
<circle cx="499.7" cy="473" r="0.3" fill="#f4efed"/>
<circle cx="508.8" cy="473" r="0.3" fill="#f4efed"/>
<circle cx="517.9" cy="473" r="0.3" fill="#f4efed"/>
<circle cx="526.9" cy="473" r="0.3" fill="#f4efed"/>
<circle cx="536" cy="473" r="0.3" fill="#f4efed"/>
<circle cx="545.1" cy="473" r="0.3" fill="#f4efed"/>
<circle cx="554.1" cy="473" r="0.3" fill="#f4efed"/>
<circle cx="563.2" cy="473" r="0.3" fill="#f4efed"/>
<circle cx="572.3" cy="473" r="0.3" fill="#f4efed"/>
<circle cx="581.4" cy="473" r="0.3" fill="#f4efed"/>
<circle cx="590.5" cy="473" r="0.3" fill="#f4efed"/>
<circle cx="599.5" cy="473" r="0.3" fill="#f4efed"/>
<circle cx="608.6" cy="473" r="0.3" fill="#f4efed"/>
<line x1="419.4" y1="479.5" x2="421.4" y2="479.5" stroke="#555" stroke-width="0.5"/>
<text x="417.6" y="481.5" font-size="5.9" text-anchor="end" font-style="italic" fill="#333">LPAR2</text>
<circle cx="427.1" cy="479.5" r="0.3" fill="#f4efed"/>
<circle cx="436.2" cy="479.5" r="0.4" fill="#e2eaf1"/>
<circle cx="445.2" cy="479.5" r="0.4" fill="#e2eaf1"/>
<circle cx="454.3" cy="479.5" r="0.6" fill="#de6a48"/>
<circle cx="463.4" cy="479.5" r="0.8" fill="#c9412f"/>
<circle cx="472.5" cy="479.5" r="0.3" fill="#f4efed"/>
<circle cx="481.6" cy="479.5" r="0.3" fill="#f4efed"/>
<circle cx="490.6" cy="479.5" r="0.3" fill="#f4efed"/>
<circle cx="499.7" cy="479.5" r="0.3" fill="#f4efed"/>
<circle cx="508.8" cy="479.5" r="0.4" fill="#f9c6ad"/>
<circle cx="517.9" cy="479.5" r="0.3" fill="#f4efed"/>
<circle cx="526.9" cy="479.5" r="0.4" fill="#e2eaf1"/>
<circle cx="536" cy="479.5" r="0.3" fill="#f4efed"/>
<circle cx="545.1" cy="479.5" r="0.3" fill="#f4efed"/>
<circle cx="554.1" cy="479.5" r="0.3" fill="#f4efed"/>
<circle cx="563.2" cy="479.5" r="0.3" fill="#f4efed"/>
<circle cx="572.3" cy="479.5" r="0.3" fill="#f4efed"/>
<circle cx="581.4" cy="479.5" r="0.3" fill="#f4efed"/>
<circle cx="590.5" cy="479.5" r="0.3" fill="#f4efed"/>
<circle cx="599.5" cy="479.5" r="0.3" fill="#f4efed"/>
<circle cx="608.6" cy="479.5" r="0.3" fill="#f4efed"/>
<line x1="419.4" y1="486" x2="421.4" y2="486" stroke="#555" stroke-width="0.5"/>
<text x="417.6" y="488" font-size="5.9" text-anchor="end" font-style="italic" fill="#333">GPR18</text>
<circle cx="427.1" cy="486" r="0.3" fill="#f4efed"/>
<circle cx="436.2" cy="486" r="1" fill="#f5a886"/>
<circle cx="445.2" cy="486" r="0.3" fill="#f4efed"/>
<circle cx="454.3" cy="486" r="0.5" fill="#fbe2d5"/>
<circle cx="463.4" cy="486" r="0.3" fill="#f4efed"/>
<circle cx="472.5" cy="486" r="0.6" fill="#f5a886"/>
<circle cx="481.6" cy="486" r="0.6" fill="#f5a886"/>
<circle cx="490.6" cy="486" r="0.3" fill="#f4efed"/>
<circle cx="499.7" cy="486" r="0.8" fill="#c9412f"/>
<circle cx="508.8" cy="486" r="0.3" fill="#f4efed"/>
<circle cx="517.9" cy="486" r="0.3" fill="#f4efed"/>
<circle cx="526.9" cy="486" r="0.3" fill="#f4efed"/>
<circle cx="536" cy="486" r="0.3" fill="#f4efed"/>
<circle cx="545.1" cy="486" r="0.3" fill="#f4efed"/>
<circle cx="554.1" cy="486" r="0.3" fill="#f4efed"/>
<circle cx="563.2" cy="486" r="0.3" fill="#f4efed"/>
<circle cx="572.3" cy="486" r="0.5" fill="#f9c6ad"/>
<circle cx="581.4" cy="486" r="0.3" fill="#f4efed"/>
<circle cx="590.5" cy="486" r="0.5" fill="#de6a48"/>
<circle cx="599.5" cy="486" r="0.3" fill="#f4efed"/>
<circle cx="608.6" cy="486" r="0.3" fill="#f4efed"/>
<line x1="419.4" y1="492.5" x2="421.4" y2="492.5" stroke="#555" stroke-width="0.5"/>
<text x="417.6" y="494.5" font-size="5.9" text-anchor="end" font-style="italic" fill="#333">GPR34</text>
<circle cx="427.1" cy="492.5" r="0.3" fill="#f4efed"/>
<circle cx="436.2" cy="492.5" r="0.3" fill="#f4efed"/>
<circle cx="445.2" cy="492.5" r="0.3" fill="#f4efed"/>
<circle cx="454.3" cy="492.5" r="0.6" fill="#f5a886"/>
<circle cx="463.4" cy="492.5" r="0.3" fill="#f4efed"/>
<circle cx="472.5" cy="492.5" r="0.6" fill="#f5a886"/>
<circle cx="481.6" cy="492.5" r="0.5" fill="#f5a886"/>
<circle cx="490.6" cy="492.5" r="0.4" fill="#fbe2d5"/>
<circle cx="499.7" cy="492.5" r="0.3" fill="#f4efed"/>
<circle cx="508.8" cy="492.5" r="0.3" fill="#f4efed"/>
<circle cx="517.9" cy="492.5" r="0.3" fill="#f4efed"/>
<circle cx="526.9" cy="492.5" r="0.3" fill="#f4efed"/>
<circle cx="536" cy="492.5" r="0.3" fill="#f4efed"/>
<circle cx="545.1" cy="492.5" r="0.3" fill="#f4efed"/>
<circle cx="554.1" cy="492.5" r="0.3" fill="#f4efed"/>
<circle cx="563.2" cy="492.5" r="0.3" fill="#f4efed"/>
<circle cx="572.3" cy="492.5" r="0.3" fill="#f4efed"/>
<circle cx="581.4" cy="492.5" r="0.3" fill="#f4efed"/>
<circle cx="590.5" cy="492.5" r="0.3" fill="#f4efed"/>
<circle cx="599.5" cy="492.5" r="0.3" fill="#f4efed"/>
<circle cx="608.6" cy="492.5" r="0.3" fill="#f4efed"/>
<line x1="419.4" y1="499.1" x2="421.4" y2="499.1" stroke="#555" stroke-width="0.5"/>
<text x="417.6" y="501.1" font-size="5.9" text-anchor="end" font-style="italic" fill="#333">GPR84</text>
<circle cx="427.1" cy="499.1" r="0.3" fill="#f4efed"/>
<circle cx="436.2" cy="499.1" r="0.3" fill="#f4efed"/>
<circle cx="445.2" cy="499.1" r="0.3" fill="#f4efed"/>
<circle cx="454.3" cy="499.1" r="0.3" fill="#f4efed"/>
<circle cx="463.4" cy="499.1" r="0.3" fill="#f4efed"/>
<circle cx="472.5" cy="499.1" r="0.6" fill="#de6a48"/>
<circle cx="481.6" cy="499.1" r="0.3" fill="#f4efed"/>
<circle cx="490.6" cy="499.1" r="0.3" fill="#f4efed"/>
<circle cx="499.7" cy="499.1" r="0.3" fill="#f4efed"/>
<circle cx="508.8" cy="499.1" r="0.3" fill="#f4efed"/>
<circle cx="517.9" cy="499.1" r="0.3" fill="#f4efed"/>
<circle cx="526.9" cy="499.1" r="0.3" fill="#f4efed"/>
<circle cx="536" cy="499.1" r="0.3" fill="#f4efed"/>
<circle cx="545.1" cy="499.1" r="0.3" fill="#f4efed"/>
<circle cx="554.1" cy="499.1" r="0.3" fill="#f4efed"/>
<circle cx="563.2" cy="499.1" r="0.3" fill="#f4efed"/>
<circle cx="572.3" cy="499.1" r="0.3" fill="#f4efed"/>
<circle cx="581.4" cy="499.1" r="0.3" fill="#f4efed"/>
<circle cx="590.5" cy="499.1" r="0.3" fill="#f4efed"/>
<circle cx="599.5" cy="499.1" r="0.3" fill="#f4efed"/>
<circle cx="608.6" cy="499.1" r="0.3" fill="#f4efed"/>
<line x1="419.4" y1="505.6" x2="421.4" y2="505.6" stroke="#555" stroke-width="0.5"/>
<text x="417.6" y="507.6" font-size="5.9" text-anchor="end" fill="#333">GPR183</text>
<circle cx="427.1" cy="505.6" r="0.3" fill="#f4efed"/>
<circle cx="436.2" cy="505.6" r="0.3" fill="#f4efed"/>
<circle cx="445.2" cy="505.6" r="0.3" fill="#f4efed"/>
<circle cx="454.3" cy="505.6" r="0.3" fill="#f4efed"/>
<circle cx="463.4" cy="505.6" r="0.3" fill="#f4efed"/>
<circle cx="472.5" cy="505.6" r="1.3" fill="#ec8a60"/>
<circle cx="481.6" cy="505.6" r="1.2" fill="#ec8a60"/>
<circle cx="490.6" cy="505.6" r="0.8" fill="#f5a886"/>
<circle cx="499.7" cy="505.6" r="1.7" fill="#b01a2a"/>
<circle cx="508.8" cy="505.6" r="0.3" fill="#f4efed"/>
<circle cx="517.9" cy="505.6" r="0.3" fill="#f4efed"/>
<circle cx="526.9" cy="505.6" r="0.3" fill="#f4efed"/>
<circle cx="536" cy="505.6" r="0.3" fill="#f4efed"/>
<circle cx="545.1" cy="505.6" r="0.3" fill="#f4efed"/>
<circle cx="554.1" cy="505.6" r="0.3" fill="#f4efed"/>
<circle cx="563.2" cy="505.6" r="0.3" fill="#f4efed"/>
<circle cx="572.3" cy="505.6" r="1.5" fill="#c9412f"/>
<circle cx="581.4" cy="505.6" r="0.3" fill="#f4efed"/>
<circle cx="590.5" cy="505.6" r="1" fill="#ec8a60"/>
<circle cx="599.5" cy="505.6" r="0.3" fill="#f4efed"/>
<circle cx="608.6" cy="505.6" r="0.3" fill="#f4efed"/>
<line x1="419.4" y1="512.1" x2="421.4" y2="512.1" stroke="#555" stroke-width="0.5"/>
<text x="417.6" y="514.1" font-size="5.9" text-anchor="end" font-style="italic" fill="#333">CCR7</text>
<circle cx="427.1" cy="512.1" r="0.3" fill="#f4efed"/>
<circle cx="436.2" cy="512.1" r="0.3" fill="#f4efed"/>
<circle cx="445.2" cy="512.1" r="0.3" fill="#f4efed"/>
<circle cx="454.3" cy="512.1" r="0.3" fill="#f4efed"/>
<circle cx="463.4" cy="512.1" r="0.3" fill="#f4efed"/>
<circle cx="472.5" cy="512.1" r="0.8" fill="#de6a48"/>
<circle cx="481.6" cy="512.1" r="0.7" fill="#de6a48"/>
<circle cx="490.6" cy="512.1" r="0.4" fill="#f9c6ad"/>
<circle cx="499.7" cy="512.1" r="0.8" fill="#c9412f"/>
<circle cx="508.8" cy="512.1" r="0.3" fill="#f4efed"/>
<circle cx="517.9" cy="512.1" r="0.3" fill="#f4efed"/>
<circle cx="526.9" cy="512.1" r="0.3" fill="#f4efed"/>
<circle cx="536" cy="512.1" r="0.3" fill="#f4efed"/>
<circle cx="545.1" cy="512.1" r="0.3" fill="#f4efed"/>
<circle cx="554.1" cy="512.1" r="0.3" fill="#f4efed"/>
<circle cx="563.2" cy="512.1" r="0.3" fill="#f4efed"/>
<circle cx="572.3" cy="512.1" r="0.8" fill="#de6a48"/>
<circle cx="581.4" cy="512.1" r="0.3" fill="#f4efed"/>
<circle cx="590.5" cy="512.1" r="0.8" fill="#b01a2a"/>
<circle cx="599.5" cy="512.1" r="0.3" fill="#f4efed"/>
<circle cx="608.6" cy="512.1" r="0.3" fill="#f4efed"/>
<line x1="419.4" y1="518.7" x2="421.4" y2="518.7" stroke="#555" stroke-width="0.5"/>
<text x="417.6" y="520.7" font-size="5.9" text-anchor="end" font-style="italic" fill="#333">CD44</text>
<circle cx="427.1" cy="518.7" r="0.8" fill="#e2eaf1"/>
<circle cx="436.2" cy="518.7" r="0.8" fill="#fbe2d5"/>
<circle cx="445.2" cy="518.7" r="0.6" fill="#a9cce4"/>
<circle cx="454.3" cy="518.7" r="0.6" fill="#a9cce4"/>
<circle cx="463.4" cy="518.7" r="0.8" fill="#6fa6d4"/>
<circle cx="472.5" cy="518.7" r="2.3" fill="#ec8a60"/>
<circle cx="481.6" cy="518.7" r="2.3" fill="#ec8a60"/>
<circle cx="490.6" cy="518.7" r="2" fill="#ec8a60"/>
<circle cx="499.7" cy="518.7" r="1.8" fill="#c9412f"/>
<circle cx="508.8" cy="518.7" r="1" fill="#e2eaf1"/>
<circle cx="517.9" cy="518.7" r="0.8" fill="#a9cce4"/>
<circle cx="526.9" cy="518.7" r="1" fill="#a9cce4"/>
<circle cx="536" cy="518.7" r="0.8" fill="#e2eaf1"/>
<circle cx="545.1" cy="518.7" r="0.6" fill="#a9cce4"/>
<circle cx="554.1" cy="518.7" r="0.6" fill="#a9cce4"/>
<circle cx="563.2" cy="518.7" r="0.6" fill="#a9cce4"/>
<circle cx="572.3" cy="518.7" r="2.3" fill="#f5a886"/>
<circle cx="581.4" cy="518.7" r="1" fill="#f9c6ad"/>
<circle cx="590.5" cy="518.7" r="2" fill="#f5a886"/>
<circle cx="599.5" cy="518.7" r="1.8" fill="#f9c6ad"/>
<circle cx="608.6" cy="518.7" r="0.6" fill="#fbe2d5"/>
<line x1="419.4" y1="525.2" x2="421.4" y2="525.2" stroke="#555" stroke-width="0.5"/>
<text x="417.6" y="527.2" font-size="5.9" text-anchor="end" font-style="italic" fill="#333">CXCR4</text>
<circle cx="427.1" cy="525.2" r="2.3" fill="#f5a886"/>
<circle cx="436.2" cy="525.2" r="1.3" fill="#f9c6ad"/>
<circle cx="445.2" cy="525.2" r="1.3" fill="#f9c6ad"/>
<circle cx="454.3" cy="525.2" r="1.1" fill="#f9c6ad"/>
<circle cx="463.4" cy="525.2" r="0.5" fill="#a9cce4"/>
<circle cx="472.5" cy="525.2" r="2.5" fill="#ec8a60"/>
<circle cx="481.6" cy="525.2" r="2.3" fill="#f5a886"/>
<circle cx="490.6" cy="525.2" r="2.3" fill="#ec8a60"/>
<circle cx="499.7" cy="525.2" r="2" fill="#c9412f"/>
<circle cx="508.8" cy="525.2" r="0.5" fill="#6fa6d4"/>
<circle cx="517.9" cy="525.2" r="2.5" fill="#f5a886"/>
<circle cx="526.9" cy="525.2" r="0.6" fill="#6fa6d4"/>
<circle cx="536" cy="525.2" r="2.5" fill="#f5a886"/>
<circle cx="545.1" cy="525.2" r="0.5" fill="#fbe2d5"/>
<circle cx="554.1" cy="525.2" r="0.5" fill="#6fa6d4"/>
<circle cx="563.2" cy="525.2" r="0.5" fill="#6fa6d4"/>
<circle cx="572.3" cy="525.2" r="1.8" fill="#fbe2d5"/>
<circle cx="581.4" cy="525.2" r="0.8" fill="#e2eaf1"/>
<circle cx="590.5" cy="525.2" r="0.5" fill="#6fa6d4"/>
<circle cx="599.5" cy="525.2" r="0.5" fill="#6fa6d4"/>
<circle cx="608.6" cy="525.2" r="0.5" fill="#6fa6d4"/>
<line x1="419.4" y1="531.7" x2="421.4" y2="531.7" stroke="#555" stroke-width="0.5"/>
<text x="417.6" y="533.7" font-size="5.9" text-anchor="end" font-style="italic" fill="#333">DUSP4</text>
<circle cx="427.1" cy="531.7" r="0.3" fill="#f4efed"/>
<circle cx="436.2" cy="531.7" r="0.3" fill="#f4efed"/>
<circle cx="445.2" cy="531.7" r="0.3" fill="#f4efed"/>
<circle cx="454.3" cy="531.7" r="0.3" fill="#f4efed"/>
<circle cx="463.4" cy="531.7" r="0.3" fill="#f4efed"/>
<circle cx="472.5" cy="531.7" r="1.8" fill="#b01a2a"/>
<circle cx="481.6" cy="531.7" r="1.2" fill="#c9412f"/>
<circle cx="490.6" cy="531.7" r="1" fill="#c9412f"/>
<circle cx="499.7" cy="531.7" r="0.8" fill="#c9412f"/>
<circle cx="508.8" cy="531.7" r="0.3" fill="#f4efed"/>
<circle cx="517.9" cy="531.7" r="0.3" fill="#f4efed"/>
<circle cx="526.9" cy="531.7" r="0.3" fill="#f4efed"/>
<circle cx="536" cy="531.7" r="0.3" fill="#f4efed"/>
<circle cx="545.1" cy="531.7" r="0.3" fill="#f4efed"/>
<circle cx="554.1" cy="531.7" r="0.3" fill="#f4efed"/>
<circle cx="563.2" cy="531.7" r="0.3" fill="#f4efed"/>
<circle cx="572.3" cy="531.7" r="0.3" fill="#f4efed"/>
<circle cx="581.4" cy="531.7" r="0.3" fill="#f4efed"/>
<circle cx="590.5" cy="531.7" r="0.3" fill="#f4efed"/>
<circle cx="599.5" cy="531.7" r="0.3" fill="#f4efed"/>
<circle cx="608.6" cy="531.7" r="0.3" fill="#f4efed"/>
<line x1="419.4" y1="538.3" x2="421.4" y2="538.3" stroke="#555" stroke-width="0.5"/>
<text x="417.6" y="540.3" font-size="5.9" text-anchor="end" font-style="italic" fill="#333">GZMK</text>
<circle cx="427.1" cy="538.3" r="0.3" fill="#e2eaf1"/>
<circle cx="436.2" cy="538.3" r="0.3" fill="#e2eaf1"/>
<circle cx="445.2" cy="538.3" r="0.3" fill="#e2eaf1"/>
<circle cx="454.3" cy="538.3" r="0.3" fill="#e2eaf1"/>
<circle cx="463.4" cy="538.3" r="0.3" fill="#e2eaf1"/>
<circle cx="472.5" cy="538.3" r="1.8" fill="#ec8a60"/>
<circle cx="481.6" cy="538.3" r="1.8" fill="#ec8a60"/>
<circle cx="490.6" cy="538.3" r="1.5" fill="#ec8a60"/>
<circle cx="499.7" cy="538.3" r="2.5" fill="#b01a2a"/>
<circle cx="508.8" cy="538.3" r="0.3" fill="#e2eaf1"/>
<circle cx="517.9" cy="538.3" r="0.3" fill="#e2eaf1"/>
<circle cx="526.9" cy="538.3" r="0.3" fill="#e2eaf1"/>
<circle cx="536" cy="538.3" r="0.3" fill="#e2eaf1"/>
<circle cx="545.1" cy="538.3" r="0.3" fill="#e2eaf1"/>
<circle cx="554.1" cy="538.3" r="0.3" fill="#e2eaf1"/>
<circle cx="563.2" cy="538.3" r="0.3" fill="#e2eaf1"/>
<circle cx="572.3" cy="538.3" r="2.4" fill="#ec8a60"/>
<circle cx="581.4" cy="538.3" r="1.2" fill="#f5a886"/>
<circle cx="590.5" cy="538.3" r="2.4" fill="#de6a48"/>
<circle cx="599.5" cy="538.3" r="1.5" fill="#f5a886"/>
<circle cx="608.6" cy="538.3" r="0.3" fill="#e2eaf1"/>
<line x1="419.4" y1="544.8" x2="421.4" y2="544.8" stroke="#555" stroke-width="0.5"/>
<text x="417.6" y="546.8" font-size="5.9" text-anchor="end" font-style="italic" fill="#333">IL7R</text>
<circle cx="427.1" cy="544.8" r="0.3" fill="#f4efed"/>
<circle cx="436.2" cy="544.8" r="0.3" fill="#f4efed"/>
<circle cx="445.2" cy="544.8" r="0.3" fill="#f4efed"/>
<circle cx="454.3" cy="544.8" r="0.3" fill="#f4efed"/>
<circle cx="463.4" cy="544.8" r="0.3" fill="#f4efed"/>
<circle cx="472.5" cy="544.8" r="1.3" fill="#ec8a60"/>
<circle cx="481.6" cy="544.8" r="2" fill="#de6a48"/>
<circle cx="490.6" cy="544.8" r="0.8" fill="#f9c6ad"/>
<circle cx="499.7" cy="544.8" r="2.5" fill="#b01a2a"/>
<circle cx="508.8" cy="544.8" r="0.3" fill="#f4efed"/>
<circle cx="517.9" cy="544.8" r="0.3" fill="#f4efed"/>
<circle cx="526.9" cy="544.8" r="0.3" fill="#f4efed"/>
<circle cx="536" cy="544.8" r="0.3" fill="#f4efed"/>
<circle cx="545.1" cy="544.8" r="0.3" fill="#f4efed"/>
<circle cx="554.1" cy="544.8" r="0.3" fill="#f4efed"/>
<circle cx="563.2" cy="544.8" r="0.3" fill="#f4efed"/>
<circle cx="572.3" cy="544.8" r="1.8" fill="#ec8a60"/>
<circle cx="581.4" cy="544.8" r="0.5" fill="#fbe2d5"/>
<circle cx="590.5" cy="544.8" r="1.7" fill="#ec8a60"/>
<circle cx="599.5" cy="544.8" r="0.3" fill="#f4efed"/>
<circle cx="608.6" cy="544.8" r="0.5" fill="#fbe2d5"/>
<line x1="419.4" y1="551.3" x2="421.4" y2="551.3" stroke="#555" stroke-width="0.5"/>
<text x="417.6" y="553.3" font-size="5.9" text-anchor="end" font-style="italic" fill="#333">LMNA</text>
<circle cx="427.1" cy="551.3" r="1" fill="#ec8a60"/>
<circle cx="436.2" cy="551.3" r="0.8" fill="#f5a886"/>
<circle cx="445.2" cy="551.3" r="0.5" fill="#fbe2d5"/>
<circle cx="454.3" cy="551.3" r="0.3" fill="#f4efed"/>
<circle cx="463.4" cy="551.3" r="0.3" fill="#f4efed"/>
<circle cx="472.5" cy="551.3" r="1.7" fill="#b01a2a"/>
<circle cx="481.6" cy="551.3" r="0.8" fill="#de6a48"/>
<circle cx="490.6" cy="551.3" r="0.5" fill="#f9c6ad"/>
<circle cx="499.7" cy="551.3" r="0.8" fill="#c9412f"/>
<circle cx="508.8" cy="551.3" r="0.3" fill="#f4efed"/>
<circle cx="517.9" cy="551.3" r="0.3" fill="#f4efed"/>
<circle cx="526.9" cy="551.3" r="0.3" fill="#f4efed"/>
<circle cx="536" cy="551.3" r="0.3" fill="#f4efed"/>
<circle cx="545.1" cy="551.3" r="0.3" fill="#f4efed"/>
<circle cx="554.1" cy="551.3" r="0.3" fill="#f4efed"/>
<circle cx="563.2" cy="551.3" r="0.3" fill="#f4efed"/>
<circle cx="572.3" cy="551.3" r="0.3" fill="#f4efed"/>
<circle cx="581.4" cy="551.3" r="0.3" fill="#f4efed"/>
<circle cx="590.5" cy="551.3" r="0.3" fill="#f4efed"/>
<circle cx="599.5" cy="551.3" r="0.3" fill="#f4efed"/>
<circle cx="608.6" cy="551.3" r="0.3" fill="#f4efed"/>
<line x1="419.4" y1="557.9" x2="421.4" y2="557.9" stroke="#555" stroke-width="0.5"/>
<text x="417.6" y="559.9" font-size="5.9" text-anchor="end" font-style="italic" fill="#333">SELL</text>
<circle cx="427.1" cy="557.9" r="0.6" fill="#a9cce4"/>
<circle cx="436.2" cy="557.9" r="0.6" fill="#a9cce4"/>
<circle cx="445.2" cy="557.9" r="0.3" fill="#f4efed"/>
<circle cx="454.3" cy="557.9" r="0.3" fill="#f4efed"/>
<circle cx="463.4" cy="557.9" r="0.6" fill="#6fa6d4"/>
<circle cx="472.5" cy="557.9" r="1.1" fill="#f9c6ad"/>
<circle cx="481.6" cy="557.9" r="2" fill="#ec8a60"/>
<circle cx="490.6" cy="557.9" r="0.3" fill="#f4efed"/>
<circle cx="499.7" cy="557.9" r="2.3" fill="#b01a2a"/>
<circle cx="508.8" cy="557.9" r="0.6" fill="#a9cce4"/>
<circle cx="517.9" cy="557.9" r="0.6" fill="#a9cce4"/>
<circle cx="526.9" cy="557.9" r="0.8" fill="#e2eaf1"/>
<circle cx="536" cy="557.9" r="0.7" fill="#fbe2d5"/>
<circle cx="545.1" cy="557.9" r="0.3" fill="#e2eaf1"/>
<circle cx="554.1" cy="557.9" r="0.3" fill="#e2eaf1"/>
<circle cx="563.2" cy="557.9" r="0.3" fill="#e2eaf1"/>
<circle cx="572.3" cy="557.9" r="2.5" fill="#de6a48"/>
<circle cx="581.4" cy="557.9" r="0.8" fill="#f9c6ad"/>
<circle cx="590.5" cy="557.9" r="2.5" fill="#b01a2a"/>
<circle cx="599.5" cy="557.9" r="1.8" fill="#f5a886"/>
<circle cx="608.6" cy="557.9" r="0.6" fill="#fbe2d5"/>
<line x1="419.4" y1="564.4" x2="421.4" y2="564.4" stroke="#555" stroke-width="0.5"/>
<text x="417.6" y="566.4" font-size="5.9" text-anchor="end" font-style="italic" fill="#333">XCL1</text>
<circle cx="427.1" cy="564.4" r="0.6" fill="#e2eaf1"/>
<circle cx="436.2" cy="564.4" r="0.3" fill="#f4efed"/>
<circle cx="445.2" cy="564.4" r="0.3" fill="#f4efed"/>
<circle cx="454.3" cy="564.4" r="0.4" fill="#e2eaf1"/>
<circle cx="463.4" cy="564.4" r="0.4" fill="#e2eaf1"/>
<circle cx="472.5" cy="564.4" r="2.1" fill="#ec8a60"/>
<circle cx="481.6" cy="564.4" r="2.4" fill="#de6a48"/>
<circle cx="490.6" cy="564.4" r="1.8" fill="#ec8a60"/>
<circle cx="499.7" cy="564.4" r="2.5" fill="#b01a2a"/>
<circle cx="508.8" cy="564.4" r="0.6" fill="#a9cce4"/>
<circle cx="517.9" cy="564.4" r="0.6" fill="#a9cce4"/>
<circle cx="526.9" cy="564.4" r="0.6" fill="#a9cce4"/>
<circle cx="536" cy="564.4" r="0.5" fill="#a9cce4"/>
<circle cx="545.1" cy="564.4" r="0.3" fill="#e2eaf1"/>
<circle cx="554.1" cy="564.4" r="0.3" fill="#e2eaf1"/>
<circle cx="563.2" cy="564.4" r="0.3" fill="#e2eaf1"/>
<circle cx="572.3" cy="564.4" r="2.4" fill="#f5a886"/>
<circle cx="581.4" cy="564.4" r="1.3" fill="#f9c6ad"/>
<circle cx="590.5" cy="564.4" r="2.4" fill="#de6a48"/>
<circle cx="599.5" cy="564.4" r="1.5" fill="#f9c6ad"/>
<circle cx="608.6" cy="564.4" r="0.3" fill="#f4efed"/>
<line x1="419.4" y1="570.9" x2="421.4" y2="570.9" stroke="#555" stroke-width="0.5"/>
<text x="417.6" y="572.9" font-size="5.9" text-anchor="end" font-style="italic" fill="#333">CD247</text>
<circle cx="427.1" cy="570.9" r="2.5" fill="#f9c6ad"/>
<circle cx="436.2" cy="570.9" r="2.4" fill="#f9c6ad"/>
<circle cx="445.2" cy="570.9" r="2.3" fill="#f9c6ad"/>
<circle cx="454.3" cy="570.9" r="2.4" fill="#ec8a60"/>
<circle cx="463.4" cy="570.9" r="2.5" fill="#f9c6ad"/>
<circle cx="472.5" cy="570.9" r="1.5" fill="#6fa6d4"/>
<circle cx="481.6" cy="570.9" r="1.4" fill="#6fa6d4"/>
<circle cx="490.6" cy="570.9" r="1.3" fill="#e2eaf1"/>
<circle cx="499.7" cy="570.9" r="1" fill="#2a6db0"/>
<circle cx="508.8" cy="570.9" r="2.5" fill="#f5a886"/>
<circle cx="517.9" cy="570.9" r="2.4" fill="#f9c6ad"/>
<circle cx="526.9" cy="570.9" r="2.2" fill="#e2eaf1"/>
<circle cx="536" cy="570.9" r="2.5" fill="#f9c6ad"/>
<circle cx="545.1" cy="570.9" r="2.3" fill="#ec8a60"/>
<circle cx="554.1" cy="570.9" r="2.5" fill="#f9c6ad"/>
<circle cx="563.2" cy="570.9" r="2.5" fill="#f9c6ad"/>
<circle cx="572.3" cy="570.9" r="1.8" fill="#a9cce4"/>
<circle cx="581.4" cy="570.9" r="1.7" fill="#fbe2d5"/>
<circle cx="590.5" cy="570.9" r="1.5" fill="#a9cce4"/>
<circle cx="599.5" cy="570.9" r="2.1" fill="#fbe2d5"/>
<circle cx="608.6" cy="570.9" r="1.7" fill="#f9c6ad"/>
<line x1="419.4" y1="577.4" x2="421.4" y2="577.4" stroke="#555" stroke-width="0.5"/>
<text x="417.6" y="579.4" font-size="5.9" text-anchor="end" font-style="italic" fill="#333">CST7</text>
<circle cx="427.1" cy="577.4" r="2.5" fill="#fbe2d5"/>
<circle cx="436.2" cy="577.4" r="2.6" fill="#f9c6ad"/>
<circle cx="445.2" cy="577.4" r="2.5" fill="#f5a886"/>
<circle cx="454.3" cy="577.4" r="2.5" fill="#f5a886"/>
<circle cx="463.4" cy="577.4" r="2.6" fill="#f5a886"/>
<circle cx="472.5" cy="577.4" r="2.3" fill="#a9cce4"/>
<circle cx="481.6" cy="577.4" r="2.3" fill="#a9cce4"/>
<circle cx="490.6" cy="577.4" r="2" fill="#e2eaf1"/>
<circle cx="499.7" cy="577.4" r="1.5" fill="#6fa6d4"/>
<circle cx="508.8" cy="577.4" r="2.6" fill="#f5a886"/>
<circle cx="517.9" cy="577.4" r="2.4" fill="#e2eaf1"/>
<circle cx="526.9" cy="577.4" r="2.6" fill="#a9cce4"/>
<circle cx="536" cy="577.4" r="2.5" fill="#e2eaf1"/>
<circle cx="545.1" cy="577.4" r="2.6" fill="#c9412f"/>
<circle cx="554.1" cy="577.4" r="2.6" fill="#f9c6ad"/>
<circle cx="563.2" cy="577.4" r="2.6" fill="#f9c6ad"/>
<circle cx="572.3" cy="577.4" r="2.4" fill="#a9cce4"/>
<circle cx="581.4" cy="577.4" r="2.5" fill="#de6a48"/>
<circle cx="590.5" cy="577.4" r="2.3" fill="#e2eaf1"/>
<circle cx="599.5" cy="577.4" r="2.3" fill="#fbe2d5"/>
<circle cx="608.6" cy="577.4" r="1.5" fill="#a9cce4"/>
<line x1="419.4" y1="584" x2="421.4" y2="584" stroke="#555" stroke-width="0.5"/>
<text x="417.6" y="586" font-size="5.9" text-anchor="end" font-style="italic" fill="#333">CYBA</text>
<circle cx="427.1" cy="584" r="2.5" fill="#fbe2d5"/>
<circle cx="436.2" cy="584" r="2.5" fill="#fbe2d5"/>
<circle cx="445.2" cy="584" r="2.3" fill="#f9c6ad"/>
<circle cx="454.3" cy="584" r="2.7" fill="#ec8a60"/>
<circle cx="463.4" cy="584" r="2.5" fill="#fbe2d5"/>
<circle cx="472.5" cy="584" r="2" fill="#a9cce4"/>
<circle cx="481.6" cy="584" r="2" fill="#a9cce4"/>
<circle cx="490.6" cy="584" r="1.7" fill="#a9cce4"/>
<circle cx="499.7" cy="584" r="1.4" fill="#6fa6d4"/>
<circle cx="508.8" cy="584" r="2.5" fill="#f5a886"/>
<circle cx="517.9" cy="584" r="2.3" fill="#e2eaf1"/>
<circle cx="526.9" cy="584" r="2.3" fill="#e2eaf1"/>
<circle cx="536" cy="584" r="2.5" fill="#f9c6ad"/>
<circle cx="545.1" cy="584" r="2.6" fill="#ec8a60"/>
<circle cx="554.1" cy="584" r="2.5" fill="#f9c6ad"/>
<circle cx="563.2" cy="584" r="2.6" fill="#f9c6ad"/>
<circle cx="572.3" cy="584" r="2.3" fill="#e2eaf1"/>
<circle cx="581.4" cy="584" r="2.4" fill="#ec8a60"/>
<circle cx="590.5" cy="584" r="2.4" fill="#fbe2d5"/>
<circle cx="599.5" cy="584" r="2.5" fill="#f9c6ad"/>
<circle cx="608.6" cy="584" r="2.2" fill="#f9c6ad"/>
<line x1="419.4" y1="590.5" x2="421.4" y2="590.5" stroke="#555" stroke-width="0.5"/>
<text x="417.6" y="592.5" font-size="5.9" text-anchor="end" font-style="italic" fill="#333">FCGR3A</text>
<circle cx="427.1" cy="590.5" r="2.5" fill="#f5a886"/>
<circle cx="436.2" cy="590.5" r="2.3" fill="#f5a886"/>
<circle cx="445.2" cy="590.5" r="2.3" fill="#f5a886"/>
<circle cx="454.3" cy="590.5" r="2.6" fill="#ec8a60"/>
<circle cx="463.4" cy="590.5" r="2.6" fill="#f5a886"/>
<circle cx="472.5" cy="590.5" r="0.7" fill="#6fa6d4"/>
<circle cx="481.6" cy="590.5" r="0.6" fill="#6fa6d4"/>
<circle cx="490.6" cy="590.5" r="0.6" fill="#e2eaf1"/>
<circle cx="499.7" cy="590.5" r="0.6" fill="#6fa6d4"/>
<circle cx="508.8" cy="590.5" r="2.6" fill="#f5a886"/>
<circle cx="517.9" cy="590.5" r="2.3" fill="#f9c6ad"/>
<circle cx="526.9" cy="590.5" r="2.3" fill="#fbe2d5"/>
<circle cx="536" cy="590.5" r="2.5" fill="#f9c6ad"/>
<circle cx="545.1" cy="590.5" r="2.3" fill="#ec8a60"/>
<circle cx="554.1" cy="590.5" r="2.5" fill="#f9c6ad"/>
<circle cx="563.2" cy="590.5" r="2.5" fill="#f9c6ad"/>
<circle cx="572.3" cy="590.5" r="0.8" fill="#6fa6d4"/>
<circle cx="581.4" cy="590.5" r="0.6" fill="#fbe2d5"/>
<circle cx="590.5" cy="590.5" r="0.7" fill="#6fa6d4"/>
<circle cx="599.5" cy="590.5" r="1.8" fill="#fbe2d5"/>
<circle cx="608.6" cy="590.5" r="1" fill="#fbe2d5"/>
<line x1="419.4" y1="597" x2="421.4" y2="597" stroke="#555" stroke-width="0.5"/>
<text x="417.6" y="599" font-size="5.9" text-anchor="end" font-style="italic" fill="#333">FGFBP2</text>
<circle cx="427.1" cy="597" r="2.5" fill="#f5a886"/>
<circle cx="436.2" cy="597" r="2" fill="#f9c6ad"/>
<circle cx="445.2" cy="597" r="2.3" fill="#f5a886"/>
<circle cx="454.3" cy="597" r="2.7" fill="#ec8a60"/>
<circle cx="463.4" cy="597" r="2.5" fill="#f5a886"/>
<circle cx="472.5" cy="597" r="0.4" fill="#6fa6d4"/>
<circle cx="481.6" cy="597" r="0.4" fill="#6fa6d4"/>
<circle cx="490.6" cy="597" r="0.4" fill="#6fa6d4"/>
<circle cx="499.7" cy="597" r="0.4" fill="#6fa6d4"/>
<circle cx="508.8" cy="597" r="2.5" fill="#f5a886"/>
<circle cx="517.9" cy="597" r="2.4" fill="#f9c6ad"/>
<circle cx="526.9" cy="597" r="2.2" fill="#fbe2d5"/>
<circle cx="536" cy="597" r="2.4" fill="#f9c6ad"/>
<circle cx="545.1" cy="597" r="2.5" fill="#ec8a60"/>
<circle cx="554.1" cy="597" r="2.5" fill="#f5a886"/>
<circle cx="563.2" cy="597" r="2.5" fill="#f5a886"/>
<circle cx="572.3" cy="597" r="0.5" fill="#6fa6d4"/>
<circle cx="581.4" cy="597" r="0.4" fill="#fbe2d5"/>
<circle cx="590.5" cy="597" r="0.5" fill="#6fa6d4"/>
<circle cx="599.5" cy="597" r="1.3" fill="#fbe2d5"/>
<circle cx="608.6" cy="597" r="0.7" fill="#fbe2d5"/>
<line x1="419.4" y1="603.6" x2="421.4" y2="603.6" stroke="#555" stroke-width="0.5"/>
<text x="417.6" y="605.6" font-size="5.9" text-anchor="end" font-style="italic" fill="#333">GZMH</text>
<circle cx="427.1" cy="603.6" r="2.1" fill="#f9c6ad"/>
<circle cx="436.2" cy="603.6" r="1.8" fill="#f9c6ad"/>
<circle cx="445.2" cy="603.6" r="1.9" fill="#f9c6ad"/>
<circle cx="454.3" cy="603.6" r="2.1" fill="#f5a886"/>
<circle cx="463.4" cy="603.6" r="2.1" fill="#fbe2d5"/>
<circle cx="472.5" cy="603.6" r="0.5" fill="#6fa6d4"/>
<circle cx="481.6" cy="603.6" r="0.6" fill="#6fa6d4"/>
<circle cx="490.6" cy="603.6" r="0.5" fill="#e2eaf1"/>
<circle cx="499.7" cy="603.6" r="0.5" fill="#6fa6d4"/>
<circle cx="508.8" cy="603.6" r="3" fill="#de6a48"/>
<circle cx="517.9" cy="603.6" r="1.8" fill="#fbe2d5"/>
<circle cx="526.9" cy="603.6" r="2.3" fill="#fbe2d5"/>
<circle cx="536" cy="603.6" r="1.8" fill="#fbe2d5"/>
<circle cx="545.1" cy="603.6" r="2" fill="#ec8a60"/>
<circle cx="554.1" cy="603.6" r="2.2" fill="#f9c6ad"/>
<circle cx="563.2" cy="603.6" r="2.5" fill="#f5a886"/>
<circle cx="572.3" cy="603.6" r="0.6" fill="#6fa6d4"/>
<circle cx="581.4" cy="603.6" r="0.8" fill="#fbe2d5"/>
<circle cx="590.5" cy="603.6" r="0.6" fill="#6fa6d4"/>
<circle cx="599.5" cy="603.6" r="2.3" fill="#f5a886"/>
<circle cx="608.6" cy="603.6" r="1.3" fill="#f9c6ad"/>
<line x1="419.4" y1="610.1" x2="421.4" y2="610.1" stroke="#555" stroke-width="0.5"/>
<text x="417.6" y="612.1" font-size="5.9" text-anchor="end" font-style="italic" fill="#333">GZMM</text>
<circle cx="427.1" cy="610.1" r="2.1" fill="#f9c6ad"/>
<circle cx="436.2" cy="610.1" r="1.9" fill="#fbe2d5"/>
<circle cx="445.2" cy="610.1" r="2" fill="#f9c6ad"/>
<circle cx="454.3" cy="610.1" r="2" fill="#f5a886"/>
<circle cx="463.4" cy="610.1" r="2.3" fill="#f9c6ad"/>
<circle cx="472.5" cy="610.1" r="1.3" fill="#a9cce4"/>
<circle cx="481.6" cy="610.1" r="1" fill="#6fa6d4"/>
<circle cx="490.6" cy="610.1" r="1.2" fill="#e2eaf1"/>
<circle cx="499.7" cy="610.1" r="0.6" fill="#6fa6d4"/>
<circle cx="508.8" cy="610.1" r="2.3" fill="#f9c6ad"/>
<circle cx="517.9" cy="610.1" r="2.5" fill="#f5a886"/>
<circle cx="526.9" cy="610.1" r="2.3" fill="#e2eaf1"/>
<circle cx="536" cy="610.1" r="2.5" fill="#f9c6ad"/>
<circle cx="545.1" cy="610.1" r="2.1" fill="#ec8a60"/>
<circle cx="554.1" cy="610.1" r="2.3" fill="#f9c6ad"/>
<circle cx="563.2" cy="610.1" r="2.3" fill="#f9c6ad"/>
<circle cx="572.3" cy="610.1" r="1.8" fill="#e2eaf1"/>
<circle cx="581.4" cy="610.1" r="1.8" fill="#ec8a60"/>
<circle cx="590.5" cy="610.1" r="1.5" fill="#e2eaf1"/>
<circle cx="599.5" cy="610.1" r="1.8" fill="#fbe2d5"/>
<circle cx="608.6" cy="610.1" r="1.2" fill="#fbe2d5"/>
<line x1="419.4" y1="616.6" x2="421.4" y2="616.6" stroke="#555" stroke-width="0.5"/>
<text x="417.6" y="618.6" font-size="5.9" text-anchor="end" font-style="italic" fill="#333">PFN1</text>
<circle cx="427.1" cy="616.6" r="2.5" fill="#e2eaf1"/>
<circle cx="436.2" cy="616.6" r="2.5" fill="#fbe2d5"/>
<circle cx="445.2" cy="616.6" r="2.7" fill="#f9c6ad"/>
<circle cx="454.3" cy="616.6" r="2.8" fill="#f5a886"/>
<circle cx="463.4" cy="616.6" r="2.6" fill="#f9c6ad"/>
<circle cx="472.5" cy="616.6" r="2.6" fill="#a9cce4"/>
<circle cx="481.6" cy="616.6" r="2.3" fill="#e2eaf1"/>
<circle cx="490.6" cy="616.6" r="2.1" fill="#fbe2d5"/>
<circle cx="499.7" cy="616.6" r="1.5" fill="#2a6db0"/>
<circle cx="508.8" cy="616.6" r="2.5" fill="#f9c6ad"/>
<circle cx="517.9" cy="616.6" r="2.5" fill="#a9cce4"/>
<circle cx="526.9" cy="616.6" r="2.6" fill="#e2eaf1"/>
<circle cx="536" cy="616.6" r="2.4" fill="#e2eaf1"/>
<circle cx="545.1" cy="616.6" r="2.8" fill="#de6a48"/>
<circle cx="554.1" cy="616.6" r="2.6" fill="#fbe2d5"/>
<circle cx="563.2" cy="616.6" r="2.6" fill="#fbe2d5"/>
<circle cx="572.3" cy="616.6" r="2.4" fill="#e2eaf1"/>
<circle cx="581.4" cy="616.6" r="2.8" fill="#c9412f"/>
<circle cx="590.5" cy="616.6" r="2.5" fill="#f9c6ad"/>
<circle cx="599.5" cy="616.6" r="2.4" fill="#fbe2d5"/>
<circle cx="608.6" cy="616.6" r="2.2" fill="#fbe2d5"/>
<line x1="419.4" y1="623.1" x2="421.4" y2="623.1" stroke="#555" stroke-width="0.5"/>
<text x="417.6" y="625.1" font-size="5.9" text-anchor="end" font-style="italic" fill="#333">PRF1</text>
<circle cx="427.1" cy="623.1" r="2.7" fill="#f5a886"/>
<circle cx="436.2" cy="623.1" r="2.5" fill="#f9c6ad"/>
<circle cx="445.2" cy="623.1" r="2.8" fill="#f5a886"/>
<circle cx="454.3" cy="623.1" r="3" fill="#de6a48"/>
<circle cx="463.4" cy="623.1" r="2.8" fill="#f5a886"/>
<circle cx="472.5" cy="623.1" r="1.6" fill="#6fa6d4"/>
<circle cx="481.6" cy="623.1" r="1.7" fill="#a9cce4"/>
<circle cx="490.6" cy="623.1" r="1.5" fill="#a9cce4"/>
<circle cx="499.7" cy="623.1" r="1.2" fill="#6fa6d4"/>
<circle cx="508.8" cy="623.1" r="2.3" fill="#f9c6ad"/>
<circle cx="517.9" cy="623.1" r="2.5" fill="#fbe2d5"/>
<circle cx="526.9" cy="623.1" r="2.5" fill="#e2eaf1"/>
<circle cx="536" cy="623.1" r="2.5" fill="#f9c6ad"/>
<circle cx="545.1" cy="623.1" r="2.7" fill="#ec8a60"/>
<circle cx="554.1" cy="623.1" r="2.6" fill="#f9c6ad"/>
<circle cx="563.2" cy="623.1" r="2.6" fill="#f9c6ad"/>
<circle cx="572.3" cy="623.1" r="2.3" fill="#a9cce4"/>
<circle cx="581.4" cy="623.1" r="1.7" fill="#e2eaf1"/>
<circle cx="590.5" cy="623.1" r="1.9" fill="#e2eaf1"/>
<circle cx="599.5" cy="623.1" r="1.9" fill="#fbe2d5"/>
<circle cx="608.6" cy="623.1" r="2" fill="#f9c6ad"/>
<line x1="419.4" y1="629.7" x2="421.4" y2="629.7" stroke="#555" stroke-width="0.5"/>
<text x="417.6" y="631.7" font-size="5.9" text-anchor="end" font-style="italic" fill="#333">SPON2</text>
<circle cx="427.1" cy="629.7" r="2.5" fill="#f5a886"/>
<circle cx="436.2" cy="629.7" r="2.3" fill="#f5a886"/>
<circle cx="445.2" cy="629.7" r="2.3" fill="#f5a886"/>
<circle cx="454.3" cy="629.7" r="2.5" fill="#f5a886"/>
<circle cx="463.4" cy="629.7" r="2.6" fill="#f5a886"/>
<circle cx="472.5" cy="629.7" r="0.4" fill="#6fa6d4"/>
<circle cx="481.6" cy="629.7" r="0.4" fill="#6fa6d4"/>
<circle cx="490.6" cy="629.7" r="0.4" fill="#6fa6d4"/>
<circle cx="499.7" cy="629.7" r="0.4" fill="#6fa6d4"/>
<circle cx="508.8" cy="629.7" r="1.8" fill="#fbe2d5"/>
<circle cx="517.9" cy="629.7" r="2.7" fill="#f5a886"/>
<circle cx="526.9" cy="629.7" r="2.3" fill="#f9c6ad"/>
<circle cx="536" cy="629.7" r="2.4" fill="#f9c6ad"/>
<circle cx="545.1" cy="629.7" r="2.4" fill="#ec8a60"/>
<circle cx="554.1" cy="629.7" r="2.5" fill="#f5a886"/>
<circle cx="563.2" cy="629.7" r="2.5" fill="#f5a886"/>
<circle cx="572.3" cy="629.7" r="0.5" fill="#6fa6d4"/>
<circle cx="581.4" cy="629.7" r="0.4" fill="#fbe2d5"/>
<circle cx="590.5" cy="629.7" r="0.5" fill="#6fa6d4"/>
<circle cx="599.5" cy="629.7" r="0.8" fill="#fbe2d5"/>
<circle cx="608.6" cy="629.7" r="0.6" fill="#fbe2d5"/>
<line x1="427.1" y1="634.2" x2="427.1" y2="636.2" stroke="#555" stroke-width="0.5"/>
<text x="429.2" y="639.6" font-size="6.1" text-anchor="end" fill="#333" transform="rotate(-90 429.2 639.6)">DiHi-c7-NR4A3</text>
<line x1="436.2" y1="634.2" x2="436.2" y2="636.2" stroke="#555" stroke-width="0.5"/>
<text x="438.3" y="639.6" font-size="6.1" text-anchor="end" fill="#333" transform="rotate(-90 438.3 639.6)">DiHi-c6-DNAJB1</text>
<line x1="445.2" y1="634.2" x2="445.2" y2="636.2" stroke="#555" stroke-width="0.5"/>
<text x="447.4" y="639.6" font-size="6.1" text-anchor="end" fill="#333" transform="rotate(-90 447.4 639.6)">DiHi-c4-NFKBIA</text>
<line x1="454.3" y1="634.2" x2="454.3" y2="636.2" stroke="#555" stroke-width="0.5"/>
<text x="456.4" y="639.6" font-size="6.1" text-anchor="end" fill="#333" transform="rotate(-90 456.4 639.6)">DiHi-c3-ZNF90</text>
<line x1="463.4" y1="634.2" x2="463.4" y2="636.2" stroke="#555" stroke-width="0.5"/>
<text x="465.5" y="639.6" font-size="6.1" text-anchor="end" fill="#333" transform="rotate(-90 465.5 639.6)">DiHi-c2-CX3CR1</text>
<line x1="472.5" y1="634.2" x2="472.5" y2="636.2" stroke="#555" stroke-width="0.5"/>
<text x="474.6" y="639.6" font-size="6.1" text-anchor="end" fill="#333" transform="rotate(-90 474.6 639.6)">BrLo-c5-CREM</text>
<line x1="481.6" y1="634.2" x2="481.6" y2="636.2" stroke="#555" stroke-width="0.5"/>
<text x="483.7" y="639.6" font-size="6.1" text-anchor="end" fill="#333" transform="rotate(-90 483.7 639.6)">BrLo-c4-IL7R</text>
<line x1="490.6" y1="634.2" x2="490.6" y2="636.2" stroke="#555" stroke-width="0.5"/>
<text x="492.7" y="639.6" font-size="6.1" text-anchor="end" fill="#333" transform="rotate(-90 492.7 639.6)">BrLo-c3-CCL3</text>
<line x1="499.7" y1="634.2" x2="499.7" y2="636.2" stroke="#555" stroke-width="0.5"/>
<text x="501.8" y="639.6" font-size="6.1" text-anchor="end" fill="#333" transform="rotate(-90 501.8 639.6)">BrLo-c2-IL7R-RGS1<tspan font-size="3.6" dy="-2">hi</tspan></text>
<line x1="508.8" y1="634.2" x2="508.8" y2="636.2" stroke="#555" stroke-width="0.5"/>
<text x="510.9" y="639.6" font-size="6.1" text-anchor="end" fill="#333" transform="rotate(-90 510.9 639.6)">DiHi-c8-KLRC2</text>
<line x1="517.9" y1="634.2" x2="517.9" y2="636.2" stroke="#555" stroke-width="0.5"/>
<text x="520" y="639.6" font-size="6.1" text-anchor="end" fill="#333" transform="rotate(-90 520 639.6)">DiHi-c7-NR4A3</text>
<line x1="526.9" y1="634.2" x2="526.9" y2="636.2" stroke="#555" stroke-width="0.5"/>
<text x="529" y="639.6" font-size="6.1" text-anchor="end" fill="#333" transform="rotate(-90 529 639.6)">DiHi-c5-MKI67</text>
<line x1="536" y1="634.2" x2="536" y2="636.2" stroke="#555" stroke-width="0.5"/>
<text x="538.1" y="639.6" font-size="6.1" text-anchor="end" fill="#333" transform="rotate(-90 538.1 639.6)">DiHi-c4-NFKBIA</text>
<line x1="545.1" y1="634.2" x2="545.1" y2="636.2" stroke="#555" stroke-width="0.5"/>
<text x="547.2" y="639.6" font-size="6.1" text-anchor="end" fill="#333" transform="rotate(-90 547.2 639.6)">DiHi-c3-ZNF90</text>
<line x1="554.1" y1="634.2" x2="554.1" y2="636.2" stroke="#555" stroke-width="0.5"/>
<text x="556.2" y="639.6" font-size="6.1" text-anchor="end" fill="#333" transform="rotate(-90 556.2 639.6)">DiHi-c2-CX3CR1</text>
<line x1="563.2" y1="634.2" x2="563.2" y2="636.2" stroke="#555" stroke-width="0.5"/>
<text x="565.3" y="639.6" font-size="6.1" text-anchor="end" fill="#333" transform="rotate(-90 565.3 639.6)">DiHi-c1-IL32</text>
<line x1="572.3" y1="634.2" x2="572.3" y2="636.2" stroke="#555" stroke-width="0.5"/>
<text x="574.4" y="639.6" font-size="6.1" text-anchor="end" fill="#333" transform="rotate(-90 574.4 639.6)">BrLo-c4-IL7R</text>
<line x1="581.4" y1="634.2" x2="581.4" y2="636.2" stroke="#555" stroke-width="0.5"/>
<text x="583.5" y="639.6" font-size="6.1" text-anchor="end" fill="#333" transform="rotate(-90 583.5 639.6)">BrLo-c3-CCL3</text>
<line x1="590.5" y1="634.2" x2="590.5" y2="636.2" stroke="#555" stroke-width="0.5"/>
<text x="592.6" y="639.6" font-size="6.1" text-anchor="end" fill="#333" transform="rotate(-90 592.6 639.6)">BrLo-c2-IL7R-RGS1<tspan font-size="3.6" dy="-2">hi</tspan></text>
<line x1="599.5" y1="634.2" x2="599.5" y2="636.2" stroke="#555" stroke-width="0.5"/>
<text x="601.6" y="639.6" font-size="6.1" text-anchor="end" fill="#333" transform="rotate(-90 601.6 639.6)">BrLo-c1-GZMH</text>
<line x1="608.6" y1="634.2" x2="608.6" y2="636.2" stroke="#555" stroke-width="0.5"/>
<text x="610.7" y="639.6" font-size="6.1" text-anchor="end" fill="#333" transform="rotate(-90 610.7 639.6)">BrHi</text>
<line x1="388.5" y1="454" x2="388.5" y2="507.8" stroke="#777" stroke-width="0.7"/>
<line x1="388.3" y1="510.6" x2="388.3" y2="636.7" stroke="#777" stroke-width="0.7"/>
<text x="384.4" y="480.6" font-size="7.4" text-anchor="middle" stroke="#231f20" stroke-width="0.15" transform="rotate(-90 384.4 480.6)">Hits</text>
<text x="384.4" y="574.5" font-size="7.4" text-anchor="middle" stroke="#231f20" stroke-width="0.15" transform="rotate(-90 384.4 574.5)">GPR183 program</text>
<line x1="419.6" y1="704.2" x2="500.3" y2="704.2" stroke="#666" stroke-width="0.7"/>
<line x1="502.8" y1="704.2" x2="610.3" y2="704.2" stroke="#666" stroke-width="0.7"/>
<text x="472" y="712.9" font-size="8" text-anchor="middle" stroke="#231f20" stroke-width="0.15" textLength="24" lengthAdjust="spacingAndGlyphs">Tumor</text>
<text x="565.3" y="712.4" font-size="8" text-anchor="middle" stroke="#231f20" stroke-width="0.15" textLength="20.6" lengthAdjust="spacingAndGlyphs">Blood</text>
<text x="517.6" y="722.9" font-size="8" text-anchor="middle" stroke="#231f20" stroke-width="0.15" textLength="60" lengthAdjust="spacingAndGlyphs">NK cell subtypes</text>
<text x="619.6" y="496.7" font-size="7.4" stroke="#231f20" stroke-width="0.15" textLength="28.4" lengthAdjust="spacingAndGlyphs">Average</text>
<text x="619.6" y="505.6" font-size="7.4" stroke="#231f20" stroke-width="0.15" textLength="37.4" lengthAdjust="spacingAndGlyphs">expression</text>
<rect x="619.4" y="511" width="6" height="31" fill="url(#gg)"/>
<text x="628.3" y="513.6" font-size="6.0" fill="#333">2</text>
<text x="628.3" y="519.9" font-size="6.0" fill="#333">1</text>
<text x="628.3" y="526.3" font-size="6.0" fill="#333">0</text>
<text x="628.3" y="533" font-size="6.0" fill="#333">−1</text>
<text x="628.3" y="539.8" font-size="6.0" fill="#333">−2</text>
<text x="619.3" y="556.4" font-size="7.4" stroke="#231f20" stroke-width="0.15" textLength="65.5" lengthAdjust="spacingAndGlyphs">Percent expressed</text>
<circle cx="622.4" cy="562.8" r="0.35" fill="#111"/>
<text x="627.9" y="564.9" font-size="6.0" fill="#333">0</text>
<circle cx="622.4" cy="568.8" r="0.95" fill="#111"/>
<text x="627.9" y="570.9" font-size="6.0" fill="#333">25</text>
<circle cx="622.4" cy="574.7" r="1.45" fill="#111"/>
<text x="627.9" y="576.8" font-size="6.0" fill="#333">50</text>
<circle cx="622.4" cy="580.6" r="2" fill="#111"/>
<text x="627.9" y="582.7" font-size="6.0" fill="#333">75</text>
<circle cx="622.4" cy="587.2" r="2.6" fill="#111"/>
<text x="627.9" y="589.3" font-size="6.0" fill="#333">100</text>
<text x="377.6" y="739.4" font-size="12.5" font-weight="bold" fill="#000" stroke="#000" stroke-width="0.55">h</text>
<text x="395.6" y="739.4" font-size="9" stroke="#231f20" stroke-width="0.15" textLength="200" lengthAdjust="spacingAndGlyphs"><tspan font-style="italic">GPR183</tspan> coexpression in NK and CD8<tspan font-size="5.5" dy="-3">+</tspan><tspan dy="3"> T cells</tspan></text>
<rect x="407.1" y="745.6" width="204.3" height="126.1" fill="none" stroke="#555" stroke-width="0.7"/>
<line x1="405" y1="749.2" x2="407.1" y2="749.2" stroke="#555" stroke-width="0.6"/>
<text x="403.4" y="751.4" font-size="6.4" text-anchor="end" fill="#333">0.4</text>
<line x1="405" y1="766.1" x2="407.1" y2="766.1" stroke="#555" stroke-width="0.6"/>
<text x="403.4" y="768.3" font-size="6.4" text-anchor="end" fill="#333">0.3</text>
<line x1="405" y1="783" x2="407.1" y2="783" stroke="#555" stroke-width="0.6"/>
<text x="403.4" y="785.2" font-size="6.4" text-anchor="end" fill="#333">0.2</text>
<line x1="405" y1="799.9" x2="407.1" y2="799.9" stroke="#555" stroke-width="0.6"/>
<text x="403.4" y="802.1" font-size="6.4" text-anchor="end" fill="#333">0.1</text>
<line x1="405" y1="816.8" x2="407.1" y2="816.8" stroke="#555" stroke-width="0.6"/>
<text x="403.4" y="819" font-size="6.4" text-anchor="end" fill="#333">0</text>
<line x1="405" y1="833.7" x2="407.1" y2="833.7" stroke="#555" stroke-width="0.6"/>
<text x="403.4" y="835.9" font-size="6.4" text-anchor="end" fill="#333">−0.1</text>
<line x1="405" y1="850.6" x2="407.1" y2="850.6" stroke="#555" stroke-width="0.6"/>
<text x="403.4" y="852.8" font-size="6.4" text-anchor="end" fill="#333">−0.2</text>
<line x1="405" y1="867.5" x2="407.1" y2="867.5" stroke="#555" stroke-width="0.6"/>
<text x="403.4" y="869.7" font-size="6.4" text-anchor="end" fill="#333">−0.3</text>
<line x1="449.1" y1="871.7" x2="449.1" y2="873.8" stroke="#555" stroke-width="0.6"/>
<text x="449.1" y="882.4" font-size="6.6" text-anchor="middle" fill="#333">−0.1</text>
<line x1="494" y1="871.7" x2="494" y2="873.8" stroke="#555" stroke-width="0.6"/>
<text x="494" y="882.4" font-size="6.6" text-anchor="middle" fill="#333">0</text>
<line x1="538.9" y1="871.7" x2="538.9" y2="873.8" stroke="#555" stroke-width="0.6"/>
<text x="538.9" y="882.4" font-size="6.6" text-anchor="middle" fill="#333">0.1</text>
<line x1="583.8" y1="871.7" x2="583.8" y2="873.8" stroke="#555" stroke-width="0.6"/>
<text x="583.8" y="882.4" font-size="6.6" text-anchor="middle" fill="#333">0.2</text>
<path d="M511 805.2h0M514.2 811.6h0M500.7 809.7h0M498.1 813.9h0M497.3 821.9h0M505.6 800.5h0M503.8 812h0M517.1 823.4h0M513.3 816.9h0M503.4 800.7h0M526.5 792.3h0M495.5 823.8h0M515.6 809.5h0M471.7 808.1h0M516.3 802.6h0M536.9 797.5h0M504.8 829h0M505.2 818.7h0M505.4 811h0M500 815.4h0M508.4 808h0M526.1 817.1h0M497.2 792.9h0M509.2 808.8h0M487.3 806.1h0M524.6 801.5h0M482 821.5h0M503.2 811.6h0M522.8 802.6h0M482.4 817.9h0M508.7 806.3h0M511.5 796.4h0M503 818.5h0M504.6 815.9h0M495.1 813.8h0M507.2 826.5h0M501.6 819.2h0M523.8 807.1h0M504.6 814.6h0M520.4 826.2h0M494.7 807.4h0M487.3 832.1h0M495.7 823.3h0M507.1 822.8h0M521.8 808.4h0M494.8 811.3h0M497.7 811h0M496.8 801.9h0M516.4 817.7h0M509.2 816.4h0M483.1 818.6h0M507.8 821.2h0M522.1 791.8h0M490.1 823.8h0M501.5 810.6h0M492.8 819.2h0M520.5 818.8h0M505.8 824.3h0M505.4 817.9h0M523 810.7h0M498.1 817.8h0M522.9 803.3h0M502.3 826.3h0M504.8 803.7h0M507.4 825.1h0M510.1 814.6h0M505.6 814.7h0M493.5 822.8h0M517.8 807.3h0M491.9 830.5h0M519.5 806.3h0M507.1 817.1h0M530.1 821.7h0M500.2 809.4h0M511 807.7h0M486.8 810.1h0M521.1 814.9h0M518.8 813.7h0M505.1 813.6h0M502.7 813h0M521.8 799.3h0M513.8 807.3h0M489 817.8h0M511.6 811.6h0M499.1 822.2h0M518.1 806h0M468.5 795.8h0M513.3 810.5h0M520.4 806h0M527.9 813.2h0M518 804.4h0M482 799.3h0M500.3 825.3h0M504.6 804.5h0M492.3 817h0M499.8 815.8h0M470.4 807.4h0M492.3 809.7h0M505.8 828.8h0M504.1 821.9h0M503.1 819.3h0M503.4 814.7h0M508.2 808h0M492 804.6h0M532.5 806.5h0M532.9 797.4h0M522.9 814.1h0M522.5 827.4h0M480.1 812.3h0M528.1 806.3h0M491.3 827.5h0M508.5 810h0M487 818.2h0M502 818.9h0M472.9 828.1h0M504.7 797.9h0M524.8 813.2h0M492.2 812.4h0M498.4 813.7h0M515 808.7h0M518.6 795.1h0M487.4 803.3h0M478.7 824.9h0M522.1 818.6h0M495.7 813h0M494.5 818.1h0M507.1 815.3h0M497.2 820.6h0M490.5 810.8h0M547.7 809.2h0M484.1 800.4h0M521.1 813.6h0M497 817h0M509 822.2h0M507.5 832.1h0M490.4 825.1h0M498.4 815.9h0M500.5 813.4h0M521.2 789.2h0M499.9 811.2h0M500.9 813h0M497.6 818.5h0M509.1 801h0M507.2 813.7h0M501.3 825h0M491.2 815.1h0M517.7 810.8h0M493.2 816.6h0M517.5 811.6h0M519.1 823.8h0M509.6 822.1h0M479.3 817.8h0M512.3 808.2h0M520.8 810h0M473 812.8h0M517.7 814.9h0M498.9 814.4h0M505.5 823.6h0M518.8 796.1h0M513.7 810.5h0M459.8 817h0M512.1 807.2h0M508.3 820.3h0M507.6 813.7h0M506.1 806h0M508.8 816h0M492.3 831.3h0M529.3 811.8h0M519.9 807.9h0M506.6 809h0M506.2 799.5h0M498.9 816.5h0M504.1 810.6h0M525.4 816.3h0M471.4 815.4h0M514.3 812.7h0M505 808h0M492.7 823.7h0M482.1 819h0M493.7 816.7h0M489.1 834.1h0M520 807.9h0M519.5 800.2h0M481.8 810.6h0M488.7 834.9h0M489.3 821.6h0M529.2 811.8h0M501.9 810.6h0M509.5 814.1h0M533 817.8h0M487.9 833.9h0M487.8 825.1h0M497.4 818.2h0M524.8 803.5h0M498.6 813.2h0M495.4 817.5h0M503.1 796.6h0M488.8 825.7h0M511.1 820.7h0M491.6 813h0M490.6 804.4h0M513.7 816.7h0M503 819.5h0M525.7 809.3h0M507.2 820.5h0M526.7 810.2h0M495.4 802.2h0M509.3 816.6h0M517.5 816.1h0M503.2 805.6h0M489 818h0M503.9 810.8h0M490.6 825.7h0M500.7 822.2h0M506.8 814.4h0M507 811.9h0M489.8 819.5h0M507.5 802.8h0M508.9 812.7h0M532.5 812.9h0M523.1 805.2h0M488.5 816.8h0M515.6 821.9h0M524.2 814.8h0M511 814.6h0M510.4 819.2h0M526.2 817h0M527.3 812.7h0M492.5 809.1h0M506.2 816.1h0M488.3 819h0M502.8 821.4h0M488 824.9h0M490.2 807.3h0M515.9 816.2h0M489.9 817.6h0M510.9 818.2h0M502.2 805.7h0M500.7 818.2h0M521 812.1h0M503.5 822.4h0M518.3 809.8h0M499.9 815.9h0M523 811.8h0M502.1 813.4h0M505.5 805.7h0M500.3 818.5h0M494.6 814.6h0M486.3 821.7h0M482.9 818.8h0M501.2 816.6h0M496.7 823h0M507 833h0M489.6 802.8h0M507.7 800.9h0M530.4 808.6h0M491.2 812.7h0M492.2 815.5h0M507.8 800.1h0M502.1 816h0M501.2 794.7h0M502.9 806.9h0M493.8 819.2h0M541.5 815h0M511.8 807.9h0M512.2 804.2h0M501 801.8h0M509.1 814.9h0M511.7 811.6h0M502.6 809.7h0M493.6 812.1h0M500.2 836.1h0M519.2 812.3h0M500.8 817.7h0M483.8 828.3h0M510.8 815.5h0M519.8 795.2h0M497.8 828.2h0M522.3 805.7h0M527 807.8h0M508.5 820h0M527.1 809.5h0M524 810.4h0M497.2 809.1h0M518.7 831.7h0M498.9 810h0M519.4 811.2h0M494.4 812.7h0M499.2 838.2h0M479.2 814.6h0M493.8 810.2h0M516.8 832.7h0M505.9 826.5h0M519.3 827.8h0M521.1 813.7h0M504 813h0M492.8 816.9h0M547.7 806.2h0M494.2 797h0M517.9 810.5h0M509.5 825.1h0M498 823.3h0M526.6 801.2h0M506.3 822.8h0M482.7 823h0M489.9 815.7h0M483.3 815.8h0M504.1 821.2h0M507.4 821.1h0M499.2 821.7h0M531 820.9h0M507.5 821.2h0M496.7 807.6h0M502.4 815.2h0M475.5 823.9h0M531.3 802h0M463.1 833.4h0M501.6 827.3h0M505.5 822.2h0M524.7 798.9h0M520.7 820.2h0M508.4 803.1h0M492.5 816.3h0M490.4 815.3h0M524 811.7h0M534.4 811.2h0M515.4 798.7h0M491.9 807.9h0M484.8 822.2h0M498.9 802.4h0M489.2 805.4h0M485.9 816.2h0M516.1 811.7h0M533.8 808h0M486 818.6h0M518.9 826.6h0M475.2 802.1h0M488.5 807.6h0M511.5 819.3h0M494 811.4h0M497.6 807.4h0M508 815.4h0M529 810.4h0M487.2 820.9h0M498.2 800.9h0M514.5 817.7h0M495.8 815h0M505.1 796.9h0M496 822.1h0M499.7 818.5h0M517.9 811.1h0M497.6 817.2h0M493.7 817.3h0M503.5 799.9h0M491 805.2h0M505.2 821.6h0M530.6 805.9h0M488.4 819.8h0M498.5 824.3h0M506.7 813.8h0M523.5 812.6h0M480.7 807.4h0M519.6 817.9h0M524 809.5h0M490.2 810.2h0M508.7 816.8h0M511.7 818.4h0M505.2 811.1h0M513.6 807.9h0M473.8 822.4h0M510.5 806.4h0M491.8 807.1h0M493.1 805.5h0M507.6 811h0M486.3 823.1h0M508 811h0M502.8 816.5h0M523.6 816.1h0M512.6 804.8h0M510.6 811.3h0M488.7 802.3h0M524.2 817.8h0M493.6 823.9h0M485.6 817.6h0M491.7 815.5h0M511.1 818.5h0M488.4 809.2h0M517.3 813.1h0M492.8 812h0M508.4 805.2h0M507.4 818.3h0M494.3 814.3h0M484.8 823.8h0M516.9 805h0M512.7 800.9h0M501 819.5h0M506.6 806.1h0M491.8 800h0M522 821.2h0M493.5 809.6h0M509.7 803.7h0M510.8 813.6h0M498.2 811.2h0M511.6 818.3h0M500.8 813.9h0M499.3 823.9h0M512 825.1h0M504.8 820.1h0M505.1 802h0M535.4 802.3h0M502.3 823.6h0M501.7 811.4h0M483.4 822h0M509.8 810.1h0M499.2 823.2h0M508.8 821.2h0M532.4 810.7h0M498 805.2h0M492.6 820.4h0M513.9 824h0M509.5 818.6h0M488.4 816.6h0M503.1 814.5h0M510.8 821h0M519.6 797h0M484.5 821.8h0M504 825.4h0M509.1 814.2h0M501.2 809.7h0M499 819h0M512.4 811.4h0M512.9 802.8h0M490.8 813.3h0M521.7 809.8h0M505.1 809.7h0M512.4 810.5h0M498.6 811.6h0M497.4 813.6h0M502.6 831h0M502.9 810.9h0M510.7 813.3h0M491.9 827.2h0M477 816.3h0M518.2 800.4h0M529.2 819.3h0M513.6 819.3h0M479.1 819.1h0M497.7 810.2h0M514.2 810.8h0M524.9 795.1h0M500.7 806.9h0M525.6 812h0M499.4 812.8h0M497.8 809.4h0M518.6 814h0M515.8 812.8h0M532.8 803.4h0M526.4 803.1h0M496.1 818.9h0M512.4 819.9h0M522.3 811.6h0M534.4 815.2h0M490.5 806.8h0M502.5 826.1h0M525.6 808.1h0M505.9 818.8h0M509.4 810.9h0M499.1 815.6h0M513.3 819.2h0M527.1 810.1h0M497.5 812.4h0M488.7 811.1h0M523.5 824h0M503.9 812h0M494.7 826.3h0M490.6 828.1h0M512.4 823.2h0M508.3 816.8h0M524 814.4h0M512 809.4h0M498 820.3h0M515.3 814.3h0M489.3 815.2h0M515.9 814.3h0M522 819.1h0M475.7 827h0M521.9 820h0M501.4 814.8h0M508.8 800.8h0M519.6 802.9h0M497.6 807.9h0M516.6 826h0M505 822.6h0M467 825.4h0M521.7 815.8h0M530.7 800.4h0M511.7 811.1h0M500.4 818.9h0M505.7 826.2h0M520.2 795h0M524.9 810.2h0M529.3 811h0M480.5 815h0M524.5 815.1h0M516.5 807.4h0M501.6 821.8h0M512.7 804.1h0M514.9 804.4h0M522.9 802.5h0M512.5 792.9h0M520.1 803.5h0M499.7 818.8h0M493.4 823.1h0M498.8 818.1h0M479.9 815.4h0M497.8 818.9h0M491.3 800.8h0M519.7 807.8h0M491 816.6h0M511.6 812.3h0M513.3 819.8h0M501.4 805.1h0M510.5 811.4h0M516 824.1h0M509.1 805.8h0M515.7 808.2h0M482.9 819.1h0M479.1 818.5h0M522.7 810.6h0M512.2 811h0M501.9 817.9h0M508.9 814.5h0M547.1 796.8h0M490.9 809.9h0M499.7 816.8h0M498.6 807.6h0M503.4 828.4h0M502.3 818.9h0M476.1 813.8h0M510.9 805.5h0M472.3 837.4h0M525.6 807.9h0M489.2 813.6h0M508.5 816.1h0M495.6 819.3h0M505.9 826.7h0M498.5 812.1h0M507.2 826.2h0M484.7 822.3h0M514.8 813.8h0M496.2 829.2h0M502.3 795.7h0M492.1 796.2h0M473.8 830h0M522.8 820.2h0M495 808.4h0M484.4 824.9h0M480.3 808.6h0M508.6 802.8h0M510.3 808.5h0M504.2 811h0M488.3 821.3h0M486.1 807.4h0M485.6 820.4h0M515.6 807.8h0M513.1 811.4h0M509.5 816.4h0M494.4 819.9h0M492.5 830.7h0M521.9 829.8h0M518.5 813h0M528 810.6h0M503.1 806.4h0M479.5 820.2h0M528.3 799.1h0M496.6 824.8h0M494.2 810.7h0M487.5 809h0M485.3 812.1h0M509.3 815.3h0M537.1 805.7h0M513.8 797.4h0M497.3 811.4h0M519.4 810.3h0M501.6 815.7h0M516.3 811h0M521.7 820.2h0M504.7 804.9h0M486.9 809.9h0M502.5 806.2h0M495.3 815.2h0M485 810.8h0M500.7 814.3h0M495 806.2h0M506.8 804.8h0M493.3 818.4h0M516.5 795.8h0M532.1 801.5h0M519.4 805h0M491.9 818.1h0M485.6 829.2h0M503.2 811.1h0M513.8 795.5h0M486.9 824.8h0M496.1 810.2h0M498.8 824.7h0M512 814.9h0M493.8 804.6h0M517.8 816.5h0M506.7 817.1h0M497.5 820.5h0M501.3 820.7h0M509.3 806.6h0M501.7 827.2h0M517.1 816h0M527.7 803.5h0M504.4 800.1h0M490.7 815.3h0M514.7 810.7h0M505.1 822.8h0M523.2 820.7h0M467.6 824.9h0M518.9 811h0M500.8 814.8h0M510.5 816h0M495.8 818.3h0M494.1 808.9h0M503.2 808.7h0M495.8 825.3h0M536.9 797h0M512.7 808.4h0M502.7 806h0M476.2 817.2h0M519.4 804.5h0M497.8 819.3h0M496.2 807.7h0M522.9 820h0M500.2 813.9h0M489.7 803.9h0M492.9 812.1h0M502.7 815.7h0M493 825.8h0M515.9 805.9h0M511.7 817.5h0M493 816.9h0M492.5 818.3h0M488.1 800.4h0M487.9 845.2h0M497.6 806.6h0M487.3 803.8h0M491.6 806.3h0M512.7 802.7h0M501.5 795.5h0M483 801.7h0M494 818.5h0M475.7 824.6h0M496.5 829.7h0M488.1 821.1h0M521.4 798.4h0M492.8 824.9h0M497.6 801.2h0M493.6 816.7h0M528.4 810.2h0M494.1 829.9h0M500.8 822h0M533.4 813.7h0M498.4 822.5h0M501.1 814.1h0M524.7 820.3h0M492.7 820.8h0M506.1 814.9h0M496.9 811.1h0M495.4 820h0M482.7 828.5h0M499.6 812.2h0M530.7 807.8h0M491 814h0M511.4 811.6h0M533.9 808.5h0M516.6 809.3h0M487.9 814.5h0M508.6 800.9h0M480.2 836.4h0M514.6 807.9h0M514.1 807.7h0M506 811.2h0M509 819.1h0M504.4 829h0M506.1 815.1h0M482.7 825.8h0M492.9 824h0M482.9 810.1h0M493 817.1h0M490 815.7h0M513 800.5h0M515.1 822.4h0M518.9 810.5h0M506 817.8h0M484.8 817.3h0M493.4 817h0M526.1 808.5h0M514.4 802h0M483.9 819.1h0M532.9 794h0M504.9 830.6h0M513.8 799.6h0M490.1 806.9h0M500.8 822.4h0M518.9 814h0M484.3 814.2h0M521.9 796h0M491.3 800.4h0M509.5 809.3h0M496.8 818.2h0M496.9 812.8h0M501.7 827.7h0M502.4 818.1h0M522.3 807.3h0M523.9 803.7h0M475.3 824.2h0M513.4 823.3h0M512.7 821h0M504 810.7h0M499.5 826.4h0M494.4 822.7h0M476.2 813.1h0M500 811.1h0M527 814.1h0M536.4 823.1h0M498 812.7h0M489.6 815.6h0M487.2 806.8h0M505.2 791h0M507.8 806.3h0M510 818h0M503.5 820.4h0M492.5 810.4h0M505.8 797.6h0M533.8 815.6h0M506.9 811.5h0M484.7 811.8h0M472.4 825.2h0M525.6 811h0M504.3 805h0M517.6 808h0M505.3 820.8h0M511.9 802.6h0M520.6 818.2h0M516.3 805.8h0M508.5 797.6h0M492.5 811.1h0M513.3 817h0M469.4 812h0M499.4 804.5h0M498 820.8h0M495.5 821.5h0M513.6 821.4h0M502.7 824.8h0M500.9 822.1h0M512.9 805.7h0M504.2 812.3h0M507.2 823.3h0M484.4 815.3h0M511.6 810.6h0M504.4 815.9h0M516.1 819h0M531.3 812.4h0M494.9 810.9h0M484.1 811.2h0M484.3 813.8h0M527.6 810.4h0M483.1 818.3h0M487.5 816h0M477.6 808.6h0M522.6 811.4h0M499.4 815.8h0M476.8 826h0M506.3 798.7h0M504.6 800.2h0M501.6 802.9h0M505.8 815.5h0M514 820.6h0M505.6 806.1h0M484.4 821.6h0M507.5 810.1h0M507.5 801.1h0M486.5 808.4h0M503.4 821.7h0M498.8 817h0M490.2 823.7h0M506.9 800.7h0M528.4 792.2h0M476.2 824h0M500.6 819.3h0M503.2 825.4h0M490.3 807h0M506.5 825.9h0M512.2 790.8h0M517.3 816.2h0M543.5 818.8h0M500.3 809.7h0M505.8 803.5h0M511.3 807.5h0M504.9 815.1h0M494.7 820.8h0M502.6 820.2h0M496 814.2h0M532 807.2h0M497.7 809.4h0M517.1 814.7h0M498.1 815.8h0M481.9 808.3h0M516.4 825.4h0M513.6 815.1h0M512 810.8h0M495.3 823.7h0M490.7 806.1h0M508.7 801.5h0M498.8 812.2h0M506.6 818.5h0M512.3 825.8h0M491.6 812.1h0M507.3 808.6h0M500.9 821.8h0M493.3 818.5h0M504.4 808.5h0M506.3 822.2h0M521 796.7h0M510.7 807.5h0M514.7 802.8h0M505.8 815.4h0M523.9 816.2h0M512.1 820h0M499.7 812.9h0M503.1 796.7h0M498.9 796.8h0M520.4 827.3h0M514.2 805.1h0M511.1 818.7h0M505.3 811.7h0M488.6 818.5h0M507.7 806.6h0M499.7 818.2h0M511.4 829.1h0M499 812.3h0M495 818.2h0M522 802.4h0M495.2 817.6h0M505.6 799.8h0M516.1 815.5h0M497.1 817.9h0M487.9 813.9h0M499 803.6h0M501.3 814.7h0M515.5 805.8h0M515.4 803.2h0M489.5 822.6h0M519.1 818.7h0M506.1 817.4h0M526.9 823.7h0M484 825.6h0M491.5 818.5h0M513.5 803.8h0M499.8 829h0M518 817.6h0M517.4 814.1h0M519.3 810h0M482.8 820.9h0M505.5 811.5h0M503.7 819.1h0M515.6 820.4h0M516 803.9h0M506.6 819.1h0M509.6 813.5h0M516 802.5h0M497.1 825.1h0M513.2 814.7h0M521.3 807.7h0M497.2 808h0M483.1 806.5h0M500.7 801.5h0M495.2 818h0M514 815.3h0M502.5 808.6h0M498.9 826.9h0M500.8 811h0M495.1 819.5h0M486.5 820.4h0M509.3 812.7h0M516.6 826.9h0M513.4 808.9h0M482.4 810.1h0M493 795.8h0M529.8 799.3h0M522.3 806.5h0M526.4 812.2h0M516 815.7h0M533.2 813.8h0M501.7 799.7h0M513.3 814.9h0M487.3 807.3h0M478.3 826.4h0M491.8 812h0M510.6 806.6h0M512.6 816.8h0M524.5 819.4h0M494.9 818.2h0M512 812.2h0M521.3 829.5h0M515.8 813.2h0M518.6 814.7h0M485.3 803.1h0M513.8 823.5h0M503.8 809.7h0M509.5 806.7h0M511.5 802.1h0M501.5 808.6h0M514.5 817.5h0M507.1 813.1h0M502.1 814.6h0M502.4 814.6h0M486.9 814.3h0M496.1 816.4h0M524.3 829.4h0M517.4 829.4h0M517.9 812.7h0M491.8 818h0M507.1 818.1h0M507.4 803.9h0M465.5 827.3h0M504.6 812.9h0M484.2 805.8h0M518.6 805.4h0M484.4 826.4h0M496.6 804.7h0M539.7 814.2h0M494 818.4h0M492.4 826.7h0M496.7 826.3h0M489.2 807.2h0M499.4 809.5h0M519.1 804.8h0M510.5 806.5h0M501.4 806.3h0M473.6 807.3h0M488.5 818h0M491.5 809.5h0M511.6 821.8h0M492.7 816.1h0M508.9 807.4h0M514.6 808.2h0M518.7 808.9h0M499.3 816.3h0M505.8 822.6h0M495 821.4h0M510.8 824.7h0M517.6 804h0M503.2 799.8h0M498.6 810.2h0M543.7 801.7h0M512.7 807.8h0M509.2 813.9h0M493.1 810.7h0M495.2 828.5h0M516.9 812.6h0M513.3 809.1h0M515.9 811.4h0M484.4 829.2h0M513.9 808.1h0M519 818.3h0M501 812.2h0M514.1 809.9h0M501.8 816h0M480.4 817.9h0M516.3 811.4h0M489.4 810.1h0M503.4 826.4h0M494 812.2h0M494.7 821.9h0M520.1 815.4h0M488.1 822.7h0M489.6 815h0M495.8 824.8h0M516.7 811.5h0M468.7 818.8h0M512 822.1h0M502.4 808.9h0M493 811h0M495.8 812.3h0M487.8 815h0M521.1 803.3h0M503 819.2h0M505.3 811.1h0M485.3 814.5h0M490 810.1h0M502 815.5h0M520.3 807.5h0M524 816.3h0M495.4 812.9h0M518.3 802.2h0M506.5 821.6h0M514.6 808.4h0M499.1 828.4h0M482.4 806.9h0M503 812.6h0M513.2 795h0M503.6 817.1h0M502.2 805.7h0M502.2 813.7h0M519.8 815.8h0M504.9 811.3h0M477 826.7h0M500 830.7h0M519.2 820h0M516.1 809h0M493.1 819.8h0M506.3 810.1h0M518.5 820.5h0M500.6 805.1h0M510.5 815.9h0M498.5 819h0M525.2 818.6h0M517.8 814h0M493.4 815.8h0M485.4 799.9h0M547.7 811.4h0M518.3 816.5h0M489.5 831.7h0M477.8 810.1h0M508.4 819.5h0M492.1 805.6h0M510.5 806.9h0M507.4 809.3h0M544.4 822.8h0M512.1 821.3h0M504.7 826.4h0M490 812.3h0M512.2 807.7h0M498.2 808h0M499.8 819.6h0M507.3 795.9h0M511.5 831.6h0M506.8 818.6h0M479.8 816.5h0M508.6 818.6h0M487.4 815.2h0M515.3 811.3h0M504.2 826.1h0M488.7 812.6h0M493 816.8h0M524.3 803.1h0M507.3 822h0M508.3 828.6h0M496.4 829.2h0M509 813.3h0M519 814.4h0M509 826.4h0M519.8 804.4h0M523.7 803h0M498.3 807.6h0M501.7 798.8h0M498 820.1h0M504.7 818.9h0M511.1 823.3h0M507.1 824.7h0M525.9 811.1h0M487.7 813.8h0M495.1 818h0M496.9 800.6h0M519.7 830.9h0M499 823.7h0M488.6 808.1h0M486.1 833h0M505 821.8h0M504.5 811h0M507.9 821.7h0M501.7 812.3h0M476.4 817.8h0M501.4 800.3h0M506.3 825.6h0M496.8 818.5h0M497.1 824.8h0M521.1 812.8h0M487.3 801.9h0M496.5 820.3h0M500.7 818.1h0M515.7 795.4h0M481.6 813.9h0M508.6 803.6h0M507.2 797.9h0M494.2 820.1h0M498.3 810.7h0M510.3 800h0M502.8 810.2h0M494.1 809.2h0M518.5 811.8h0M475.7 805.5h0M502.5 823.1h0M497.5 811.1h0M514 804.1h0M501.2 817.2h0M497 814h0M495.3 819.7h0M493.3 828.2h0M494.3 810.6h0M513.4 809.3h0M487.6 827h0M528.9 791.7h0M516.3 815.7h0M485.7 819.8h0M499.1 807.4h0M502.5 823.5h0M489.2 811.9h0M516.5 805.1h0M503 808.9h0M484.5 818.9h0M489.6 817.7h0M498.4 822.3h0M514.5 812.5h0M522.7 809.9h0M500.8 822h0M495.3 810.5h0M506.3 798.3h0M512.3 817.4h0M491.5 819.4h0M520.1 800.8h0M464.9 825.4h0M529.8 819.1h0M504.7 809.4h0M507.6 816.8h0M502 818.8h0M504 816.3h0M528.3 800.6h0M490.6 816.8h0M528.5 812.1h0M508.4 799.8h0M493.9 809.1h0M501.5 808.5h0M501.7 807.6h0M515.5 795.7h0M492.7 808.1h0M512.8 823.9h0M523.7 792.9h0M528.7 816.2h0M493.1 801.5h0M503.1 815.4h0M490.3 806.9h0M473.8 824.4h0M511.7 827.9h0M517.5 812.3h0M506 813.6h0M507 816.6h0M490.7 815.9h0M522.5 805.3h0M507.5 818.9h0M505.9 798.8h0M502.7 814.1h0M494 796.3h0M503.4 806.8h0M478.4 812.6h0M510.1 820.4h0M503.6 815.4h0M517.2 808.2h0M500.3 817.7h0M530.7 804.7h0M507 810.5h0M509.9 810.9h0M501.3 803.3h0M499.1 820.2h0M493.2 816.2h0M499.5 816.3h0M505 813.6h0M513.4 814.7h0M497 816.6h0M495.3 812.8h0M490.4 827.3h0M525.6 828.9h0M488.9 813.2h0M498.6 808.9h0M469 820.7h0M526.2 805.1h0M497.2 804.6h0M503.1 800.4h0M493.6 815.2h0M504 813.4h0M529.2 798.7h0M517 807.2h0M503.5 815.7h0M513.5 814.4h0M519.2 813.2h0M489.5 822h0M518.8 805.8h0M505.1 828.4h0M503.3 826.5h0M514.8 805.6h0M501.4 814.2h0M505.8 817.2h0M495.5 817.7h0M522.5 792.7h0M489.3 825.5h0M491.6 822.5h0M508.6 815h0M498.4 810.5h0M494.1 820.1h0M513.8 814.9h0M501.6 795.3h0M502.6 822.7h0M489.9 806.2h0M518 800.4h0M508.8 797.7h0M531.9 800.5h0M507.2 814.5h0M521.3 794.9h0M509.9 819h0M510.8 823h0M505.6 800.5h0M498.8 812.1h0M517.9 822.1h0M505.8 804.4h0M499.9 821.7h0M504.4 803.2h0M511 813.6h0M505 803.7h0M547.2 808.8h0M524.5 809.5h0M511.2 808h0M515.7 804.2h0M540.2 808.4h0M485.9 803.3h0M503.2 816.8h0M514 815.9h0M512.3 812.8h0M518.3 817.2h0M496.7 815.4h0M482.5 816.2h0M469.8 827.6h0M476.7 822.2h0M519.9 800.7h0M482.6 827.5h0M497.5 806.6h0M509.2 818.7h0M487.2 804.7h0M495.9 822.9h0M528 808.2h0M496.7 811.7h0M499.7 811.3h0M518.2 823.9h0M524.9 812.8h0M512.7 804.6h0M505.8 813.3h0M501 810.1h0M510.4 806.6h0M501.5 816.2h0M514.8 818.4h0M508.1 809.5h0M492.9 816.7h0M498.8 814.5h0M495.4 807.2h0M518.9 806.1h0M514.9 821.3h0M518.3 802.5h0M511.7 810h0M521.8 810h0M510 806.5h0M526 797.6h0M517.6 801.3h0M510.3 821.2h0M494.7 819h0M513.8 823.6h0M523.8 804.1h0M515 804.3h0M511.5 803.5h0M492.9 826.9h0M503.2 811.2h0M476.8 812.5h0M487.5 820.2h0M507.1 825.1h0M537 814.7h0M503.5 829h0M511.9 807.1h0M500.9 825h0M520.3 822h0M501.2 809.6h0M501.6 817.5h0M494.4 815h0M489.3 809h0M492.8 824.3h0M531.7 802.3h0M497 832.5h0M490.5 823.8h0M522.3 819.6h0M502.7 815.7h0M526.4 807.8h0M512.8 819h0M508.8 804h0M517.5 823.3h0M511.4 808.2h0M511.1 798.9h0M505.1 795.7h0M497.7 811.8h0M498.9 812.1h0M507.3 814.3h0M493.8 811.2h0M514.5 810.4h0M531.8 810.1h0M481.2 809.3h0M527.5 818.7h0M502.6 824.7h0M483.9 818h0M476.1 831.9h0M517.5 795h0M505.7 822.5h0M511.6 818h0M491.5 808.7h0M515.1 812.9h0M516.6 821.6h0M515.2 815.2h0M490.6 831h0M520.8 819.5h0M515.4 821.8h0M496.9 816.6h0M468.5 822.3h0M508.9 813.6h0M501.9 808.1h0M509.9 817.1h0M506.1 818.8h0M485.9 797.6h0M517.8 803.4h0M501.7 800h0M523.7 805.1h0M503.6 792.5h0M495.7 804h0M536.6 804.5h0M485.3 830.7h0M505 816.4h0M504.7 821.8h0M513.9 795h0M498.8 821.2h0M522.8 805.1h0M514.5 809.6h0M513.1 810.5h0M505.1 820.1h0M516.1 812.2h0M511.9 825.4h0M493.8 824.4h0M521.4 798.5h0M519.9 815.8h0M507.4 809.7h0M503.9 791.1h0M500.7 807.9h0M501.7 814.4h0M511 826.7h0M504.1 811.7h0M525.1 819.1h0M506 819.1h0M523.7 813.7h0M542.5 802.4h0M502.5 819h0M519.3 818.3h0M503.1 815.3h0M510.7 797.9h0M514 811.4h0M521.4 806h0M520.5 799.6h0M482.8 812.8h0M536 819.9h0M509.8 805.1h0M508.5 820.2h0M516.5 814.4h0M498 819.3h0M503.4 820.5h0M486.2 810.3h0M508.7 816.9h0M509.5 807.5h0M507.4 825.6h0M500.2 829.3h0M506.8 803.3h0M517.8 811.1h0M496.8 818.7h0M507.8 818.6h0M486.1 812.1h0M508.7 800.5h0M501.8 812.4h0M520.7 803.2h0M514.2 823.4h0M518.2 820.7h0M509.8 828.5h0M491.5 821.6h0M510.4 807.3h0M510.8 810.4h0M496.5 810.5h0M481.9 823.5h0M501.8 796.2h0M509.7 817.4h0M497.7 817.7h0M514 809.6h0M505.7 812.3h0M529.4 806.9h0M523 823h0M507.9 812.2h0M513.4 818.4h0M493.4 804.6h0M493.4 816.9h0M509.1 809.4h0M498.3 832.4h0M514.5 810.4h0M494.7 816.2h0M489.4 815.4h0M504.6 809.3h0M483.8 809.5h0M516 803.6h0M511.7 822.5h0M487.5 800.5h0M514.2 840.1h0M500.5 805h0M480.7 812.6h0M492.8 822.8h0M477 819.8h0M500.9 810.6h0M509.7 807h0M535.7 795.2h0M482.6 822.4h0M489.5 813.2h0M509.6 795.1h0M493.2 811.3h0M503.9 830.6h0M520.7 811h0M482.9 809.9h0M497.2 812.2h0M493.8 814.4h0M504.1 799.1h0M494.2 805.7h0M503.1 809.9h0M509.7 827h0M500.1 825.4h0M512.5 803.3h0M517 824.3h0M489.2 822.6h0M507.4 810.6h0M506.7 814.5h0M504.9 804.9h0M498.8 826.9h0M526 824.4h0M503.8 807.3h0M513.9 806.7h0M532.6 795.8h0M491.3 820.2h0M533 802.1h0M506 798.8h0M508.2 806.5h0M516.1 803.6h0M501.5 803.3h0M503.1 819.7h0M516.2 804.1h0M493.4 810h0M499.7 810.6h0M520.8 801.3h0M491.6 825.4h0M494.8 822.9h0M515.1 794.1h0M490.6 817.8h0M504.3 805.4h0M518.9 812.1h0M507.5 817.1h0M496.5 818.8h0M506.4 806.1h0M489.8 808.7h0M482.9 808h0M520.1 797.2h0M483.2 811.3h0M497 810.8h0M520.3 818.3h0M502.4 824h0M496.9 835.3h0M503.2 836h0M498.6 808.8h0M524.2 820.9h0M516.2 817.4h0M477.2 807.6h0M507.6 808.1h0M510.6 806.2h0M493.7 811.3h0M501.7 813.5h0M496.5 806.5h0M519.8 807.7h0M521.5 817.6h0M530.4 814.7h0M502.4 813.8h0M521.7 806.6h0M511.9 818.6h0M520.6 800.3h0M490.5 818.2h0M517.1 803.7h0M486.2 822.6h0M509.6 814.6h0M511 818.9h0M494.6 811.3h0M510.4 821.1h0M519 806.9h0M506.7 812h0M517.7 808.7h0M504.7 813.4h0M524.2 796.4h0M468.9 826h0M472.9 824.4h0M500.4 822h0M512.5 810.7h0M510.4 824.5h0M502.9 809h0M485.4 831.8h0M505.7 784.6h0M496.2 816.2h0M514 799.8h0M513.4 814.5h0M505.8 808.6h0M507.7 807.2h0M496.6 811.8h0M500 819.6h0M503.8 804.9h0M507.3 810.7h0M506.3 812.8h0M503.3 816.1h0M477.2 815.9h0M496.6 819.6h0M493.6 810.2h0M503.3 811.2h0M509.4 808.8h0M508.4 805.6h0M520.1 803.9h0M510.2 803h0M499.7 823.6h0M503.9 828.3h0M496.4 813h0M525.2 806.6h0M497.7 809.5h0M512.6 809.5h0M517.1 817.4h0M520.1 824.3h0M505.3 807.4h0M512.7 816.2h0M479.4 829.3h0M491.4 813.9h0M531.1 813.5h0M524.1 816.1h0M505.9 810.7h0M535.5 805.7h0M478.3 822.6h0M514.8 813.4h0M515.8 812.9h0M509.8 806.6h0M537.1 808.6h0M496 807.2h0M516.1 825.2h0M515.4 816.5h0M507 803h0M522.2 815.2h0M511.4 816.4h0M475.2 819.4h0M483.6 823.5h0M510.4 821.1h0M497.5 826.8h0M490.1 812.2h0M515.5 827.9h0M518.1 811.9h0M497.6 824.3h0M511.2 817.4h0M495.1 813.8h0M512.2 824.8h0M511.7 812.2h0M516.6 802.7h0M507.2 820.8h0M520.9 805.4h0M494.5 821.1h0M503.6 806h0M507.9 797.6h0M489.6 807h0M496 816.8h0M501.5 801.7h0M524.9 824.4h0M511.1 807h0M512.3 809h0M489 807.4h0M520.8 816.5h0M513.2 805.6h0M512 806.9h0M491 820.3h0M510.3 806.6h0M520.3 818.1h0M495.7 819.5h0M498.3 801h0M524.8 809h0M523.6 813.6h0M508.6 812.2h0M507.1 818.4h0M488 810.6h0M500.2 820.5h0M492.9 832.5h0M492 814h0M494.4 831h0M493.3 833.3h0M511.9 833h0M505.2 800.8h0M506.9 809h0M487.5 799.3h0M502 807h0M539.4 818.3h0M505.8 821.2h0M507.4 815.8h0M510.1 812.4h0M500.1 808.9h0M514.5 819h0M514.5 819.7h0M496.7 809.3h0M519.4 808.3h0M539.5 814.4h0M510.8 814.1h0M481.4 811.8h0M508 810.4h0M506.8 809.8h0M503.9 827h0M509.6 812.9h0M498.2 829h0M507.6 809.9h0M528.9 811.3h0M513.1 809.8h0M500.7 818.5h0M498.2 812.7h0M518.2 805.9h0M480 822h0M517.8 811.1h0M520.6 806.1h0M511.4 805.9h0M524.4 812.5h0M496.2 825h0M511.4 800.1h0M510.9 813.1h0M511.8 818.9h0M511.2 800.7h0M510.1 816.7h0M510.4 803.1h0M509.7 803h0M508.3 813h0M497.1 812.3h0M514.2 802.1h0M519.6 814.1h0M485.7 821.4h0M527.5 826.7h0M501 809.6h0M521.1 816.5h0M510.8 815.7h0M506.9 817.3h0M509.9 809.5h0M496.2 808.3h0M487.8 833h0M489.2 811.4h0M494 810.9h0M505.1 812.6h0M504.4 800h0M511.4 824.6h0M492.3 812.5h0M509 806.9h0M523.2 810.5h0M491.5 809.8h0M494 815h0M492.8 811.1h0M528 820.2h0M501.7 805h0M511 791.9h0M515.3 804.4h0M520.2 810.2h0M503 813.4h0M514.4 803.8h0M493.9 814.2h0M516.5 809h0M501.6 810.8h0M497.5 818.2h0M484.5 819.6h0M521 809.9h0M486.6 830.2h0M495.8 830h0M500.2 819.4h0M514 825h0M474.6 817h0M533.3 803.1h0M494.7 807h0M507.6 817.9h0M502.9 813.8h0M538 803.1h0M507.9 804.2h0M527.9 796.1h0M478.8 818.6h0M503.1 804.4h0M505.6 802.1h0M500.5 824.8h0M495.2 818.8h0M507.8 813.5h0M515.2 800.9h0M531 811.8h0M506 793.1h0M488.3 813.3h0M494 824.7h0M526.2 822.3h0M493.8 799h0M497 803.1h0M515.7 801.6h0M491.7 789.8h0M498.4 821.8h0M511.7 813.3h0M504.8 825.7h0M520.1 809.9h0M546.9 783h0M520.7 803.8h0M498.5 815.7h0M521.3 815.1h0M497.5 819.2h0M512 806.1h0M514 810.7h0M491.8 815.5h0M505.7 818h0M509.7 802.8h0M500.7 821h0M507.1 808.9h0M496.6 808.6h0M508.1 818.9h0M493.2 803.7h0M506.2 811h0M534.6 811.7h0M500.8 807.9h0M496.3 813.5h0M511.6 829.5h0M502 822.3h0M522.2 827.3h0M513.3 800.6h0M523.6 788.4h0M509.1 821.1h0M504.6 820.6h0M520.1 807h0M518.5 806.9h0M515.9 820.5h0M504.3 807.8h0M490.2 819.6h0M512 815.2h0M490.9 813.9h0M499 810.7h0M492.7 808.5h0M509.3 805.8h0M473.7 822.1h0M492.9 814.7h0M521.1 808.5h0M501.5 810.6h0M486.8 814.6h0M492.2 804.6h0M501.9 816.2h0M520.9 807.6h0M491.7 822.3h0M506.8 805.4h0M502.5 822.2h0M495.7 816.1h0M494.6 822.2h0M527.8 809.3h0M518.2 834.7h0M524.8 814.8h0M494.9 813.8h0M501.2 822.5h0M502.3 810.1h0M488.5 824.4h0M506.2 818.1h0M510.6 801h0M524.5 797.3h0M522.3 815.8h0M504 802.8h0M506.5 820.9h0M494.4 824.5h0M524.8 818h0M497 824.1h0M519.3 818.4h0M500.9 820.9h0M518.7 804.4h0M511.4 790.4h0M510.4 794.9h0M500.8 809.4h0M494.7 818.7h0M523.9 810.7h0M514.6 807.5h0M517.2 805h0M493.7 816.7h0M498.4 822.7h0M513.8 823.5h0M503.8 797.8h0M514.9 810.6h0M537.8 804.2h0M480 821.3h0M511.1 812.7h0M507.5 814.1h0M498 828.9h0M484 805.2h0M506.9 823h0M503.7 808.8h0M520.2 806h0M496.6 815.7h0M499.8 815h0M498.8 802.6h0M514.7 803.4h0M523.8 797.3h0M512.7 793.2h0M535.6 819h0M501.1 801.6h0M537.8 798.3h0M503.9 815.8h0M509.3 809.7h0M487 800.3h0M508.1 820.2h0M505.9 814.4h0M492.4 817.9h0M532.1 800.2h0M480.9 840.9h0M493.3 824.5h0M515.9 804.7h0M519 817.6h0M495.6 822.2h0M503.9 812.6h0M506.9 807.8h0M509 811.3h0M506.8 840.9h0M497 829.9h0M511.8 796.4h0M485.9 805.4h0M506.1 806.2h0M495.8 816h0M504.1 800h0M514.6 835.2h0M498.2 821.1h0M487.7 814.2h0M480.1 828h0M473.9 827.6h0M490.7 814.6h0M517 810.1h0M503.2 813.6h0M499 812.9h0M502.2 796.5h0M510.9 814.6h0M492 820.8h0M515.9 809.3h0M491.4 817.7h0M500.7 815.5h0M491.2 823.4h0M511.7 802.2h0M531.2 816.2h0M493.1 822.3h0M505.2 822.7h0M501.7 821.9h0M484.6 821.6h0M489.5 821.9h0M495.9 809.8h0M497 822.4h0M493 812.5h0M500.5 802.8h0M511.6 816.2h0M495.4 823.5h0M492.3 825.1h0M503.6 813h0M494.5 807.5h0M484.1 831h0M494.5 825.5h0M491.1 803.7h0M524.5 797.4h0M490.4 815.3h0M499.2 824.3h0M512.1 812.4h0M521.9 806.2h0M506.7 807.2h0M521.8 810.7h0M501.8 806.2h0M506.8 806.8h0M529.6 791.9h0M504 821.6h0M533.7 794.1h0M509.9 815h0M516.8 819.3h0M519.7 811.8h0M503.6 813.3h0M496.4 817.8h0M512.3 816.3h0M514.2 817h0M512.7 824.7h0M521.3 815.2h0M498.5 809.5h0M505.8 809.4h0M501.7 807h0M505.9 814.2h0M489.2 816.3h0M516.5 800.6h0M511.1 799h0M518.6 796h0M502.9 810.3h0M510.6 807.9h0M513.1 806.7h0M518.1 812.7h0M487.5 807.7h0M510.4 810.9h0M513.4 817.5h0M509.1 808h0M503.7 836.9h0M488.1 808.4h0M496.4 813.6h0M500.4 807.2h0M505.2 798.4h0M516.4 807h0M504.9 815.7h0M523.3 813h0M500.2 818.8h0M512.7 796.6h0M507.5 813.3h0M508.9 817.9h0M521.3 805.4h0M526.6 800.7h0M511.4 818.1h0M515.1 803.7h0M505.2 815.8h0M503.3 817.9h0M499.4 810.9h0M519.8 805.9h0M496.2 797.3h0M523.1 818.1h0M485.8 817.6h0M497.7 806.4h0M491.8 818.3h0M480.5 812h0M527.2 810.7h0M512.5 817.8h0M513.8 809.3h0M482.3 817.3h0M502.2 832.6h0M507.3 820.1h0M519.8 807.7h0M492.1 800.7h0M519.1 816.9h0M508.5 826.3h0M490.8 817h0M528.3 813.9h0M469.5 830.2h0M518.9 799.5h0M493.9 817.6h0M517.6 803.3h0M510.9 816.3h0M537.1 822.8h0M511.1 802.4h0M493.1 814.8h0M513 807.6h0M529.3 815.1h0M520.3 813.8h0M500.4 814.2h0M489.3 811.2h0M510.1 812.7h0M502.9 816h0M514.1 812.9h0M498.6 825.8h0M509.3 803.7h0M497.7 812.2h0M501.4 812.2h0M495.8 836.7h0M492.1 817.9h0M497.7 815.1h0M503.8 826.6h0M515.7 806.7h0M520.2 801.7h0M532.3 807.2h0M528.7 803.1h0M511.1 802.7h0M497.6 834.1h0M510.7 815.9h0M502.2 822.7h0M512.7 804h0M507.7 813.6h0M499.9 824.3h0M516.5 818h0M505.4 796.9h0M521.2 802.6h0M504 810.9h0M518.2 796.9h0M521.9 794.8h0M523.8 794.8h0M523.9 806.2h0M487.5 818.8h0M513.8 814.7h0M522.7 810.9h0M508.9 818.8h0M526.7 810h0M495.9 813.9h0M517.7 818.8h0M533.1 809.9h0M505.1 827h0M517.7 797.5h0M503.9 817.4h0M510.9 810.8h0M509.7 798.6h0M507.5 826h0M483.7 802.4h0M510.8 807.5h0M495.5 812.7h0M503 829.8h0M504.7 821h0M495 818.7h0M489.4 819.2h0M520.2 797.5h0M514.2 825.4h0M513.5 808.7h0M505.1 828.8h0M482.1 830.6h0M496.6 812.2h0M494 814.2h0M488 806.3h0M495.8 803.1h0M502.9 814.8h0M478.2 819.1h0M489.4 829.3h0M477.2 839.1h0M519 808.9h0M512.5 798.7h0M499.8 802.3h0M503.8 815h0M496.2 819.9h0M504.9 801.3h0M498.9 818.8h0M503.9 816.9h0M531.7 802.9h0M534.6 817.3h0M527.4 810.1h0M490.2 820.3h0M473.7 823.2h0M519.3 812.9h0M510.2 802.6h0M483.5 810h0M521.8 816.1h0M519.7 805.8h0M516.8 803.9h0M513.7 823.5h0M497.5 813.7h0M530 816.4h0M500.8 814h0M499.2 822.1h0M494.7 810.2h0M504.1 809h0M495.7 823.3h0M484.9 810.9h0M497.2 814.9h0M503.3 803h0M495.6 825.4h0M504.9 821.4h0M507.1 824.2h0M505 809.1h0M486.9 828.2h0M528.9 814.2h0M513.2 822.2h0M505.5 806.3h0M512.2 817.4h0M488.3 815.2h0M511.7 811.9h0M512.7 797.8h0M506.5 816.7h0M525.9 788.8h0M517.4 798.3h0M481.8 826.2h0M504.7 817.3h0M507.8 826.3h0M536.3 802.9h0M501.3 805h0M488.3 818h0M500.7 815.5h0M515.2 819.9h0M518.2 805.4h0M510.6 804.2h0M500.9 828h0M511.1 806.5h0M523.8 812.6h0M512.5 801.5h0M505.3 810.1h0M501.6 817.5h0M518.1 801.4h0M510.2 813.2h0M505.2 818.1h0M507.5 812.5h0M526.9 808h0M507 813.9h0M507.7 810.9h0M495.3 811h0M514 797.4h0M520.3 803.6h0M517.4 801.7h0M511.4 808.3h0M515.8 812.1h0M486.3 812.9h0M522.2 810.6h0M520.1 802.5h0M498 824.9h0M486.5 806.2h0M520.8 806.7h0M476.2 823.5h0M507.1 819.3h0M491.8 808.1h0M501.7 811.9h0M520 811.3h0M510.2 808.8h0M534.7 806.7h0M516.3 803.2h0M526.9 814.7h0M496 818.7h0M494 828.9h0M507.8 807.1h0M489.8 810h0M519.1 818.3h0M502.9 800.3h0M509 809.5h0M522.8 809.8h0M492 820.1h0M497 816.6h0M509.6 801.8h0M492.2 810h0M518.2 816.1h0M505 816.4h0M500.8 814h0M508 807.8h0M499.3 811.1h0M515.7 814.5h0M503.5 810.7h0M489.2 805.3h0M477.9 823.2h0M490.9 824h0M482.3 810.2h0M498.2 813.2h0M509.1 797.9h0M513.2 810.2h0M491 825h0M486.1 814h0M489.5 810.6h0M518.7 809h0M522.6 812.3h0M495.1 805.2h0M520.1 812.3h0M483.6 809.2h0M510.9 817.3h0M499.7 820.6h0M490.5 803.8h0M485.8 802.5h0M478.3 816.5h0M514.7 805.6h0M531.2 805.5h0M517.2 817.6h0M470.4 814.4h0M496.5 810.2h0M524.8 795.7h0M510.5 822.3h0M501.9 829.9h0M502.1 817.5h0M489 829.9h0M491.2 814.4h0M499.8 818.7h0M508.4 800.3h0M511.8 812.5h0M497.1 823.4h0M513 810.9h0M498.2 802.4h0M514 805.9h0M488.8 825.9h0M530.9 809.5h0M511.4 802.3h0M491.8 822.3h0M494.4 820h0M506.7 800.7h0M519.5 820.1h0M486.7 834.4h0M504.8 802.4h0M514.4 822.7h0M521.3 810.6h0M508.9 818h0M475.1 803.6h0M489.1 813.2h0M483.8 826.5h0M477.5 813.1h0M501.4 822.3h0M496.7 819.6h0M519.9 807.8h0M516.1 809.6h0M525 828.8h0M507.8 808.2h0M496.3 807.6h0M520.6 798.9h0M514.5 803.1h0M502.5 801.8h0M516.9 804.9h0M506.7 814.4h0M507 810h0M515.6 822.5h0M506.6 795.1h0M512.5 803.5h0M502.9 825.2h0M509.1 811.7h0M518.3 792.5h0M514.4 816.1h0M523.5 806.8h0M514.3 795h0M525.7 817.2h0M509.2 827.2h0M511.7 819.5h0M504.8 814.8h0M500.2 822.9h0M528.7 810.9h0M485 813h0M489.2 822.1h0M514.8 811.5h0M504.2 800.4h0M521.6 816.6h0M506.2 825.3h0M511.5 807.2h0M485.6 823.7h0M487.1 810.2h0M499.3 808.1h0M512 804.6h0M499.5 816.3h0M506.8 813.6h0M503.8 821.4h0M515.5 814.3h0M525.6 807.9h0M487.3 805.7h0M498 822.5h0M494.4 826.1h0M501 809.2h0M495.3 824.1h0M512.9 810.6h0M499.9 812.8h0M491.9 817h0M498.9 801h0M504.8 816.6h0M470.6 834.4h0M474.6 833.8h0M506.3 807.3h0M500.6 808.7h0M510.8 807h0M480.6 817.7h0M505.8 815.7h0M507.2 825.1h0M505.1 812.5h0M509.8 816.1h0M504.9 806.3h0M514.6 831.3h0M527.8 817.9h0M513.8 819.9h0M514.5 809.7h0M509.5 809.5h0M513.1 806.5h0M515.9 809.4h0M511.4 817.3h0M479 818.8h0M526.8 808.4h0M502 814.5h0M523.8 819.8h0M532.8 795.9h0M488.3 821.9h0M506 811.2h0M499.3 827.3h0M506.7 811.1h0M494.9 818.4h0M490 801.9h0M499 816.2h0M498.4 827.4h0M474.8 827.2h0M485.9 814.8h0M515.9 809.1h0M500.8 805.7h0M498.6 814.8h0M503.6 816.3h0M505 802.3h0M517.1 810.3h0M513.2 824.8h0M499.4 810.8h0M505.3 830.5h0M517.5 807h0M485.4 820.6h0M512.6 797.2h0M486.5 826.2h0M524.6 814.2h0M499.8 820.6h0M503.3 805.7h0M512 822.8h0M500.1 796.3h0M468 822.2h0M492.7 826.8h0M481.8 795.7h0M485.2 815.2h0M491.8 809.8h0M511 805.2h0M486.2 809.4h0M510.1 807.9h0M495.8 822.5h0M507.2 814.2h0M481.4 811.8h0M505.6 821.2h0M491.7 816.6h0M510.8 812.4h0M508.9 795.8h0M525.3 806.8h0M551.1 811.9h0M530.2 816.9h0M520.7 812.4h0M524.7 819.8h0M522.7 808.1h0M531.5 811.3h0M523.5 809.7h0M528.7 803.3h0M523.7 809.7h0M524.1 814.7h0M534.7 807.5h0M536.3 808.3h0M550.7 803.6h0M520 806.2h0M544.5 815.3h0M533.3 809.3h0M530.2 828.8h0M521.5 798.5h0M536.7 804.3h0M535.2 809.8h0M519.6 808.6h0M544 825.7h0M535.6 798.2h0M528.1 802.6h0M535.5 795h0M548.5 809.2h0M526.2 821.3h0M554 806.4h0M547.7 806.8h0M522.6 808.9h0M528.7 792h0M522.3 813.9h0M530.1 802.4h0M586 802.8h0M525.8 814.2h0M540.8 830.1h0M520.1 832.4h0M541.9 802.2h0M534.6 823.3h0M527.4 826h0M539.6 798.4h0M565.6 816.1h0M532.7 801.8h0M543 819.1h0M522.8 817.1h0M529.7 806.3h0M522 814.8h0M524.8 815.9h0M525 806.9h0M552.8 811.1h0M534 812.8h0M556.8 799h0M561.2 815h0M521.2 817.3h0M528.9 807.8h0M536.2 808.6h0M549.5 820.4h0M553 783h0M540.2 811.6h0M556.9 819.7h0M520.8 820.6h0M545 818.3h0M532.3 804h0M529.8 809.4h0M524.1 819.1h0M525.7 820.2h0M523.2 819h0M547.2 802.6h0M519.4 808.6h0M544.3 807h0M545.5 816.3h0M540.9 806.4h0M528.3 814.4h0M527.8 802.3h0M547 812.3h0M533.4 791.8h0M523.2 818.2h0M522.7 811.6h0M519.9 818.9h0M535.2 821.5h0M523.5 822.6h0M519 811.7h0M521.7 814h0M557.1 808.2h0M534 804.7h0M531.1 812.6h0M527.9 802.1h0M524.7 808.8h0M528.3 794.5h0M527.4 814.4h0M539.4 813.4h0M535.5 809.6h0M521.3 814.6h0M536.5 812.1h0M550.3 792.7h0M526.3 809.3h0M537.9 809.1h0M531.2 802.4h0M540.8 812.1h0M539.6 807.9h0M533.1 817.6h0M534.5 808.7h0M521.7 806.3h0M532.6 800.9h0M520 815.9h0M544.1 797.9h0M546.8 818h0M533.9 800.5h0M548.7 803h0M526.4 798.1h0M532.6 818.3h0M527 830.4h0M544.1 815.9h0M534.4 815.6h0M523.7 816.7h0M527.8 811.3h0M546.6 802.4h0M532.4 808.9h0M536.3 812.5h0M544 811.3h0M547.2 786.3h0M521.2 829.4h0M533.8 795.1h0M563.9 815.1h0M524.4 808.8h0M527.1 810.6h0M520.9 815.8h0M539.2 808.4h0M519.6 816h0M529.1 830.7h0M525.3 805.2h0M519.8 820.1h0M561.5 826.7h0M523 804.6h0M536.1 802.8h0M565.8 792.3h0M528.8 835.4h0M534.2 824.1h0M543.2 801.7h0M534.4 806.3h0M573.9 813.5h0M530.9 803.7h0M544.5 803h0M533.2 814.4h0M536.6 816.2h0M524.4 824.8h0M545.5 809.9h0M551.4 814.6h0M519.6 811.4h0M532.1 822.1h0M518.8 827.5h0M532.8 796.3h0M553.1 821.5h0M560.9 811.1h0M531.3 809.9h0M550.2 811.6h0M525.2 810.7h0M525.2 814.5h0M531.2 815h0M526.9 822.1h0M520.4 806.8h0M520.2 804.2h0M523.6 803.5h0M521 809.6h0M524.4 818.4h0M540.4 812.2h0M521.4 801.3h0M536.3 814.8h0M520.8 820.2h0M537.6 810.5h0M520.6 813.3h0M549 811h0M523.9 805.2h0M536.6 806.5h0M529.2 803h0M521.3 814.9h0M531.5 815.4h0M534.2 810.1h0M529.3 818.7h0M538.7 813.9h0M528.2 812.2h0M542.2 810.3h0M539.9 797h0M529.6 798.8h0M528.6 810.2h0M535 813.6h0M539.2 788h0M542.1 812.8h0M530.5 822.2h0M522.5 809.3h0M531.4 813.9h0M519.6 823.9h0M526 799.5h0M543.8 810.9h0M542.8 810.9h0M543.6 808.2h0M548.8 794.6h0M575.3 805.9h0M530.2 805.3h0M526 812.3h0M520.1 815.5h0M522.9 805.1h0M533.2 813.8h0M553.6 806.9h0M522.7 817h0M559.1 812.9h0M557.2 812.1h0M552.1 811h0M541.7 801.8h0M531.1 806.1h0M522.3 810.3h0M532.9 823.2h0M545.6 808.3h0M546.6 807.2h0M547.2 791.7h0M530.1 803.3h0M522.4 796.7h0M537.7 809.9h0M524.3 800.3h0M549.6 797.1h0M524.2 809.3h0M527.8 811.2h0M534.4 803.3h0M532.6 813.6h0M530.3 803.3h0M542.9 806.3h0M524.6 816.4h0M526.9 812.1h0M528.4 823.4h0M530.2 806.1h0M536.8 794.3h0M549 801.8h0M524.3 811.7h0M523.7 802.1h0M561.7 800.7h0M533.3 821.2h0M575.7 803.5h0M525.9 814.7h0M528.9 809.4h0M539 815.9h0M526.3 810.7h0M549.4 805.7h0M539.8 805.1h0M541.8 818.3h0M524.8 820.3h0M540.1 796.3h0M533.4 809.8h0M529.7 802.3h0M526.1 814.9h0M547.9 809.2h0M522.1 815.9h0M521.2 819.3h0M527.4 809.6h0M535.7 819.5h0M529 820.3h0M536.2 805.6h0M527.7 810.5h0M518.7 813.9h0M523.7 811.5h0M524.9 835.9h0M539.6 808.4h0M535.6 811.5h0M543.1 788.4h0M538.2 813.7h0M537.8 822.1h0M519.6 813.3h0M542.9 801h0M542.3 811.2h0M537.3 806.4h0M522.4 814.1h0M566.3 814.7h0M521.1 813.2h0M523.6 809h0M524.2 828h0M570.4 809.3h0M520.7 808.5h0M537 804.8h0M534.9 794.6h0M518.8 820.1h0M521.4 807.2h0M544.6 802.2h0M527.7 830.5h0M531.6 809h0M559 793.4h0M553.2 804.1h0M530.6 819h0M546.5 799.4h0M563.6 823.8h0M525.9 793.8h0M563.8 804.1h0M536.9 818h0M524.3 815.2h0M523.7 804.3h0M524.8 817.1h0M520.5 816.7h0M533.4 804.2h0M524.6 821.8h0M538.9 819.5h0M539 803.9h0M553.6 797.4h0M523.4 808.4h0M519.3 808h0M531.2 822.3h0M519.4 805.8h0M563.8 817.2h0M527.9 794.1h0M588.3 789.6h0M542.7 792.3h0M552.3 805.2h0M555.7 813.3h0M530.4 813.6h0M523.1 794.9h0M529.3 815.8h0M535.9 801.9h0M523.8 807.9h0M526.1 815.2h0M534.1 816.7h0M563.4 802.6h0M519.7 826.8h0M559.4 804.7h0M518.9 814.1h0M524.3 800.6h0M537.8 817.2h0M526.1 814.5h0M521.3 799.3h0M523 818.2h0M540.6 813.2h0M520.3 821.2h0M534.7 799.1h0M525.8 819.3h0M522.6 818.9h0M533.2 811.1h0M531.7 804.8h0M535.2 807.3h0M530.6 806.2h0M566.8 805.5h0M529.7 816.9h0M525.1 810.2h0M547.2 816.9h0M522.2 829.8h0M529.9 809h0M537.8 806.1h0M519.8 816.8h0M527.2 811h0M525 803.2h0M550.2 822.6h0M525.7 807.5h0M532.1 809.5h0M519.8 813.5h0M539.6 803.7h0M565.8 800.5h0M528.2 811.8h0M539.9 800.5h0M555.8 808.4h0M520.7 806.5h0M540.8 806.6h0M521.3 809h0M564.3 802.7h0M580 805.6h0M543.7 801.2h0M521.6 809.7h0M538.9 809.9h0M526.8 821.2h0M521.3 804.7h0M533 812.4h0M567.6 799h0M583.3 794.2h0M520.7 817.4h0M548.8 813.9h0M532.3 809.6h0M526.6 816.5h0M531.2 810.4h0M569 794.1h0M540.7 815h0M542.8 816.8h0M533.4 814.8h0M525.8 802.4h0M559.8 812.7h0M537.4 809.9h0M524.6 814h0M558 806.2h0M528.3 812.7h0M526.6 804.1h0M563.5 817.8h0M527.9 809.6h0M558.4 805.1h0M540.3 808.4h0M524.4 820.5h0M522.4 810.5h0M520.5 822.6h0M551.8 810.4h0M520.5 821.2h0M552.1 794.8h0M553.2 801.3h0M545.6 806.5h0M518.9 795.6h0M525.3 806.3h0M562.7 799.7h0M522.2 815.3h0M529.8 806.7h0M544.6 807.4h0M539.5 819.8h0M581.1 802.5h0M525.3 806.3h0M521.7 803h0M530 810.9h0M577.1 801.9h0M541.2 817h0M535.5 817.4h0M553.3 807.1h0M527.7 802.4h0M537.6 810.4h0M532.7 811.1h0M525.6 815.5h0M525.9 811.6h0M528.5 812.8h0M520.6 814.8h0M525.3 818.6h0M537.9 812.1h0M539.2 801.1h0M520.4 799.6h0M536.2 809.7h0M532.1 814.2h0M519.6 810.5h0M519.9 808.3h0M531.3 804.8h0M547.3 805.3h0M551 811.4h0M537.8 815.9h0M526.3 815.7h0M519.2 812.6h0M557.7 814.9h0M554.8 799h0M566.7 811.5h0M535.1 814.7h0M522.9 805.3h0M543 811.6h0M521.9 812h0M557 795.2h0M553.6 800.7h0M560.8 816.7h0M521.5 822.2h0M535.1 793.6h0M531.2 823.3h0M549.2 804.3h0M523.1 816.8h0M530.1 804.3h0M518.9 810.2h0M533 804.3h0M558.4 805.2h0M534.4 807.8h0M518.9 807.2h0M547.6 815.4h0M550.9 802.7h0M555.5 813.1h0M523.8 825.7h0M539.3 808.9h0M550.3 798.4h0M544.9 794.1h0M525.8 808.9h0M523.4 817.6h0M534.5 804.7h0M536.8 817.3h0M539.2 821.5h0M549.3 810.2h0M542.2 805.4h0M543.2 797.5h0M551.9 811h0M533.3 821.8h0M537.4 815.8h0M534 825.9h0M560.2 804.9h0M521.1 809h0M535.8 818.3h0M548.2 810.7h0M519.3 809.9h0M532.5 814.7h0M532.7 803.2h0M524.6 822.5h0M458.8 827.7h0M478.7 832h0M468.8 833.3h0M484.3 827.1h0M475.7 813.1h0M475.2 838.6h0M483.7 825.5h0M482.2 826.1h0M484.4 816.3h0M478 825.6h0M477.2 823.8h0M477.6 819h0M463.6 820.5h0M474.7 825.6h0M472.5 832.8h0M472.3 829.9h0M465.9 830.9h0M445.8 822.2h0M462.1 822.3h0M470.5 828.5h0M464.8 845.9h0M463.9 829.3h0M484.5 833.4h0M464.4 822.6h0M475.2 818.6h0M475.3 810.4h0M481.5 832.7h0M480.6 835h0M478.5 830.6h0M481.9 836.4h0M472.8 827.5h0M462.7 822.3h0M483.5 809.4h0M479.5 829.2h0M483.2 830.8h0M482.9 816.1h0M481 836.4h0M467.3 820.7h0M481.1 829.7h0M472.4 835.2h0M464.5 842.8h0M481 815.3h0M484.3 824.9h0M469.8 821.7h0M467.3 826.1h0M481 828.1h0M482.6 830.8h0M469.9 823.6h0M473 820.5h0M476.7 818.1h0M450.8 813.5h0M480.7 815.8h0M466.3 837.2h0M464.1 818.4h0M480.5 822.2h0M465.2 824.9h0M468.7 818.3h0M474.2 812.5h0M458.6 838.6h0M469.9 825h0M469.9 830h0M476.8 815.7h0M478.1 822.1h0M438.6 824.8h0M454.7 818.8h0M474.5 837.6h0M467.2 835h0M483.8 833.2h0M475.9 842.8h0M448.4 835.5h0M463 828.2h0M461.3 825h0M477.3 824h0M478.5 830.8h0M472.5 832.3h0M469.1 831.9h0M484 831.5h0M473.7 827.6h0M481.1 821.1h0M484.1 816.7h0M481.8 828.7h0M461 812.7h0M480.8 827.4h0M467.5 839.9h0M454 847.5h0M476.6 827h0M478.2 825.3h0M465.6 827.4h0M482 827h0M478.7 823.7h0M460.9 816.4h0M484.1 826h0M476.7 828.9h0M482.8 816.6h0M484.7 816.2h0M482.7 816.4h0M468 834.9h0M483.3 830.6h0M464.8 828.2h0M480.9 819.3h0M453.1 823h0M464.7 837.9h0M466.1 826.8h0M475.3 842.6h0M484.7 826.1h0M482.2 824.3h0M482.8 833.4h0M450.7 843.7h0M484.9 826.8h0M480.3 828.2h0M477.6 823.7h0M483.4 821.1h0M478.3 826.4h0M483.9 809h0M479.5 814.4h0M470.2 837.2h0M469.7 846.2h0M484.7 817.9h0M449.9 835.8h0M469.4 811.2h0M475.4 823.4h0M480.2 827.9h0M477.8 830.2h0M484 827.9h0M464.5 830.2h0M455.8 839.2h0M460.9 828.5h0M473.5 835.3h0M482.5 809h0M474 824.2h0M554.7 802h0M513.3 837.9h0M442.3 810.5h0M445.5 824.3h0M532.2 793.2h0M443.1 810h0M542.4 798.1h0M510.4 783h0M516.7 805.7h0M584.1 807.1h0M483.8 808.2h0M494.5 814.2h0M528.6 783h0M555.3 792.2h0M550.6 800.7h0M541.8 807.2h0M567 795.6h0M469.7 809.3h0M577.3 824.6h0M477.5 815.6h0M529.3 809.8h0M479.8 832.1h0M452.7 835h0M469.8 831.8h0M487.6 821.1h0M528 803.4h0M463 820.5h0M586.6 785.1h0M545.2 800.1h0M579.2 783h0M489 812.2h0M522.2 829.2h0M574.2 809.5h0M578.9 816.4h0M507.7 812.7h0M547.3 804.8h0M509.7 787.7h0M477.9 845.5h0M469.7 824.3h0M455.1 826.1h0M451.1 830h0M469.1 808h0M542 805.5h0M521.1 836.7h0M551.9 798.6h0M487.1 839.1h0M525.3 805.7h0M493.3 826h0M441.7 833h0M506.1 818.3h0M467.9 801.1h0M488.9 799h0M582.1 799.9h0M511.9 831h0M536.3 804.8h0M520.2 819.5h0M480.1 816h0M557 795h0M578.4 807h0M466.3 819.1h0" stroke="#000" stroke-width="2.3" stroke-linecap="round" fill="none"/>
<path d="M413.8 856.7L492 818.3L599.6 792" stroke="#e34040" stroke-width="0.7" fill="none"/>
<circle cx="565.6" cy="749.9" r="1.25" fill="#a8181c"/>
<text x="561.5" y="757.8" font-size="4.7" font-style="italic" fill="#333">IL7R</text>
<circle cx="603.8" cy="770" r="1.25" fill="#a8181c"/>
<text x="596.5" y="760.6" font-size="4.7" font-style="italic" fill="#333">GZMK</text>
<circle cx="597" cy="774" r="1.25" fill="#a8181c"/>
<text x="589.4" y="766.9" font-size="4.7" font-style="italic" fill="#333">CXCR4</text>
<circle cx="597" cy="776" r="1.25" fill="#a8181c"/>
<circle cx="590" cy="779.4" r="1.25" fill="#a8181c"/>
<text x="571" y="776.6" font-size="4.7" font-style="italic" fill="#333">RGCC</text>
<circle cx="585.3" cy="784" r="1.25" fill="#a8181c"/>
<text x="578.5" y="772.6" font-size="4.7" font-style="italic" fill="#333">LMNA</text>
<circle cx="585.5" cy="789" r="1.25" fill="#a8181c"/>
<text x="589.8" y="786.1" font-size="4.7" font-style="italic" fill="#333">YPEL5</text>
<circle cx="588.6" cy="793.3" r="1.25" fill="#a8181c"/>
<text x="591.6" y="793.2" font-size="4.7" font-style="italic" fill="#333">DUSP2</text>
<circle cx="590" cy="797" r="1.25" fill="#a8181c"/>
<circle cx="595" cy="803.8" r="1.25" fill="#a8181c"/>
<text x="593.8" y="801.8" font-size="4.7" font-style="italic" fill="#333">CREM</text>
<circle cx="592" cy="806.4" r="1.25" fill="#a8181c"/>
<text x="593.8" y="810.4" font-size="4.7" font-style="italic" fill="#333">NR4A2</text>
<circle cx="592.2" cy="808.4" r="1.25" fill="#a8181c"/>
<text x="584.8" y="815.2" font-size="4.7" font-style="italic" fill="#333">ZFP36</text>
<circle cx="499.3" cy="770.4" r="1.25" fill="#a8181c"/>
<text x="496" y="767.8" font-size="4.7" font-style="italic" fill="#333">XCL1</text>
<circle cx="508.8" cy="770.4" r="1.25" fill="#a8181c"/>
<text x="512.5" y="768.6" font-size="4.7" font-style="italic" fill="#333">SELL</text>
<circle cx="538.7" cy="769.6" r="1.25" fill="#a8181c"/>
<text x="535.5" y="766.2" font-size="4.7" font-style="italic" fill="#333">CCR7</text>
<circle cx="555.7" cy="772.7" r="1.25" fill="#a8181c"/>
<text x="553.2" y="770.2" font-size="4.7" font-style="italic" fill="#333">CD44</text>
<circle cx="545.8" cy="776.3" r="1.25" fill="#a8181c"/>
<text x="524.5" y="778.4" font-size="4.7" font-style="italic" fill="#333">DUSP4</text>
<circle cx="430.4" cy="803.9" r="1.25" fill="#a8181c"/>
<text x="427.4" y="801" font-size="4.7" font-style="italic" fill="#333">GNLY</text>
<circle cx="431.5" cy="814.9" r="1.25" fill="#a8181c"/>
<text x="432.6" y="812.2" font-size="4.7" font-style="italic" fill="#333">KLRD1</text>
<circle cx="426.8" cy="820.8" r="1.25" fill="#a8181c"/>
<text x="411.4" y="818.9" font-size="4.7" font-style="italic" fill="#333">TXNIP</text>
<circle cx="424.4" cy="835.8" r="1.25" fill="#a8181c"/>
<text x="424" y="832.3" font-size="4.7" font-style="italic" fill="#333">TMSB10</text>
<circle cx="430.4" cy="840.5" r="1.25" fill="#a8181c"/>
<text x="433.8" y="837.8" font-size="4.7" font-style="italic" fill="#333">GZMB</text>
<circle cx="423.6" cy="846.4" r="1.25" fill="#a8181c"/>
<text x="410.2" y="844.5" font-size="4.7" font-style="italic" fill="#333">NKG7</text>
<circle cx="437.4" cy="848" r="1.25" fill="#a8181c"/>
<text x="430.4" y="855.5" font-size="4.7" font-style="italic" fill="#333">CX3CR1</text>
<circle cx="413.8" cy="856.7" r="1.25" fill="#a8181c"/>
<text x="407.8" y="863" font-size="4.7" font-style="italic" fill="#333">GZMH</text>
<circle cx="423.6" cy="863.4" r="1.25" fill="#a8181c"/>
<text x="412.3" y="870.1" font-size="4.7" font-style="italic" fill="#333">FGFBP2</text>
<circle cx="450.5" cy="863.8" r="1.25" fill="#a8181c"/>
<text x="442" y="860.2" font-size="4.7" font-style="italic" fill="#333">PRF1</text>
<circle cx="438.2" cy="867.3" r="1.25" fill="#a8181c"/>
<text x="442.2" y="870.1" font-size="4.7" font-style="italic" fill="#333">FCGR3A</text>
<circle cx="458.3" cy="861" r="1.25" fill="#a8181c"/>
<text x="460" y="866.6" font-size="4.7" font-style="italic" fill="#333">SPON2</text>
<circle cx="465" cy="856.3" r="1.25" fill="#a8181c"/>
<text x="465.8" y="853.5" font-size="4.7" font-style="italic" fill="#333">CYBA</text>
<circle cx="469" cy="857" r="1.25" fill="#a8181c"/>
<text x="469" y="859.5" font-size="4.7" font-style="italic" fill="#333">PFN1</text>
<circle cx="484.7" cy="853.9" r="1.25" fill="#a8181c"/>
<text x="478.5" y="861.4" font-size="4.7" font-style="italic" fill="#333">GZMM</text>
<circle cx="491.8" cy="855.1" r="1.25" fill="#a8181c"/>
<text x="495" y="859" font-size="4.7" font-style="italic" fill="#333">CD247</text>
<circle cx="489.9" cy="850.4" r="1.25" fill="#a8181c"/>
<text x="495.6" y="864.2" font-size="4.7" font-style="italic" fill="#333">CST7</text>
<text x="410.5" y="759.3" font-size="7.4" fill="#222" stroke="#222" stroke-width="0.15">r<tspan font-size="4.2" dy="1.6">s</tspan><tspan dy="-1.6"> = 0.29, </tspan><tspan font-style="italic">P</tspan> &lt; 1 × 10<tspan font-size="5" dy="-3.4">−20</tspan></text>
<text x="509" y="893" font-size="7.6" text-anchor="middle" fill="#222" stroke="#222" stroke-width="0.15">CD8<tspan font-size="5" dy="-3">+</tspan><tspan dy="3"> T cells (</tspan><tspan font-style="italic">r</tspan><tspan font-size="4.4" dy="1.6">s</tspan><tspan dy="-1.6">)</tspan></text>
<text x="387.6" y="809" font-size="7.6" text-anchor="middle" fill="#222" stroke="#222" stroke-width="0.15" transform="rotate(-90 387.6 809)">NK cells (<tspan font-style="italic">r</tspan><tspan font-size="4.4" dy="1.6">s</tspan><tspan dy="-1.6">)</tspan></text></svg>
</body></html>
